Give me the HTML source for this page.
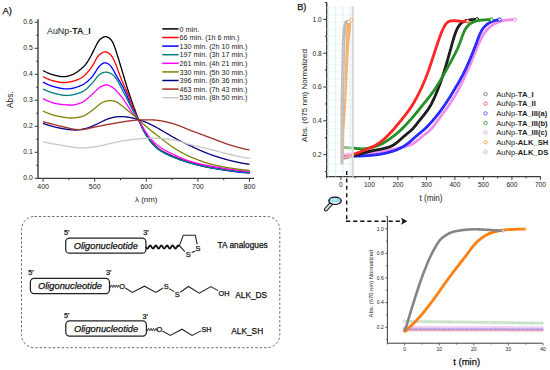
<!DOCTYPE html><html><head><meta charset="utf-8"><style>html,body{margin:0;padding:0;background:#fff;width:550px;height:370px;overflow:hidden;position:relative}svg text{stroke:none} svg text.dk{stroke:#111;stroke-width:0.25px;fill:#111}</style></head><body><svg width="550" height="370" viewBox="0 0 550 370" style="position:absolute;left:0;top:0">
<g font-family='"Liberation Sans", sans-serif'>
<text class="dk" x="2.4" y="13.6" font-size="9.5" fill="#1a1a1a">A)</text>
<path d="M38,19.2 V178.4 H254" fill="none" stroke="#3a3a3a" stroke-width="1.4"/>
<path d="M34.7,178.3 H38" stroke="#3a3a3a" stroke-width="1"/>
<text x="32.8" y="180.2" font-size="6.8" text-anchor="end" fill="#1a1a1a">0.0</text>
<path d="M34.7,152.3 H38" stroke="#3a3a3a" stroke-width="1"/>
<text x="32.8" y="154.2" font-size="6.8" text-anchor="end" fill="#1a1a1a">0.1</text>
<path d="M34.7,126.3 H38" stroke="#3a3a3a" stroke-width="1"/>
<text x="32.8" y="128.2" font-size="6.8" text-anchor="end" fill="#1a1a1a">0.2</text>
<path d="M34.7,100.3 H38" stroke="#3a3a3a" stroke-width="1"/>
<text x="32.8" y="102.2" font-size="6.8" text-anchor="end" fill="#1a1a1a">0.3</text>
<path d="M34.7,74.3 H38" stroke="#3a3a3a" stroke-width="1"/>
<text x="32.8" y="76.2" font-size="6.8" text-anchor="end" fill="#1a1a1a">0.4</text>
<path d="M34.7,48.3 H38" stroke="#3a3a3a" stroke-width="1"/>
<text x="32.8" y="50.2" font-size="6.8" text-anchor="end" fill="#1a1a1a">0.5</text>
<path d="M34.7,22.3 H38" stroke="#3a3a3a" stroke-width="1"/>
<text x="32.8" y="24.2" font-size="6.8" text-anchor="end" fill="#1a1a1a">0.6</text>
<path d="M36.2,165.3 H38" stroke="#3a3a3a" stroke-width="1"/>
<path d="M36.2,139.3 H38" stroke="#3a3a3a" stroke-width="1"/>
<path d="M36.2,113.3 H38" stroke="#3a3a3a" stroke-width="1"/>
<path d="M36.2,87.3 H38" stroke="#3a3a3a" stroke-width="1"/>
<path d="M36.2,61.3 H38" stroke="#3a3a3a" stroke-width="1"/>
<path d="M36.2,35.3 H38" stroke="#3a3a3a" stroke-width="1"/>
<path d="M43.1,178.4 V181.70000000000002" stroke="#3a3a3a" stroke-width="1"/>
<text x="43.1" y="188.9" font-size="7" text-anchor="middle" fill="#1a1a1a">400</text>
<path d="M94.7,178.4 V181.70000000000002" stroke="#3a3a3a" stroke-width="1"/>
<text x="94.7" y="188.9" font-size="7" text-anchor="middle" fill="#1a1a1a">500</text>
<path d="M146.3,178.4 V181.70000000000002" stroke="#3a3a3a" stroke-width="1"/>
<text x="146.3" y="188.9" font-size="7" text-anchor="middle" fill="#1a1a1a">600</text>
<path d="M197.9,178.4 V181.70000000000002" stroke="#3a3a3a" stroke-width="1"/>
<text x="197.9" y="188.9" font-size="7" text-anchor="middle" fill="#1a1a1a">700</text>
<path d="M249.5,178.4 V181.70000000000002" stroke="#3a3a3a" stroke-width="1"/>
<text x="249.5" y="188.9" font-size="7" text-anchor="middle" fill="#1a1a1a">800</text>
<path d="M68.9,178.4 V180.20000000000002" stroke="#3a3a3a" stroke-width="1"/>
<path d="M120.5,178.4 V180.20000000000002" stroke="#3a3a3a" stroke-width="1"/>
<path d="M172.1,178.4 V180.20000000000002" stroke="#3a3a3a" stroke-width="1"/>
<path d="M223.7,178.4 V180.20000000000002" stroke="#3a3a3a" stroke-width="1"/>
<text x="146.2" y="201.7" font-size="7.9" text-anchor="middle" fill="#1a1a1a">λ (nm)</text>
<text transform="translate(12.6,99.7) rotate(-90)" font-size="8.2" text-anchor="middle" fill="#1a1a1a">Abs.</text>
<text x="47" y="34.3" font-size="8.9" fill="#1a1a1a">AuNp-<tspan font-weight="bold">TA_I</tspan></text>
<path d="M43.0,70.5 L43.5,70.8 L44.0,71.0 L44.5,71.3 L45.0,71.5 L45.5,71.8 L46.0,72.0 L46.5,72.3 L47.0,72.5 L47.5,72.8 L48.0,73.0 L48.5,73.2 L49.0,73.4 L49.5,73.6 L50.0,73.8 L50.5,74.0 L51.0,74.2 L51.5,74.3 L52.0,74.5 L52.5,74.6 L53.0,74.8 L53.5,74.9 L54.0,75.1 L54.5,75.2 L55.0,75.3 L55.5,75.4 L56.0,75.6 L56.5,75.7 L57.0,75.8 L57.5,75.9 L58.0,76.0 L58.5,76.1 L59.0,76.2 L59.5,76.3 L60.0,76.4 L60.5,76.5 L61.0,76.5 L61.5,76.6 L62.0,76.7 L62.5,76.7 L63.0,76.7 L63.5,76.7 L64.0,76.7 L64.5,76.7 L65.0,76.7 L65.5,76.6 L66.0,76.5 L66.5,76.5 L67.0,76.4 L67.5,76.2 L68.0,76.1 L68.5,76.0 L69.0,75.8 L69.5,75.7 L70.0,75.5 L70.5,75.3 L71.0,75.1 L71.5,74.9 L72.0,74.8 L72.5,74.5 L73.0,74.3 L73.5,74.1 L74.0,73.8 L74.5,73.6 L75.0,73.3 L75.5,73.0 L76.0,72.7 L76.5,72.4 L77.0,72.0 L77.5,71.7 L78.0,71.3 L78.5,70.9 L79.0,70.6 L79.5,70.2 L80.0,69.8 L80.5,69.4 L81.0,69.0 L81.5,68.5 L82.0,68.1 L82.5,67.6 L83.0,67.2 L83.5,66.7 L84.0,66.2 L84.5,65.6 L85.0,65.1 L85.5,64.5 L86.0,63.9 L86.5,63.2 L87.0,62.5 L87.5,61.8 L88.0,61.0 L88.5,60.2 L89.0,59.4 L89.5,58.5 L90.0,57.6 L90.5,56.7 L91.0,55.8 L91.5,54.8 L92.0,53.9 L92.5,52.9 L93.0,51.9 L93.5,50.9 L94.0,49.9 L94.5,48.8 L95.0,47.8 L95.5,46.7 L96.0,45.7 L96.5,44.7 L97.0,43.8 L97.5,42.9 L98.0,42.0 L98.5,41.3 L99.0,40.6 L99.5,40.0 L100.0,39.5 L100.5,39.0 L101.0,38.6 L101.5,38.3 L102.0,37.9 L102.5,37.6 L103.0,37.4 L103.5,37.1 L104.0,36.9 L104.5,36.8 L105.0,36.7 L105.5,36.7 L106.0,36.7 L106.5,36.8 L107.0,36.9 L107.5,37.1 L108.0,37.3 L108.5,37.6 L109.0,37.9 L109.5,38.3 L110.0,38.7 L110.5,39.2 L111.0,39.7 L111.5,40.4 L112.0,41.1 L112.5,41.9 L113.0,42.9 L113.5,44.0 L114.0,45.3 L114.5,46.6 L115.0,48.0 L115.5,49.5 L116.0,51.0 L116.5,52.5 L117.0,54.1 L117.5,55.7 L118.0,57.2 L118.5,58.8 L119.0,60.5 L119.5,62.1 L120.0,63.8 L120.5,65.5 L121.0,67.1 L121.5,68.8 L122.0,70.5 L122.5,72.2 L123.0,73.9 L123.5,75.5 L124.0,77.2 L124.5,78.9 L125.0,80.5 L125.5,82.2 L126.0,83.8 L126.5,85.4 L127.0,87.0 L127.5,88.6 L128.0,90.2 L128.5,91.7 L129.0,93.3 L129.5,94.8 L130.0,96.2 L130.5,97.7 L131.0,99.1 L131.5,100.5 L132.0,101.9 L132.5,103.3 L133.0,104.7 L133.5,106.0 L134.0,107.4 L134.5,108.7 L135.0,110.1 L135.5,111.4 L136.0,112.8 L136.5,114.1 L137.0,115.5 L137.5,116.8 L138.0,118.0 L138.5,119.3 L139.0,120.5 L139.5,121.7 L140.0,122.8 L140.5,123.9 L141.0,125.0 L141.5,126.0 L142.0,127.1 L142.5,128.1 L143.0,129.0 L143.5,130.0 L144.0,130.9 L144.5,131.8 L145.0,132.7 L145.5,133.5 L146.0,134.4 L146.5,135.2 L147.0,136.0 L147.5,136.7 L148.0,137.5 L148.5,138.2 L149.0,138.9 L149.5,139.6 L150.0,140.2 L150.5,140.8 L151.0,141.4 L151.5,142.0 L152.0,142.6 L152.5,143.2 L153.0,143.7 L153.5,144.2 L154.0,144.8 L154.5,145.3 L155.0,145.7 L155.5,146.2 L156.0,146.7 L156.5,147.1 L157.0,147.5 L157.5,148.0 L158.0,148.4 L158.5,148.7 L159.0,149.1 L159.5,149.4 L160.0,149.8 L160.5,150.1 L161.0,150.4 L161.5,150.7 L162.0,151.0 L162.5,151.3 L163.0,151.6 L163.5,151.9 L164.0,152.1 L164.5,152.4 L165.0,152.7 L165.5,152.9 L166.0,153.2 L166.5,153.4 L167.0,153.6 L167.5,153.9 L168.0,154.1 L168.5,154.3 L169.0,154.5 L169.5,154.8 L170.0,155.0 L170.5,155.2 L171.0,155.4 L171.5,155.6 L172.0,155.8 L172.5,156.1 L173.0,156.3 L173.5,156.5 L174.0,156.7 L174.5,156.9 L175.0,157.1 L175.5,157.3 L176.0,157.5 L176.5,157.7 L177.0,157.9 L177.5,158.1 L178.0,158.3 L178.5,158.5 L179.0,158.7 L179.5,158.9 L180.0,159.1 L180.5,159.2 L181.0,159.4 L181.5,159.6 L182.0,159.8 L182.5,160.0 L183.0,160.1 L183.5,160.3 L184.0,160.5 L184.5,160.7 L185.0,160.8 L185.5,161.0 L186.0,161.1 L186.5,161.3 L187.0,161.5 L187.5,161.6 L188.0,161.8 L188.5,161.9 L189.0,162.1 L189.5,162.2 L190.0,162.4 L190.5,162.5 L191.0,162.7 L191.5,162.8 L192.0,162.9 L192.5,163.1 L193.0,163.2 L193.5,163.3 L194.0,163.5 L194.5,163.6 L195.0,163.8 L195.5,163.9 L196.0,164.0 L196.5,164.2 L197.0,164.3 L197.5,164.4 L198.0,164.5 L198.5,164.7 L199.0,164.8 L199.5,164.9 L200.0,165.0 L200.5,165.1 L201.0,165.3 L201.5,165.4 L202.0,165.5 L202.5,165.6 L203.0,165.7 L203.5,165.8 L204.0,166.0 L204.5,166.1 L205.0,166.2 L205.5,166.3 L206.0,166.4 L206.5,166.5 L207.0,166.6 L207.5,166.7 L208.0,166.8 L208.5,166.9 L209.0,167.0 L209.5,167.1 L210.0,167.2 L210.5,167.3 L211.0,167.4 L211.5,167.5 L212.0,167.6 L212.5,167.7 L213.0,167.7 L213.5,167.8 L214.0,167.9 L214.5,168.0 L215.0,168.1 L215.5,168.2 L216.0,168.3 L216.5,168.3 L217.0,168.4 L217.5,168.5 L218.0,168.6 L218.5,168.7 L219.0,168.7 L219.5,168.8 L220.0,168.9 L220.5,169.0 L221.0,169.0 L221.5,169.1 L222.0,169.2 L222.5,169.3 L223.0,169.3 L223.5,169.4 L224.0,169.5 L224.5,169.5 L225.0,169.6 L225.5,169.7 L226.0,169.8 L226.5,169.8 L227.0,169.9 L227.5,170.0 L228.0,170.0 L228.5,170.1 L229.0,170.2 L229.5,170.2 L230.0,170.3 L230.5,170.4 L231.0,170.4 L231.5,170.5 L232.0,170.6 L232.5,170.6 L233.0,170.7 L233.5,170.8 L234.0,170.8 L234.5,170.9 L235.0,170.9 L235.5,171.0 L236.0,171.1 L236.5,171.1 L237.0,171.2 L237.5,171.3 L238.0,171.3 L238.5,171.4 L239.0,171.4 L239.5,171.5 L240.0,171.6 L240.5,171.6 L241.0,171.7 L241.5,171.7 L242.0,171.8 L242.5,171.8 L243.0,171.9 L243.5,172.0 L244.0,172.0 L244.5,172.1 L245.0,172.1 L245.5,172.2 L246.0,172.2 L246.5,172.3 L247.0,172.3 L247.5,172.4 L248.0,172.4 L248.5,172.5 L249.0,172.5 L249.5,172.5 L249.6,172.6" fill="none" stroke="#000000" stroke-width="1.3" stroke-linejoin="round"/>
<path d="M43.0,76.5 L43.5,76.8 L44.0,77.0 L44.5,77.3 L45.0,77.6 L45.5,77.8 L46.0,78.1 L46.5,78.3 L47.0,78.6 L47.5,78.8 L48.0,79.0 L48.5,79.2 L49.0,79.4 L49.5,79.6 L50.0,79.8 L50.5,80.0 L51.0,80.2 L51.5,80.3 L52.0,80.5 L52.5,80.6 L53.0,80.7 L53.5,80.9 L54.0,81.0 L54.5,81.1 L55.0,81.2 L55.5,81.4 L56.0,81.5 L56.5,81.6 L57.0,81.7 L57.5,81.8 L58.0,81.9 L58.5,82.0 L59.0,82.1 L59.5,82.2 L60.0,82.3 L60.5,82.3 L61.0,82.4 L61.5,82.4 L62.0,82.5 L62.5,82.5 L63.0,82.5 L63.5,82.5 L64.0,82.5 L64.5,82.5 L65.0,82.5 L65.5,82.5 L66.0,82.5 L66.5,82.4 L67.0,82.4 L67.5,82.3 L68.0,82.2 L68.5,82.1 L69.0,82.1 L69.5,82.0 L70.0,81.9 L70.5,81.8 L71.0,81.7 L71.5,81.6 L72.0,81.5 L72.5,81.4 L73.0,81.2 L73.5,81.1 L74.0,81.0 L74.5,80.8 L75.0,80.7 L75.5,80.5 L76.0,80.3 L76.5,80.1 L77.0,79.9 L77.5,79.7 L78.0,79.5 L78.5,79.3 L79.0,79.0 L79.5,78.8 L80.0,78.5 L80.5,78.3 L81.0,78.0 L81.5,77.7 L82.0,77.4 L82.5,77.0 L83.0,76.7 L83.5,76.3 L84.0,75.9 L84.5,75.4 L85.0,75.0 L85.5,74.5 L86.0,74.0 L86.5,73.5 L87.0,72.9 L87.5,72.4 L88.0,71.8 L88.5,71.2 L89.0,70.6 L89.5,70.0 L90.0,69.3 L90.5,68.7 L91.0,68.0 L91.5,67.3 L92.0,66.5 L92.5,65.7 L93.0,64.9 L93.5,64.1 L94.0,63.1 L94.5,62.2 L95.0,61.3 L95.5,60.3 L96.0,59.4 L96.5,58.5 L97.0,57.7 L97.5,57.0 L98.0,56.4 L98.5,55.8 L99.0,55.2 L99.5,54.7 L100.0,54.3 L100.5,53.9 L101.0,53.5 L101.5,53.2 L102.0,52.9 L102.5,52.6 L103.0,52.3 L103.5,52.2 L104.0,52.0 L104.5,51.9 L105.0,51.9 L105.5,51.9 L106.0,52.0 L106.5,52.1 L107.0,52.3 L107.5,52.5 L108.0,52.8 L108.5,53.1 L109.0,53.4 L109.5,53.8 L110.0,54.3 L110.5,54.8 L111.0,55.3 L111.5,55.9 L112.0,56.6 L112.5,57.4 L113.0,58.3 L113.5,59.2 L114.0,60.2 L114.5,61.3 L115.0,62.4 L115.5,63.6 L116.0,64.8 L116.5,66.1 L117.0,67.5 L117.5,68.9 L118.0,70.3 L118.5,71.7 L119.0,73.1 L119.5,74.4 L120.0,75.8 L120.5,77.0 L121.0,78.3 L121.5,79.5 L122.0,80.7 L122.5,81.8 L123.0,83.0 L123.5,84.1 L124.0,85.2 L124.5,86.4 L125.0,87.5 L125.5,88.7 L126.0,89.8 L126.5,91.0 L127.0,92.2 L127.5,93.4 L128.0,94.6 L128.5,95.8 L129.0,97.1 L129.5,98.3 L130.0,99.6 L130.5,100.8 L131.0,102.1 L131.5,103.3 L132.0,104.6 L132.5,105.8 L133.0,107.1 L133.5,108.3 L134.0,109.5 L134.5,110.7 L135.0,111.8 L135.5,113.0 L136.0,114.1 L136.5,115.2 L137.0,116.3 L137.5,117.4 L138.0,118.4 L138.5,119.5 L139.0,120.6 L139.5,121.7 L140.0,122.8 L140.5,123.9 L141.0,125.0 L141.5,126.0 L142.0,127.1 L142.5,128.1 L143.0,129.1 L143.5,130.1 L144.0,131.1 L144.5,132.0 L145.0,132.9 L145.5,133.7 L146.0,134.6 L146.5,135.4 L147.0,136.2 L147.5,136.9 L148.0,137.7 L148.5,138.4 L149.0,139.1 L149.5,139.8 L150.0,140.4 L150.5,141.0 L151.0,141.6 L151.5,142.2 L152.0,142.8 L152.5,143.4 L153.0,143.9 L153.5,144.4 L154.0,145.0 L154.5,145.5 L155.0,145.9 L155.5,146.4 L156.0,146.9 L156.5,147.3 L157.0,147.7 L157.5,148.2 L158.0,148.6 L158.5,148.9 L159.0,149.3 L159.5,149.6 L160.0,150.0 L160.5,150.3 L161.0,150.6 L161.5,150.9 L162.0,151.2 L162.5,151.5 L163.0,151.8 L163.5,152.1 L164.0,152.3 L164.5,152.6 L165.0,152.9 L165.5,153.1 L166.0,153.4 L166.5,153.6 L167.0,153.8 L167.5,154.1 L168.0,154.3 L168.5,154.5 L169.0,154.7 L169.5,155.0 L170.0,155.2 L170.5,155.4 L171.0,155.6 L171.5,155.8 L172.0,156.0 L172.5,156.3 L173.0,156.5 L173.5,156.7 L174.0,156.9 L174.5,157.1 L175.0,157.3 L175.5,157.5 L176.0,157.7 L176.5,157.9 L177.0,158.1 L177.5,158.3 L178.0,158.5 L178.5,158.7 L179.0,158.9 L179.5,159.1 L180.0,159.3 L180.5,159.4 L181.0,159.6 L181.5,159.8 L182.0,160.0 L182.5,160.2 L183.0,160.3 L183.5,160.5 L184.0,160.7 L184.5,160.9 L185.0,161.0 L185.5,161.2 L186.0,161.3 L186.5,161.5 L187.0,161.7 L187.5,161.8 L188.0,162.0 L188.5,162.1 L189.0,162.3 L189.5,162.4 L190.0,162.6 L190.5,162.7 L191.0,162.9 L191.5,163.0 L192.0,163.1 L192.5,163.3 L193.0,163.4 L193.5,163.6 L194.0,163.7 L194.5,163.8 L195.0,164.0 L195.5,164.1 L196.0,164.2 L196.5,164.4 L197.0,164.5 L197.5,164.6 L198.0,164.8 L198.5,164.9 L199.0,165.0 L199.5,165.1 L200.0,165.3 L200.5,165.4 L201.0,165.5 L201.5,165.6 L202.0,165.7 L202.5,165.8 L203.0,166.0 L203.5,166.1 L204.0,166.2 L204.5,166.3 L205.0,166.4 L205.5,166.5 L206.0,166.6 L206.5,166.7 L207.0,166.8 L207.5,166.9 L208.0,167.0 L208.5,167.1 L209.0,167.2 L209.5,167.3 L210.0,167.4 L210.5,167.5 L211.0,167.6 L211.5,167.7 L212.0,167.8 L212.5,167.8 L213.0,167.9 L213.5,168.0 L214.0,168.1 L214.5,168.2 L215.0,168.3 L215.5,168.4 L216.0,168.5 L216.5,168.5 L217.0,168.6 L217.5,168.7 L218.0,168.8 L218.5,168.9 L219.0,169.0 L219.5,169.1 L220.0,169.1 L220.5,169.2 L221.0,169.3 L221.5,169.4 L222.0,169.5 L222.5,169.6 L223.0,169.6 L223.5,169.7 L224.0,169.8 L224.5,169.9 L225.0,169.9 L225.5,170.0 L226.0,170.1 L226.5,170.2 L227.0,170.3 L227.5,170.3 L228.0,170.4 L228.5,170.5 L229.0,170.5 L229.5,170.6 L230.0,170.7 L230.5,170.8 L231.0,170.8 L231.5,170.9 L232.0,171.0 L232.5,171.0 L233.0,171.1 L233.5,171.2 L234.0,171.2 L234.5,171.3 L235.0,171.4 L235.5,171.4 L236.0,171.5 L236.5,171.6 L237.0,171.6 L237.5,171.7 L238.0,171.7 L238.5,171.8 L239.0,171.8 L239.5,171.9 L240.0,172.0 L240.5,172.0 L241.0,172.1 L241.5,172.1 L242.0,172.2 L242.5,172.2 L243.0,172.3 L243.5,172.3 L244.0,172.4 L244.5,172.4 L245.0,172.4 L245.5,172.5 L246.0,172.5 L246.5,172.6 L247.0,172.6 L247.5,172.6 L248.0,172.7 L248.5,172.7 L249.0,172.7 L249.5,172.8 L249.6,172.8" fill="none" stroke="#ff0000" stroke-width="1.3" stroke-linejoin="round"/>
<path d="M43.0,82.2 L43.5,82.4 L44.0,82.7 L44.5,82.9 L45.0,83.2 L45.5,83.4 L46.0,83.7 L46.5,83.9 L47.0,84.1 L47.5,84.4 L48.0,84.6 L48.5,84.8 L49.0,85.0 L49.5,85.2 L50.0,85.4 L50.5,85.6 L51.0,85.8 L51.5,85.9 L52.0,86.1 L52.5,86.3 L53.0,86.4 L53.5,86.6 L54.0,86.7 L54.5,86.9 L55.0,87.0 L55.5,87.1 L56.0,87.2 L56.5,87.4 L57.0,87.5 L57.5,87.6 L58.0,87.7 L58.5,87.8 L59.0,87.9 L59.5,88.0 L60.0,88.1 L60.5,88.2 L61.0,88.3 L61.5,88.4 L62.0,88.5 L62.5,88.6 L63.0,88.7 L63.5,88.7 L64.0,88.8 L64.5,88.8 L65.0,88.9 L65.5,88.9 L66.0,88.9 L66.5,88.9 L67.0,89.0 L67.5,88.9 L68.0,88.9 L68.5,88.9 L69.0,88.9 L69.5,88.8 L70.0,88.7 L70.5,88.7 L71.0,88.6 L71.5,88.5 L72.0,88.4 L72.5,88.3 L73.0,88.2 L73.5,88.1 L74.0,87.9 L74.5,87.8 L75.0,87.6 L75.5,87.5 L76.0,87.3 L76.5,87.2 L77.0,87.0 L77.5,86.8 L78.0,86.7 L78.5,86.5 L79.0,86.3 L79.5,86.1 L80.0,85.9 L80.5,85.7 L81.0,85.5 L81.5,85.3 L82.0,85.1 L82.5,84.8 L83.0,84.6 L83.5,84.3 L84.0,84.0 L84.5,83.7 L85.0,83.3 L85.5,83.0 L86.0,82.6 L86.5,82.2 L87.0,81.8 L87.5,81.4 L88.0,81.0 L88.5,80.5 L89.0,80.0 L89.5,79.6 L90.0,79.1 L90.5,78.6 L91.0,78.0 L91.5,77.5 L92.0,76.9 L92.5,76.3 L93.0,75.6 L93.5,74.9 L94.0,74.2 L94.5,73.4 L95.0,72.6 L95.5,71.8 L96.0,71.0 L96.5,70.2 L97.0,69.4 L97.5,68.7 L98.0,68.0 L98.5,67.3 L99.0,66.7 L99.5,66.2 L100.0,65.6 L100.5,65.2 L101.0,64.7 L101.5,64.3 L102.0,63.9 L102.5,63.6 L103.0,63.3 L103.5,63.1 L104.0,62.9 L104.5,62.8 L105.0,62.8 L105.5,62.8 L106.0,62.9 L106.5,63.1 L107.0,63.3 L107.5,63.5 L108.0,63.8 L108.5,64.1 L109.0,64.4 L109.5,64.9 L110.0,65.3 L110.5,65.8 L111.0,66.4 L111.5,67.1 L112.0,67.9 L112.5,68.7 L113.0,69.5 L113.5,70.4 L114.0,71.3 L114.5,72.2 L115.0,73.1 L115.5,74.0 L116.0,74.9 L116.5,75.8 L117.0,76.6 L117.5,77.5 L118.0,78.3 L118.5,79.2 L119.0,80.1 L119.5,80.9 L120.0,81.8 L120.5,82.7 L121.0,83.6 L121.5,84.5 L122.0,85.4 L122.5,86.3 L123.0,87.3 L123.5,88.3 L124.0,89.2 L124.5,90.2 L125.0,91.3 L125.5,92.3 L126.0,93.4 L126.5,94.6 L127.0,95.7 L127.5,96.9 L128.0,98.2 L128.5,99.4 L129.0,100.7 L129.5,101.9 L130.0,103.2 L130.5,104.4 L131.0,105.5 L131.5,106.7 L132.0,107.7 L132.5,108.8 L133.0,109.8 L133.5,110.7 L134.0,111.6 L134.5,112.5 L135.0,113.4 L135.5,114.3 L136.0,115.1 L136.5,116.0 L137.0,116.9 L137.5,117.8 L138.0,118.7 L138.5,119.7 L139.0,120.7 L139.5,121.7 L140.0,122.8 L140.5,123.9 L141.0,125.0 L141.5,126.1 L142.0,127.1 L142.5,128.2 L143.0,129.2 L143.5,130.3 L144.0,131.2 L144.5,132.2 L145.0,133.1 L145.5,134.0 L146.0,134.8 L146.5,135.6 L147.0,136.4 L147.5,137.2 L148.0,138.0 L148.5,138.7 L149.0,139.4 L149.5,140.1 L150.0,140.7 L150.5,141.3 L151.0,141.9 L151.5,142.5 L152.0,143.1 L152.5,143.7 L153.0,144.2 L153.5,144.7 L154.0,145.3 L154.5,145.8 L155.0,146.2 L155.5,146.7 L156.0,147.2 L156.5,147.6 L157.0,148.0 L157.5,148.5 L158.0,148.9 L158.5,149.2 L159.0,149.6 L159.5,149.9 L160.0,150.3 L160.5,150.6 L161.0,150.9 L161.5,151.2 L162.0,151.5 L162.5,151.8 L163.0,152.1 L163.5,152.4 L164.0,152.7 L164.5,152.9 L165.0,153.2 L165.5,153.5 L166.0,153.7 L166.5,154.0 L167.0,154.2 L167.5,154.4 L168.0,154.7 L168.5,154.9 L169.0,155.1 L169.5,155.4 L170.0,155.6 L170.5,155.8 L171.0,156.0 L171.5,156.2 L172.0,156.4 L172.5,156.7 L173.0,156.9 L173.5,157.1 L174.0,157.3 L174.5,157.5 L175.0,157.7 L175.5,157.9 L176.0,158.1 L176.5,158.3 L177.0,158.5 L177.5,158.7 L178.0,158.9 L178.5,159.1 L179.0,159.3 L179.5,159.4 L180.0,159.6 L180.5,159.8 L181.0,160.0 L181.5,160.2 L182.0,160.3 L182.5,160.5 L183.0,160.7 L183.5,160.8 L184.0,161.0 L184.5,161.2 L185.0,161.3 L185.5,161.5 L186.0,161.7 L186.5,161.8 L187.0,162.0 L187.5,162.1 L188.0,162.3 L188.5,162.4 L189.0,162.6 L189.5,162.7 L190.0,162.9 L190.5,163.0 L191.0,163.2 L191.5,163.3 L192.0,163.4 L192.5,163.6 L193.0,163.7 L193.5,163.9 L194.0,164.0 L194.5,164.1 L195.0,164.3 L195.5,164.4 L196.0,164.5 L196.5,164.7 L197.0,164.8 L197.5,164.9 L198.0,165.1 L198.5,165.2 L199.0,165.3 L199.5,165.4 L200.0,165.6 L200.5,165.7 L201.0,165.8 L201.5,165.9 L202.0,166.0 L202.5,166.1 L203.0,166.3 L203.5,166.4 L204.0,166.5 L204.5,166.6 L205.0,166.7 L205.5,166.8 L206.0,166.9 L206.5,167.0 L207.0,167.1 L207.5,167.2 L208.0,167.3 L208.5,167.4 L209.0,167.5 L209.5,167.6 L210.0,167.7 L210.5,167.8 L211.0,167.9 L211.5,168.0 L212.0,168.1 L212.5,168.1 L213.0,168.2 L213.5,168.3 L214.0,168.4 L214.5,168.5 L215.0,168.6 L215.5,168.7 L216.0,168.7 L216.5,168.8 L217.0,168.9 L217.5,169.0 L218.0,169.1 L218.5,169.2 L219.0,169.3 L219.5,169.3 L220.0,169.4 L220.5,169.5 L221.0,169.6 L221.5,169.7 L222.0,169.7 L222.5,169.8 L223.0,169.9 L223.5,170.0 L224.0,170.1 L224.5,170.1 L225.0,170.2 L225.5,170.3 L226.0,170.4 L226.5,170.4 L227.0,170.5 L227.5,170.6 L228.0,170.7 L228.5,170.7 L229.0,170.8 L229.5,170.9 L230.0,171.0 L230.5,171.0 L231.0,171.1 L231.5,171.2 L232.0,171.2 L232.5,171.3 L233.0,171.4 L233.5,171.4 L234.0,171.5 L234.5,171.6 L235.0,171.6 L235.5,171.7 L236.0,171.7 L236.5,171.8 L237.0,171.9 L237.5,171.9 L238.0,172.0 L238.5,172.0 L239.0,172.1 L239.5,172.1 L240.0,172.2 L240.5,172.2 L241.0,172.3 L241.5,172.3 L242.0,172.4 L242.5,172.4 L243.0,172.5 L243.5,172.5 L244.0,172.6 L244.5,172.6 L245.0,172.7 L245.5,172.7 L246.0,172.7 L246.5,172.8 L247.0,172.8 L247.5,172.9 L248.0,172.9 L248.5,172.9 L249.0,172.9 L249.5,173.0 L249.6,173.0" fill="none" stroke="#0000ff" stroke-width="1.3" stroke-linejoin="round"/>
<path d="M43.0,89.0 L43.5,89.2 L44.0,89.5 L44.5,89.7 L45.0,89.9 L45.5,90.1 L46.0,90.4 L46.5,90.6 L47.0,90.8 L47.5,91.0 L48.0,91.2 L48.5,91.4 L49.0,91.6 L49.5,91.8 L50.0,92.0 L50.5,92.1 L51.0,92.3 L51.5,92.5 L52.0,92.6 L52.5,92.8 L53.0,92.9 L53.5,93.1 L54.0,93.2 L54.5,93.4 L55.0,93.5 L55.5,93.6 L56.0,93.7 L56.5,93.9 L57.0,94.0 L57.5,94.1 L58.0,94.2 L58.5,94.3 L59.0,94.4 L59.5,94.6 L60.0,94.7 L60.5,94.8 L61.0,94.9 L61.5,95.0 L62.0,95.0 L62.5,95.1 L63.0,95.2 L63.5,95.3 L64.0,95.3 L64.5,95.4 L65.0,95.4 L65.5,95.4 L66.0,95.4 L66.5,95.5 L67.0,95.5 L67.5,95.4 L68.0,95.4 L68.5,95.4 L69.0,95.3 L69.5,95.3 L70.0,95.2 L70.5,95.2 L71.0,95.1 L71.5,95.0 L72.0,94.9 L72.5,94.8 L73.0,94.7 L73.5,94.6 L74.0,94.5 L74.5,94.4 L75.0,94.3 L75.5,94.1 L76.0,94.0 L76.5,93.9 L77.0,93.7 L77.5,93.6 L78.0,93.4 L78.5,93.2 L79.0,93.1 L79.5,92.9 L80.0,92.7 L80.5,92.6 L81.0,92.4 L81.5,92.2 L82.0,91.9 L82.5,91.7 L83.0,91.4 L83.5,91.1 L84.0,90.8 L84.5,90.5 L85.0,90.1 L85.5,89.7 L86.0,89.3 L86.5,88.9 L87.0,88.5 L87.5,88.0 L88.0,87.5 L88.5,87.0 L89.0,86.5 L89.5,86.0 L90.0,85.5 L90.5,85.0 L91.0,84.5 L91.5,84.0 L92.0,83.4 L92.5,82.9 L93.0,82.3 L93.5,81.7 L94.0,81.1 L94.5,80.4 L95.0,79.8 L95.5,79.1 L96.0,78.4 L96.5,77.8 L97.0,77.1 L97.5,76.5 L98.0,76.0 L98.5,75.5 L99.0,75.0 L99.5,74.6 L100.0,74.2 L100.5,73.9 L101.0,73.6 L101.5,73.3 L102.0,73.1 L102.5,72.9 L103.0,72.7 L103.5,72.6 L104.0,72.4 L104.5,72.3 L105.0,72.2 L105.5,72.2 L106.0,72.2 L106.5,72.2 L107.0,72.2 L107.5,72.3 L108.0,72.4 L108.5,72.6 L109.0,72.8 L109.5,73.0 L110.0,73.2 L110.5,73.4 L111.0,73.7 L111.5,74.0 L112.0,74.3 L112.5,74.6 L113.0,75.0 L113.5,75.4 L114.0,75.9 L114.5,76.4 L115.0,77.0 L115.5,77.7 L116.0,78.4 L116.5,79.1 L117.0,79.9 L117.5,80.7 L118.0,81.6 L118.5,82.5 L119.0,83.4 L119.5,84.4 L120.0,85.3 L120.5,86.3 L121.0,87.2 L121.5,88.2 L122.0,89.2 L122.5,90.1 L123.0,91.1 L123.5,92.1 L124.0,93.0 L124.5,94.0 L125.0,95.0 L125.5,95.9 L126.0,96.9 L126.5,97.9 L127.0,99.0 L127.5,100.0 L128.0,101.0 L128.5,102.0 L129.0,103.0 L129.5,104.0 L130.0,105.0 L130.5,105.9 L131.0,106.9 L131.5,107.8 L132.0,108.7 L132.5,109.5 L133.0,110.3 L133.5,111.2 L134.0,112.0 L134.5,112.8 L135.0,113.6 L135.5,114.4 L136.0,115.2 L136.5,116.1 L137.0,116.9 L137.5,117.8 L138.0,118.8 L138.5,119.7 L139.0,120.7 L139.5,121.7 L140.0,122.8 L140.5,123.9 L141.0,125.0 L141.5,126.1 L142.0,127.2 L142.5,128.3 L143.0,129.3 L143.5,130.3 L144.0,131.3 L144.5,132.3 L145.0,133.2 L145.5,134.1 L146.0,134.9 L146.5,135.8 L147.0,136.6 L147.5,137.4 L148.0,138.1 L148.5,138.9 L149.0,139.6 L149.5,140.2 L150.0,140.9 L150.5,141.5 L151.0,142.1 L151.5,142.7 L152.0,143.3 L152.5,143.9 L153.0,144.4 L153.5,144.9 L154.0,145.5 L154.5,146.0 L155.0,146.5 L155.5,146.9 L156.0,147.4 L156.5,147.8 L157.0,148.2 L157.5,148.7 L158.0,149.1 L158.5,149.4 L159.0,149.8 L159.5,150.2 L160.0,150.5 L160.5,150.8 L161.0,151.1 L161.5,151.4 L162.0,151.8 L162.5,152.0 L163.0,152.3 L163.5,152.6 L164.0,152.9 L164.5,153.2 L165.0,153.4 L165.5,153.7 L166.0,153.9 L166.5,154.2 L167.0,154.4 L167.5,154.7 L168.0,154.9 L168.5,155.1 L169.0,155.3 L169.5,155.6 L170.0,155.8 L170.5,156.0 L171.0,156.2 L171.5,156.4 L172.0,156.6 L172.5,156.9 L173.0,157.1 L173.5,157.3 L174.0,157.5 L174.5,157.7 L175.0,157.9 L175.5,158.1 L176.0,158.3 L176.5,158.5 L177.0,158.7 L177.5,158.9 L178.0,159.0 L178.5,159.2 L179.0,159.4 L179.5,159.6 L180.0,159.8 L180.5,160.0 L181.0,160.1 L181.5,160.3 L182.0,160.5 L182.5,160.7 L183.0,160.8 L183.5,161.0 L184.0,161.2 L184.5,161.3 L185.0,161.5 L185.5,161.6 L186.0,161.8 L186.5,161.9 L187.0,162.1 L187.5,162.2 L188.0,162.4 L188.5,162.5 L189.0,162.7 L189.5,162.8 L190.0,162.9 L190.5,163.1 L191.0,163.2 L191.5,163.4 L192.0,163.5 L192.5,163.6 L193.0,163.8 L193.5,163.9 L194.0,164.0 L194.5,164.2 L195.0,164.3 L195.5,164.4 L196.0,164.6 L196.5,164.7 L197.0,164.8 L197.5,164.9 L198.0,165.1 L198.5,165.2 L199.0,165.3 L199.5,165.4 L200.0,165.6 L200.5,165.7 L201.0,165.8 L201.5,165.9 L202.0,166.0 L202.5,166.1 L203.0,166.2 L203.5,166.3 L204.0,166.5 L204.5,166.6 L205.0,166.7 L205.5,166.8 L206.0,166.9 L206.5,167.0 L207.0,167.1 L207.5,167.2 L208.0,167.2 L208.5,167.3 L209.0,167.4 L209.5,167.5 L210.0,167.6 L210.5,167.7 L211.0,167.8 L211.5,167.8 L212.0,167.9 L212.5,168.0 L213.0,168.1 L213.5,168.2 L214.0,168.3 L214.5,168.3 L215.0,168.4 L215.5,168.5 L216.0,168.6 L216.5,168.7 L217.0,168.7 L217.5,168.8 L218.0,168.9 L218.5,169.0 L219.0,169.0 L219.5,169.1 L220.0,169.2 L220.5,169.3 L221.0,169.3 L221.5,169.4 L222.0,169.5 L222.5,169.6 L223.0,169.6 L223.5,169.7 L224.0,169.8 L224.5,169.9 L225.0,169.9 L225.5,170.0 L226.0,170.1 L226.5,170.1 L227.0,170.2 L227.5,170.3 L228.0,170.3 L228.5,170.4 L229.0,170.5 L229.5,170.5 L230.0,170.6 L230.5,170.7 L231.0,170.7 L231.5,170.8 L232.0,170.9 L232.5,170.9 L233.0,171.0 L233.5,171.0 L234.0,171.1 L234.5,171.2 L235.0,171.2 L235.5,171.3 L236.0,171.3 L236.5,171.4 L237.0,171.4 L237.5,171.5 L238.0,171.5 L238.5,171.6 L239.0,171.6 L239.5,171.7 L240.0,171.7 L240.5,171.8 L241.0,171.8 L241.5,171.9 L242.0,171.9 L242.5,171.9 L243.0,172.0 L243.5,172.0 L244.0,172.1 L244.5,172.1 L245.0,172.1 L245.5,172.2 L246.0,172.2 L246.5,172.2 L247.0,172.3 L247.5,172.3 L248.0,172.3 L248.5,172.3 L249.0,172.4 L249.5,172.4 L249.6,172.4" fill="none" stroke="#008080" stroke-width="1.3" stroke-linejoin="round"/>
<path d="M43.0,98.7 L43.5,98.9 L44.0,99.2 L44.5,99.4 L45.0,99.7 L45.5,99.9 L46.0,100.1 L46.5,100.4 L47.0,100.6 L47.5,100.8 L48.0,101.0 L48.5,101.2 L49.0,101.4 L49.5,101.6 L50.0,101.8 L50.5,102.0 L51.0,102.2 L51.5,102.4 L52.0,102.6 L52.5,102.7 L53.0,102.9 L53.5,103.0 L54.0,103.1 L54.5,103.3 L55.0,103.4 L55.5,103.5 L56.0,103.6 L56.5,103.7 L57.0,103.8 L57.5,103.9 L58.0,103.9 L58.5,104.0 L59.0,104.1 L59.5,104.1 L60.0,104.2 L60.5,104.3 L61.0,104.3 L61.5,104.4 L62.0,104.5 L62.5,104.5 L63.0,104.6 L63.5,104.6 L64.0,104.7 L64.5,104.7 L65.0,104.8 L65.5,104.8 L66.0,104.9 L66.5,104.9 L67.0,104.9 L67.5,105.0 L68.0,105.0 L68.5,105.0 L69.0,105.0 L69.5,105.0 L70.0,105.1 L70.5,105.1 L71.0,105.1 L71.5,105.1 L72.0,105.0 L72.5,105.0 L73.0,105.0 L73.5,104.9 L74.0,104.8 L74.5,104.8 L75.0,104.7 L75.5,104.6 L76.0,104.4 L76.5,104.3 L77.0,104.2 L77.5,104.0 L78.0,103.9 L78.5,103.7 L79.0,103.5 L79.5,103.4 L80.0,103.2 L80.5,103.0 L81.0,102.8 L81.5,102.6 L82.0,102.3 L82.5,102.1 L83.0,101.8 L83.5,101.5 L84.0,101.2 L84.5,100.9 L85.0,100.5 L85.5,100.1 L86.0,99.8 L86.5,99.3 L87.0,98.9 L87.5,98.5 L88.0,98.0 L88.5,97.6 L89.0,97.1 L89.5,96.7 L90.0,96.2 L90.5,95.8 L91.0,95.3 L91.5,94.9 L92.0,94.4 L92.5,94.0 L93.0,93.5 L93.5,93.0 L94.0,92.6 L94.5,92.1 L95.0,91.6 L95.5,91.1 L96.0,90.6 L96.5,90.1 L97.0,89.6 L97.5,89.2 L98.0,88.7 L98.5,88.3 L99.0,87.9 L99.5,87.5 L100.0,87.2 L100.5,86.9 L101.0,86.6 L101.5,86.4 L102.0,86.1 L102.5,85.9 L103.0,85.7 L103.5,85.5 L104.0,85.4 L104.5,85.2 L105.0,85.1 L105.5,85.0 L106.0,85.0 L106.5,85.0 L107.0,85.0 L107.5,85.1 L108.0,85.2 L108.5,85.3 L109.0,85.5 L109.5,85.7 L110.0,86.0 L110.5,86.2 L111.0,86.5 L111.5,86.8 L112.0,87.1 L112.5,87.4 L113.0,87.8 L113.5,88.2 L114.0,88.6 L114.5,89.0 L115.0,89.5 L115.5,90.0 L116.0,90.5 L116.5,91.0 L117.0,91.5 L117.5,92.1 L118.0,92.6 L118.5,93.2 L119.0,93.7 L119.5,94.3 L120.0,94.9 L120.5,95.5 L121.0,96.1 L121.5,96.7 L122.0,97.4 L122.5,98.0 L123.0,98.7 L123.5,99.4 L124.0,100.1 L124.5,100.8 L125.0,101.6 L125.5,102.3 L126.0,103.1 L126.5,103.9 L127.0,104.7 L127.5,105.5 L128.0,106.3 L128.5,107.1 L129.0,107.9 L129.5,108.7 L130.0,109.4 L130.5,110.2 L131.0,110.9 L131.5,111.5 L132.0,112.2 L132.5,112.8 L133.0,113.4 L133.5,114.0 L134.0,114.5 L134.5,115.1 L135.0,115.6 L135.5,116.1 L136.0,116.7 L136.5,117.2 L137.0,117.8 L137.5,118.4 L138.0,119.1 L138.5,119.8 L139.0,120.5 L139.5,121.3 L140.0,122.1 L140.5,122.9 L141.0,123.8 L141.5,124.7 L142.0,125.6 L142.5,126.5 L143.0,127.4 L143.5,128.3 L144.0,129.2 L144.5,130.1 L145.0,130.9 L145.5,131.7 L146.0,132.5 L146.5,133.2 L147.0,133.9 L147.5,134.7 L148.0,135.4 L148.5,136.1 L149.0,136.7 L149.5,137.4 L150.0,138.0 L150.5,138.6 L151.0,139.2 L151.5,139.8 L152.0,140.3 L152.5,140.8 L153.0,141.3 L153.5,141.8 L154.0,142.3 L154.5,142.8 L155.0,143.2 L155.5,143.6 L156.0,144.1 L156.5,144.5 L157.0,144.9 L157.5,145.3 L158.0,145.7 L158.5,146.1 L159.0,146.4 L159.5,146.8 L160.0,147.1 L160.5,147.5 L161.0,147.8 L161.5,148.1 L162.0,148.5 L162.5,148.8 L163.0,149.1 L163.5,149.4 L164.0,149.7 L164.5,150.0 L165.0,150.3 L165.5,150.5 L166.0,150.8 L166.5,151.1 L167.0,151.3 L167.5,151.6 L168.0,151.8 L168.5,152.1 L169.0,152.3 L169.5,152.6 L170.0,152.8 L170.5,153.0 L171.0,153.3 L171.5,153.5 L172.0,153.8 L172.5,154.0 L173.0,154.2 L173.5,154.5 L174.0,154.7 L174.5,154.9 L175.0,155.2 L175.5,155.4 L176.0,155.6 L176.5,155.9 L177.0,156.1 L177.5,156.3 L178.0,156.6 L178.5,156.8 L179.0,157.0 L179.5,157.3 L180.0,157.5 L180.5,157.7 L181.0,157.9 L181.5,158.1 L182.0,158.4 L182.5,158.6 L183.0,158.8 L183.5,159.0 L184.0,159.2 L184.5,159.4 L185.0,159.6 L185.5,159.8 L186.0,160.0 L186.5,160.1 L187.0,160.3 L187.5,160.5 L188.0,160.7 L188.5,160.8 L189.0,161.0 L189.5,161.1 L190.0,161.3 L190.5,161.4 L191.0,161.6 L191.5,161.7 L192.0,161.9 L192.5,162.0 L193.0,162.2 L193.5,162.3 L194.0,162.4 L194.5,162.6 L195.0,162.7 L195.5,162.8 L196.0,163.0 L196.5,163.1 L197.0,163.2 L197.5,163.3 L198.0,163.5 L198.5,163.6 L199.0,163.7 L199.5,163.8 L200.0,163.9 L200.5,164.1 L201.0,164.2 L201.5,164.3 L202.0,164.4 L202.5,164.5 L203.0,164.6 L203.5,164.7 L204.0,164.8 L204.5,164.9 L205.0,165.0 L205.5,165.1 L206.0,165.2 L206.5,165.3 L207.0,165.4 L207.5,165.5 L208.0,165.6 L208.5,165.7 L209.0,165.8 L209.5,165.9 L210.0,166.0 L210.5,166.1 L211.0,166.2 L211.5,166.3 L212.0,166.4 L212.5,166.4 L213.0,166.5 L213.5,166.6 L214.0,166.7 L214.5,166.8 L215.0,166.9 L215.5,167.0 L216.0,167.1 L216.5,167.1 L217.0,167.2 L217.5,167.3 L218.0,167.4 L218.5,167.5 L219.0,167.6 L219.5,167.6 L220.0,167.7 L220.5,167.8 L221.0,167.9 L221.5,168.0 L222.0,168.1 L222.5,168.1 L223.0,168.2 L223.5,168.3 L224.0,168.4 L224.5,168.5 L225.0,168.5 L225.5,168.6 L226.0,168.7 L226.5,168.8 L227.0,168.8 L227.5,168.9 L228.0,169.0 L228.5,169.1 L229.0,169.1 L229.5,169.2 L230.0,169.3 L230.5,169.3 L231.0,169.4 L231.5,169.5 L232.0,169.5 L232.5,169.6 L233.0,169.7 L233.5,169.7 L234.0,169.8 L234.5,169.9 L235.0,169.9 L235.5,170.0 L236.0,170.1 L236.5,170.1 L237.0,170.2 L237.5,170.2 L238.0,170.3 L238.5,170.4 L239.0,170.4 L239.5,170.5 L240.0,170.5 L240.5,170.6 L241.0,170.6 L241.5,170.7 L242.0,170.7 L242.5,170.8 L243.0,170.8 L243.5,170.9 L244.0,170.9 L244.5,171.0 L245.0,171.0 L245.5,171.1 L246.0,171.1 L246.5,171.2 L247.0,171.2 L247.5,171.2 L248.0,171.3 L248.5,171.3 L249.0,171.3 L249.5,171.4 L249.6,171.4" fill="none" stroke="#ff00ff" stroke-width="1.3" stroke-linejoin="round"/>
<path d="M43.0,111.1 L43.5,111.3 L44.0,111.5 L44.5,111.8 L45.0,112.0 L45.5,112.2 L46.0,112.4 L46.5,112.6 L47.0,112.8 L47.5,113.0 L48.0,113.2 L48.5,113.4 L49.0,113.6 L49.5,113.8 L50.0,114.0 L50.5,114.2 L51.0,114.3 L51.5,114.5 L52.0,114.7 L52.5,114.8 L53.0,115.0 L53.5,115.1 L54.0,115.3 L54.5,115.4 L55.0,115.5 L55.5,115.6 L56.0,115.8 L56.5,115.9 L57.0,116.0 L57.5,116.1 L58.0,116.2 L58.5,116.3 L59.0,116.4 L59.5,116.5 L60.0,116.6 L60.5,116.7 L61.0,116.8 L61.5,116.9 L62.0,117.0 L62.5,117.0 L63.0,117.1 L63.5,117.2 L64.0,117.3 L64.5,117.4 L65.0,117.4 L65.5,117.5 L66.0,117.6 L66.5,117.6 L67.0,117.7 L67.5,117.8 L68.0,117.8 L68.5,117.8 L69.0,117.9 L69.5,117.9 L70.0,117.9 L70.5,118.0 L71.0,118.0 L71.5,118.0 L72.0,118.0 L72.5,118.0 L73.0,117.9 L73.5,117.9 L74.0,117.9 L74.5,117.8 L75.0,117.8 L75.5,117.7 L76.0,117.7 L76.5,117.6 L77.0,117.5 L77.5,117.5 L78.0,117.4 L78.5,117.3 L79.0,117.2 L79.5,117.1 L80.0,117.0 L80.5,116.9 L81.0,116.8 L81.5,116.7 L82.0,116.5 L82.5,116.4 L83.0,116.2 L83.5,116.0 L84.0,115.8 L84.5,115.5 L85.0,115.3 L85.5,115.0 L86.0,114.7 L86.5,114.4 L87.0,114.1 L87.5,113.7 L88.0,113.4 L88.5,113.0 L89.0,112.7 L89.5,112.3 L90.0,112.0 L90.5,111.6 L91.0,111.3 L91.5,110.9 L92.0,110.5 L92.5,110.2 L93.0,109.8 L93.5,109.4 L94.0,109.0 L94.5,108.6 L95.0,108.2 L95.5,107.8 L96.0,107.3 L96.5,106.9 L97.0,106.4 L97.5,106.0 L98.0,105.6 L98.5,105.1 L99.0,104.7 L99.5,104.3 L100.0,104.0 L100.5,103.6 L101.0,103.3 L101.5,103.0 L102.0,102.7 L102.5,102.4 L103.0,102.2 L103.5,102.0 L104.0,101.8 L104.5,101.7 L105.0,101.5 L105.5,101.4 L106.0,101.2 L106.5,101.1 L107.0,101.0 L107.5,100.9 L108.0,100.8 L108.5,100.8 L109.0,100.7 L109.5,100.7 L110.0,100.7 L110.5,100.7 L111.0,100.7 L111.5,100.7 L112.0,100.8 L112.5,100.8 L113.0,100.9 L113.5,101.0 L114.0,101.1 L114.5,101.2 L115.0,101.3 L115.5,101.5 L116.0,101.7 L116.5,101.9 L117.0,102.2 L117.5,102.5 L118.0,102.8 L118.5,103.1 L119.0,103.5 L119.5,103.9 L120.0,104.2 L120.5,104.6 L121.0,105.0 L121.5,105.4 L122.0,105.8 L122.5,106.2 L123.0,106.6 L123.5,107.0 L124.0,107.4 L124.5,107.8 L125.0,108.2 L125.5,108.6 L126.0,109.1 L126.5,109.5 L127.0,109.9 L127.5,110.3 L128.0,110.8 L128.5,111.2 L129.0,111.6 L129.5,112.0 L130.0,112.4 L130.5,112.9 L131.0,113.3 L131.5,113.7 L132.0,114.1 L132.5,114.5 L133.0,114.9 L133.5,115.4 L134.0,115.8 L134.5,116.2 L135.0,116.6 L135.5,117.0 L136.0,117.5 L136.5,117.9 L137.0,118.3 L137.5,118.8 L138.0,119.2 L138.5,119.6 L139.0,120.1 L139.5,120.5 L140.0,121.0 L140.5,121.4 L141.0,121.9 L141.5,122.4 L142.0,122.8 L142.5,123.3 L143.0,123.7 L143.5,124.2 L144.0,124.6 L144.5,125.1 L145.0,125.5 L145.5,126.0 L146.0,126.4 L146.5,126.8 L147.0,127.2 L147.5,127.6 L148.0,128.1 L148.5,128.5 L149.0,128.9 L149.5,129.3 L150.0,129.7 L150.5,130.1 L151.0,130.5 L151.5,130.9 L152.0,131.3 L152.5,131.7 L153.0,132.1 L153.5,132.5 L154.0,132.9 L154.5,133.3 L155.0,133.6 L155.5,134.0 L156.0,134.4 L156.5,134.8 L157.0,135.2 L157.5,135.6 L158.0,136.0 L158.5,136.4 L159.0,136.7 L159.5,137.1 L160.0,137.5 L160.5,137.9 L161.0,138.3 L161.5,138.7 L162.0,139.1 L162.5,139.5 L163.0,139.9 L163.5,140.3 L164.0,140.7 L164.5,141.0 L165.0,141.4 L165.5,141.8 L166.0,142.2 L166.5,142.6 L167.0,143.0 L167.5,143.3 L168.0,143.7 L168.5,144.1 L169.0,144.5 L169.5,144.8 L170.0,145.2 L170.5,145.5 L171.0,145.9 L171.5,146.2 L172.0,146.6 L172.5,146.9 L173.0,147.3 L173.5,147.6 L174.0,147.9 L174.5,148.2 L175.0,148.5 L175.5,148.9 L176.0,149.2 L176.5,149.5 L177.0,149.8 L177.5,150.1 L178.0,150.4 L178.5,150.7 L179.0,151.0 L179.5,151.3 L180.0,151.6 L180.5,151.8 L181.0,152.1 L181.5,152.4 L182.0,152.7 L182.5,152.9 L183.0,153.2 L183.5,153.5 L184.0,153.7 L184.5,154.0 L185.0,154.3 L185.5,154.5 L186.0,154.8 L186.5,155.0 L187.0,155.2 L187.5,155.5 L188.0,155.7 L188.5,155.9 L189.0,156.2 L189.5,156.4 L190.0,156.6 L190.5,156.8 L191.0,157.0 L191.5,157.3 L192.0,157.5 L192.5,157.7 L193.0,157.9 L193.5,158.1 L194.0,158.3 L194.5,158.5 L195.0,158.7 L195.5,158.9 L196.0,159.1 L196.5,159.3 L197.0,159.5 L197.5,159.7 L198.0,159.9 L198.5,160.1 L199.0,160.3 L199.5,160.5 L200.0,160.7 L200.5,160.9 L201.0,161.1 L201.5,161.2 L202.0,161.4 L202.5,161.6 L203.0,161.8 L203.5,161.9 L204.0,162.1 L204.5,162.3 L205.0,162.4 L205.5,162.6 L206.0,162.7 L206.5,162.9 L207.0,163.0 L207.5,163.2 L208.0,163.3 L208.5,163.5 L209.0,163.6 L209.5,163.8 L210.0,163.9 L210.5,164.0 L211.0,164.2 L211.5,164.3 L212.0,164.4 L212.5,164.5 L213.0,164.7 L213.5,164.8 L214.0,164.9 L214.5,165.0 L215.0,165.1 L215.5,165.2 L216.0,165.4 L216.5,165.5 L217.0,165.6 L217.5,165.7 L218.0,165.8 L218.5,165.9 L219.0,166.0 L219.5,166.1 L220.0,166.2 L220.5,166.3 L221.0,166.4 L221.5,166.5 L222.0,166.6 L222.5,166.7 L223.0,166.8 L223.5,166.9 L224.0,167.0 L224.5,167.1 L225.0,167.2 L225.5,167.3 L226.0,167.3 L226.5,167.4 L227.0,167.5 L227.5,167.6 L228.0,167.7 L228.5,167.8 L229.0,167.8 L229.5,167.9 L230.0,168.0 L230.5,168.1 L231.0,168.1 L231.5,168.2 L232.0,168.3 L232.5,168.4 L233.0,168.4 L233.5,168.5 L234.0,168.6 L234.5,168.7 L235.0,168.7 L235.5,168.8 L236.0,168.9 L236.5,168.9 L237.0,169.0 L237.5,169.1 L238.0,169.1 L238.5,169.2 L239.0,169.3 L239.5,169.3 L240.0,169.4 L240.5,169.5 L241.0,169.5 L241.5,169.6 L242.0,169.6 L242.5,169.7 L243.0,169.8 L243.5,169.8 L244.0,169.9 L244.5,169.9 L245.0,170.0 L245.5,170.0 L246.0,170.1 L246.5,170.1 L247.0,170.2 L247.5,170.2 L248.0,170.2 L248.5,170.3 L249.0,170.3 L249.5,170.4 L249.6,170.4" fill="none" stroke="#808000" stroke-width="1.3" stroke-linejoin="round"/>
<path d="M43.0,123.4 L43.5,123.6 L44.0,123.7 L44.5,123.9 L45.0,124.1 L45.5,124.2 L46.0,124.4 L46.5,124.6 L47.0,124.7 L47.5,124.9 L48.0,125.1 L48.5,125.2 L49.0,125.4 L49.5,125.5 L50.0,125.7 L50.5,125.8 L51.0,126.0 L51.5,126.1 L52.0,126.3 L52.5,126.4 L53.0,126.5 L53.5,126.7 L54.0,126.8 L54.5,126.9 L55.0,127.0 L55.5,127.2 L56.0,127.3 L56.5,127.4 L57.0,127.5 L57.5,127.6 L58.0,127.7 L58.5,127.8 L59.0,127.9 L59.5,128.0 L60.0,128.1 L60.5,128.2 L61.0,128.3 L61.5,128.4 L62.0,128.5 L62.5,128.6 L63.0,128.7 L63.5,128.8 L64.0,128.9 L64.5,128.9 L65.0,129.0 L65.5,129.1 L66.0,129.2 L66.5,129.3 L67.0,129.3 L67.5,129.4 L68.0,129.5 L68.5,129.5 L69.0,129.6 L69.5,129.6 L70.0,129.7 L70.5,129.7 L71.0,129.8 L71.5,129.8 L72.0,129.9 L72.5,129.9 L73.0,129.9 L73.5,129.9 L74.0,130.0 L74.5,130.0 L75.0,130.0 L75.5,130.0 L76.0,130.0 L76.5,129.9 L77.0,129.9 L77.5,129.9 L78.0,129.9 L78.5,129.8 L79.0,129.8 L79.5,129.7 L80.0,129.6 L80.5,129.6 L81.0,129.5 L81.5,129.4 L82.0,129.3 L82.5,129.2 L83.0,129.1 L83.5,129.0 L84.0,128.9 L84.5,128.8 L85.0,128.7 L85.5,128.5 L86.0,128.4 L86.5,128.3 L87.0,128.1 L87.5,128.0 L88.0,127.8 L88.5,127.6 L89.0,127.5 L89.5,127.3 L90.0,127.1 L90.5,126.9 L91.0,126.7 L91.5,126.5 L92.0,126.3 L92.5,126.1 L93.0,125.9 L93.5,125.6 L94.0,125.4 L94.5,125.2 L95.0,125.0 L95.5,124.7 L96.0,124.5 L96.5,124.3 L97.0,124.0 L97.5,123.8 L98.0,123.5 L98.5,123.3 L99.0,123.0 L99.5,122.8 L100.0,122.5 L100.5,122.3 L101.0,122.0 L101.5,121.8 L102.0,121.5 L102.5,121.3 L103.0,121.0 L103.5,120.8 L104.0,120.6 L104.5,120.4 L105.0,120.1 L105.5,119.9 L106.0,119.7 L106.5,119.5 L107.0,119.3 L107.5,119.1 L108.0,118.9 L108.5,118.7 L109.0,118.6 L109.5,118.4 L110.0,118.2 L110.5,118.1 L111.0,118.0 L111.5,117.8 L112.0,117.7 L112.5,117.6 L113.0,117.5 L113.5,117.3 L114.0,117.2 L114.5,117.2 L115.0,117.1 L115.5,117.0 L116.0,116.9 L116.5,116.9 L117.0,116.8 L117.5,116.8 L118.0,116.7 L118.5,116.7 L119.0,116.7 L119.5,116.6 L120.0,116.6 L120.5,116.6 L121.0,116.6 L121.5,116.6 L122.0,116.6 L122.5,116.6 L123.0,116.7 L123.5,116.7 L124.0,116.7 L124.5,116.8 L125.0,116.8 L125.5,116.8 L126.0,116.9 L126.5,117.0 L127.0,117.0 L127.5,117.1 L128.0,117.2 L128.5,117.2 L129.0,117.3 L129.5,117.4 L130.0,117.5 L130.5,117.6 L131.0,117.7 L131.5,117.8 L132.0,117.9 L132.5,118.0 L133.0,118.1 L133.5,118.3 L134.0,118.4 L134.5,118.5 L135.0,118.7 L135.5,118.8 L136.0,118.9 L136.5,119.1 L137.0,119.2 L137.5,119.4 L138.0,119.5 L138.5,119.7 L139.0,119.8 L139.5,120.0 L140.0,120.2 L140.5,120.3 L141.0,120.5 L141.5,120.7 L142.0,120.8 L142.5,121.0 L143.0,121.2 L143.5,121.4 L144.0,121.5 L144.5,121.7 L145.0,121.9 L145.5,122.1 L146.0,122.3 L146.5,122.5 L147.0,122.7 L147.5,123.0 L148.0,123.2 L148.5,123.4 L149.0,123.6 L149.5,123.9 L150.0,124.1 L150.5,124.3 L151.0,124.6 L151.5,124.8 L152.0,125.1 L152.5,125.3 L153.0,125.6 L153.5,125.9 L154.0,126.1 L154.5,126.4 L155.0,126.6 L155.5,126.9 L156.0,127.2 L156.5,127.5 L157.0,127.7 L157.5,128.0 L158.0,128.3 L158.5,128.6 L159.0,128.8 L159.5,129.1 L160.0,129.4 L160.5,129.7 L161.0,130.0 L161.5,130.3 L162.0,130.6 L162.5,130.9 L163.0,131.2 L163.5,131.5 L164.0,131.8 L164.5,132.0 L165.0,132.3 L165.5,132.6 L166.0,132.9 L166.5,133.2 L167.0,133.5 L167.5,133.8 L168.0,134.1 L168.5,134.4 L169.0,134.7 L169.5,135.0 L170.0,135.3 L170.5,135.6 L171.0,135.9 L171.5,136.2 L172.0,136.5 L172.5,136.8 L173.0,137.1 L173.5,137.3 L174.0,137.6 L174.5,137.9 L175.0,138.2 L175.5,138.4 L176.0,138.7 L176.5,139.0 L177.0,139.2 L177.5,139.5 L178.0,139.8 L178.5,140.0 L179.0,140.3 L179.5,140.5 L180.0,140.8 L180.5,141.0 L181.0,141.3 L181.5,141.5 L182.0,141.8 L182.5,142.0 L183.0,142.3 L183.5,142.5 L184.0,142.8 L184.5,143.0 L185.0,143.3 L185.5,143.5 L186.0,143.7 L186.5,144.0 L187.0,144.2 L187.5,144.5 L188.0,144.7 L188.5,144.9 L189.0,145.2 L189.5,145.4 L190.0,145.6 L190.5,145.9 L191.0,146.1 L191.5,146.4 L192.0,146.6 L192.5,146.8 L193.0,147.1 L193.5,147.3 L194.0,147.5 L194.5,147.8 L195.0,148.0 L195.5,148.2 L196.0,148.5 L196.5,148.7 L197.0,148.9 L197.5,149.1 L198.0,149.4 L198.5,149.6 L199.0,149.8 L199.5,150.0 L200.0,150.3 L200.5,150.5 L201.0,150.7 L201.5,150.9 L202.0,151.1 L202.5,151.4 L203.0,151.6 L203.5,151.8 L204.0,152.0 L204.5,152.2 L205.0,152.4 L205.5,152.6 L206.0,152.8 L206.5,153.0 L207.0,153.2 L207.5,153.4 L208.0,153.6 L208.5,153.8 L209.0,154.0 L209.5,154.2 L210.0,154.3 L210.5,154.5 L211.0,154.7 L211.5,154.9 L212.0,155.1 L212.5,155.2 L213.0,155.4 L213.5,155.6 L214.0,155.8 L214.5,155.9 L215.0,156.1 L215.5,156.3 L216.0,156.4 L216.5,156.6 L217.0,156.7 L217.5,156.9 L218.0,157.1 L218.5,157.2 L219.0,157.4 L219.5,157.5 L220.0,157.7 L220.5,157.8 L221.0,158.0 L221.5,158.1 L222.0,158.3 L222.5,158.4 L223.0,158.6 L223.5,158.7 L224.0,158.9 L224.5,159.0 L225.0,159.1 L225.5,159.3 L226.0,159.4 L226.5,159.6 L227.0,159.7 L227.5,159.8 L228.0,160.0 L228.5,160.1 L229.0,160.2 L229.5,160.3 L230.0,160.5 L230.5,160.6 L231.0,160.7 L231.5,160.8 L232.0,160.9 L232.5,161.1 L233.0,161.2 L233.5,161.3 L234.0,161.4 L234.5,161.5 L235.0,161.6 L235.5,161.8 L236.0,161.9 L236.5,162.0 L237.0,162.1 L237.5,162.2 L238.0,162.3 L238.5,162.4 L239.0,162.5 L239.5,162.6 L240.0,162.7 L240.5,162.8 L241.0,162.9 L241.5,163.0 L242.0,163.1 L242.5,163.2 L243.0,163.3 L243.5,163.4 L244.0,163.5 L244.5,163.6 L245.0,163.7 L245.5,163.7 L246.0,163.8 L246.5,163.9 L247.0,164.0 L247.5,164.0 L248.0,164.1 L248.5,164.2 L249.0,164.2 L249.5,164.3 L249.6,164.3" fill="none" stroke="#000080" stroke-width="1.3" stroke-linejoin="round"/>
<path d="M43.0,121.6 L43.5,121.7 L44.0,121.9 L44.5,122.0 L45.0,122.2 L45.5,122.3 L46.0,122.4 L46.5,122.6 L47.0,122.7 L47.5,122.8 L48.0,123.0 L48.5,123.1 L49.0,123.2 L49.5,123.4 L50.0,123.5 L50.5,123.6 L51.0,123.8 L51.5,123.9 L52.0,124.0 L52.5,124.2 L53.0,124.3 L53.5,124.4 L54.0,124.5 L54.5,124.7 L55.0,124.8 L55.5,124.9 L56.0,125.0 L56.5,125.2 L57.0,125.3 L57.5,125.4 L58.0,125.5 L58.5,125.7 L59.0,125.8 L59.5,125.9 L60.0,126.0 L60.5,126.1 L61.0,126.3 L61.5,126.4 L62.0,126.5 L62.5,126.6 L63.0,126.8 L63.5,126.9 L64.0,127.0 L64.5,127.1 L65.0,127.3 L65.5,127.4 L66.0,127.5 L66.5,127.6 L67.0,127.7 L67.5,127.9 L68.0,128.0 L68.5,128.1 L69.0,128.2 L69.5,128.3 L70.0,128.4 L70.5,128.6 L71.0,128.7 L71.5,128.8 L72.0,128.9 L72.5,129.0 L73.0,129.1 L73.5,129.1 L74.0,129.2 L74.5,129.3 L75.0,129.4 L75.5,129.4 L76.0,129.5 L76.5,129.5 L77.0,129.6 L77.5,129.6 L78.0,129.6 L78.5,129.7 L79.0,129.7 L79.5,129.7 L80.0,129.7 L80.5,129.7 L81.0,129.7 L81.5,129.6 L82.0,129.6 L82.5,129.5 L83.0,129.5 L83.5,129.4 L84.0,129.3 L84.5,129.3 L85.0,129.2 L85.5,129.1 L86.0,129.0 L86.5,128.9 L87.0,128.8 L87.5,128.7 L88.0,128.6 L88.5,128.5 L89.0,128.4 L89.5,128.2 L90.0,128.1 L90.5,128.0 L91.0,127.9 L91.5,127.8 L92.0,127.7 L92.5,127.6 L93.0,127.4 L93.5,127.3 L94.0,127.2 L94.5,127.1 L95.0,127.0 L95.5,126.9 L96.0,126.8 L96.5,126.7 L97.0,126.6 L97.5,126.5 L98.0,126.4 L98.5,126.3 L99.0,126.2 L99.5,126.1 L100.0,126.0 L100.5,125.9 L101.0,125.8 L101.5,125.7 L102.0,125.6 L102.5,125.5 L103.0,125.4 L103.5,125.3 L104.0,125.2 L104.5,125.1 L105.0,125.0 L105.5,124.9 L106.0,124.8 L106.5,124.7 L107.0,124.6 L107.5,124.5 L108.0,124.4 L108.5,124.4 L109.0,124.3 L109.5,124.2 L110.0,124.1 L110.5,124.0 L111.0,123.9 L111.5,123.8 L112.0,123.7 L112.5,123.6 L113.0,123.6 L113.5,123.5 L114.0,123.4 L114.5,123.3 L115.0,123.2 L115.5,123.1 L116.0,123.0 L116.5,122.9 L117.0,122.9 L117.5,122.8 L118.0,122.7 L118.5,122.6 L119.0,122.5 L119.5,122.4 L120.0,122.4 L120.5,122.3 L121.0,122.2 L121.5,122.1 L122.0,122.0 L122.5,121.9 L123.0,121.9 L123.5,121.8 L124.0,121.7 L124.5,121.6 L125.0,121.5 L125.5,121.5 L126.0,121.4 L126.5,121.3 L127.0,121.2 L127.5,121.2 L128.0,121.1 L128.5,121.0 L129.0,121.0 L129.5,120.9 L130.0,120.8 L130.5,120.8 L131.0,120.7 L131.5,120.6 L132.0,120.6 L132.5,120.5 L133.0,120.5 L133.5,120.4 L134.0,120.4 L134.5,120.3 L135.0,120.3 L135.5,120.2 L136.0,120.2 L136.5,120.1 L137.0,120.1 L137.5,120.1 L138.0,120.0 L138.5,120.0 L139.0,120.0 L139.5,120.0 L140.0,119.9 L140.5,119.9 L141.0,119.9 L141.5,119.9 L142.0,119.9 L142.5,119.9 L143.0,119.9 L143.5,119.9 L144.0,119.9 L144.5,119.8 L145.0,119.8 L145.5,119.8 L146.0,119.8 L146.5,119.8 L147.0,119.8 L147.5,119.8 L148.0,119.8 L148.5,119.8 L149.0,119.8 L149.5,119.8 L150.0,119.9 L150.5,119.9 L151.0,119.9 L151.5,119.9 L152.0,119.9 L152.5,119.9 L153.0,119.9 L153.5,120.0 L154.0,120.0 L154.5,120.0 L155.0,120.1 L155.5,120.1 L156.0,120.2 L156.5,120.2 L157.0,120.3 L157.5,120.3 L158.0,120.4 L158.5,120.5 L159.0,120.5 L159.5,120.6 L160.0,120.7 L160.5,120.8 L161.0,120.8 L161.5,120.9 L162.0,121.0 L162.5,121.1 L163.0,121.2 L163.5,121.3 L164.0,121.4 L164.5,121.5 L165.0,121.6 L165.5,121.8 L166.0,121.9 L166.5,122.0 L167.0,122.1 L167.5,122.2 L168.0,122.3 L168.5,122.5 L169.0,122.6 L169.5,122.7 L170.0,122.9 L170.5,123.0 L171.0,123.1 L171.5,123.3 L172.0,123.4 L172.5,123.5 L173.0,123.7 L173.5,123.8 L174.0,124.0 L174.5,124.1 L175.0,124.3 L175.5,124.5 L176.0,124.6 L176.5,124.8 L177.0,125.0 L177.5,125.1 L178.0,125.3 L178.5,125.5 L179.0,125.7 L179.5,125.9 L180.0,126.1 L180.5,126.3 L181.0,126.5 L181.5,126.7 L182.0,126.9 L182.5,127.1 L183.0,127.3 L183.5,127.5 L184.0,127.7 L184.5,127.9 L185.0,128.1 L185.5,128.4 L186.0,128.6 L186.5,128.8 L187.0,129.0 L187.5,129.2 L188.0,129.4 L188.5,129.6 L189.0,129.8 L189.5,130.0 L190.0,130.2 L190.5,130.4 L191.0,130.6 L191.5,130.8 L192.0,130.9 L192.5,131.1 L193.0,131.3 L193.5,131.5 L194.0,131.7 L194.5,131.9 L195.0,132.1 L195.5,132.3 L196.0,132.4 L196.5,132.6 L197.0,132.8 L197.5,133.0 L198.0,133.2 L198.5,133.4 L199.0,133.6 L199.5,133.7 L200.0,133.9 L200.5,134.1 L201.0,134.3 L201.5,134.5 L202.0,134.7 L202.5,134.8 L203.0,135.0 L203.5,135.2 L204.0,135.4 L204.5,135.6 L205.0,135.8 L205.5,135.9 L206.0,136.1 L206.5,136.3 L207.0,136.5 L207.5,136.7 L208.0,136.9 L208.5,137.1 L209.0,137.2 L209.5,137.4 L210.0,137.6 L210.5,137.8 L211.0,138.0 L211.5,138.2 L212.0,138.4 L212.5,138.6 L213.0,138.8 L213.5,138.9 L214.0,139.1 L214.5,139.3 L215.0,139.5 L215.5,139.7 L216.0,139.9 L216.5,140.1 L217.0,140.3 L217.5,140.5 L218.0,140.7 L218.5,140.9 L219.0,141.0 L219.5,141.2 L220.0,141.4 L220.5,141.6 L221.0,141.8 L221.5,142.0 L222.0,142.2 L222.5,142.4 L223.0,142.5 L223.5,142.7 L224.0,142.9 L224.5,143.1 L225.0,143.3 L225.5,143.4 L226.0,143.6 L226.5,143.8 L227.0,144.0 L227.5,144.1 L228.0,144.3 L228.5,144.5 L229.0,144.6 L229.5,144.8 L230.0,144.9 L230.5,145.1 L231.0,145.3 L231.5,145.4 L232.0,145.6 L232.5,145.7 L233.0,145.9 L233.5,146.0 L234.0,146.2 L234.5,146.3 L235.0,146.5 L235.5,146.6 L236.0,146.7 L236.5,146.9 L237.0,147.0 L237.5,147.2 L238.0,147.3 L238.5,147.4 L239.0,147.6 L239.5,147.7 L240.0,147.8 L240.5,148.0 L241.0,148.1 L241.5,148.2 L242.0,148.4 L242.5,148.5 L243.0,148.6 L243.5,148.7 L244.0,148.8 L244.5,149.0 L245.0,149.1 L245.5,149.2 L246.0,149.3 L246.5,149.4 L247.0,149.5 L247.5,149.6 L248.0,149.7 L248.5,149.7 L249.0,149.8 L249.5,149.9 L249.6,149.9" fill="none" stroke="#a03028" stroke-width="1.3" stroke-linejoin="round"/>
<path d="M43.0,141.9 L43.5,142.0 L44.0,142.1 L44.5,142.2 L45.0,142.3 L45.5,142.4 L46.0,142.5 L46.5,142.6 L47.0,142.7 L47.5,142.8 L48.0,142.9 L48.5,143.0 L49.0,143.0 L49.5,143.1 L50.0,143.2 L50.5,143.3 L51.0,143.4 L51.5,143.5 L52.0,143.6 L52.5,143.7 L53.0,143.8 L53.5,143.9 L54.0,144.0 L54.5,144.0 L55.0,144.1 L55.5,144.2 L56.0,144.3 L56.5,144.4 L57.0,144.5 L57.5,144.6 L58.0,144.7 L58.5,144.8 L59.0,144.8 L59.5,144.9 L60.0,145.0 L60.5,145.1 L61.0,145.2 L61.5,145.3 L62.0,145.4 L62.5,145.5 L63.0,145.6 L63.5,145.7 L64.0,145.7 L64.5,145.8 L65.0,145.9 L65.5,146.0 L66.0,146.1 L66.5,146.2 L67.0,146.3 L67.5,146.4 L68.0,146.5 L68.5,146.6 L69.0,146.7 L69.5,146.7 L70.0,146.8 L70.5,146.9 L71.0,147.0 L71.5,147.1 L72.0,147.2 L72.5,147.2 L73.0,147.3 L73.5,147.4 L74.0,147.4 L74.5,147.5 L75.0,147.6 L75.5,147.6 L76.0,147.7 L76.5,147.7 L77.0,147.8 L77.5,147.8 L78.0,147.8 L78.5,147.9 L79.0,147.9 L79.5,147.9 L80.0,147.9 L80.5,147.9 L81.0,147.9 L81.5,147.9 L82.0,147.9 L82.5,147.9 L83.0,147.9 L83.5,147.9 L84.0,147.9 L84.5,147.9 L85.0,147.8 L85.5,147.8 L86.0,147.8 L86.5,147.7 L87.0,147.7 L87.5,147.7 L88.0,147.6 L88.5,147.6 L89.0,147.5 L89.5,147.5 L90.0,147.4 L90.5,147.4 L91.0,147.3 L91.5,147.2 L92.0,147.2 L92.5,147.1 L93.0,147.0 L93.5,147.0 L94.0,146.9 L94.5,146.8 L95.0,146.7 L95.5,146.7 L96.0,146.6 L96.5,146.5 L97.0,146.4 L97.5,146.4 L98.0,146.3 L98.5,146.2 L99.0,146.1 L99.5,146.0 L100.0,145.9 L100.5,145.8 L101.0,145.7 L101.5,145.6 L102.0,145.5 L102.5,145.4 L103.0,145.3 L103.5,145.2 L104.0,145.1 L104.5,145.0 L105.0,144.8 L105.5,144.7 L106.0,144.6 L106.5,144.5 L107.0,144.3 L107.5,144.2 L108.0,144.1 L108.5,144.0 L109.0,143.8 L109.5,143.7 L110.0,143.6 L110.5,143.4 L111.0,143.3 L111.5,143.2 L112.0,143.1 L112.5,143.0 L113.0,142.8 L113.5,142.7 L114.0,142.6 L114.5,142.5 L115.0,142.4 L115.5,142.3 L116.0,142.2 L116.5,142.1 L117.0,142.0 L117.5,141.9 L118.0,141.8 L118.5,141.7 L119.0,141.6 L119.5,141.5 L120.0,141.4 L120.5,141.3 L121.0,141.2 L121.5,141.1 L122.0,141.0 L122.5,140.9 L123.0,140.8 L123.5,140.8 L124.0,140.7 L124.5,140.6 L125.0,140.5 L125.5,140.5 L126.0,140.4 L126.5,140.3 L127.0,140.2 L127.5,140.2 L128.0,140.1 L128.5,140.0 L129.0,140.0 L129.5,139.9 L130.0,139.8 L130.5,139.8 L131.0,139.7 L131.5,139.7 L132.0,139.6 L132.5,139.5 L133.0,139.5 L133.5,139.4 L134.0,139.4 L134.5,139.3 L135.0,139.3 L135.5,139.2 L136.0,139.2 L136.5,139.1 L137.0,139.1 L137.5,139.0 L138.0,139.0 L138.5,138.9 L139.0,138.9 L139.5,138.8 L140.0,138.8 L140.5,138.7 L141.0,138.7 L141.5,138.6 L142.0,138.6 L142.5,138.6 L143.0,138.5 L143.5,138.5 L144.0,138.5 L144.5,138.4 L145.0,138.4 L145.5,138.4 L146.0,138.3 L146.5,138.3 L147.0,138.3 L147.5,138.3 L148.0,138.3 L148.5,138.2 L149.0,138.2 L149.5,138.2 L150.0,138.2 L150.5,138.2 L151.0,138.2 L151.5,138.2 L152.0,138.2 L152.5,138.2 L153.0,138.2 L153.5,138.2 L154.0,138.2 L154.5,138.2 L155.0,138.2 L155.5,138.2 L156.0,138.2 L156.5,138.3 L157.0,138.3 L157.5,138.3 L158.0,138.3 L158.5,138.4 L159.0,138.4 L159.5,138.4 L160.0,138.4 L160.5,138.5 L161.0,138.5 L161.5,138.5 L162.0,138.6 L162.5,138.6 L163.0,138.7 L163.5,138.7 L164.0,138.7 L164.5,138.8 L165.0,138.8 L165.5,138.9 L166.0,138.9 L166.5,139.0 L167.0,139.0 L167.5,139.1 L168.0,139.1 L168.5,139.2 L169.0,139.3 L169.5,139.3 L170.0,139.4 L170.5,139.5 L171.0,139.5 L171.5,139.6 L172.0,139.7 L172.5,139.7 L173.0,139.8 L173.5,139.9 L174.0,140.0 L174.5,140.1 L175.0,140.2 L175.5,140.3 L176.0,140.4 L176.5,140.5 L177.0,140.7 L177.5,140.8 L178.0,140.9 L178.5,141.1 L179.0,141.2 L179.5,141.3 L180.0,141.5 L180.5,141.6 L181.0,141.8 L181.5,141.9 L182.0,142.1 L182.5,142.3 L183.0,142.4 L183.5,142.6 L184.0,142.7 L184.5,142.9 L185.0,143.1 L185.5,143.2 L186.0,143.4 L186.5,143.5 L187.0,143.7 L187.5,143.8 L188.0,144.0 L188.5,144.1 L189.0,144.3 L189.5,144.4 L190.0,144.5 L190.5,144.7 L191.0,144.8 L191.5,144.9 L192.0,145.1 L192.5,145.2 L193.0,145.3 L193.5,145.4 L194.0,145.6 L194.5,145.7 L195.0,145.8 L195.5,145.9 L196.0,146.1 L196.5,146.2 L197.0,146.3 L197.5,146.4 L198.0,146.5 L198.5,146.6 L199.0,146.7 L199.5,146.9 L200.0,147.0 L200.5,147.1 L201.0,147.2 L201.5,147.3 L202.0,147.4 L202.5,147.6 L203.0,147.7 L203.5,147.8 L204.0,147.9 L204.5,148.0 L205.0,148.1 L205.5,148.2 L206.0,148.4 L206.5,148.5 L207.0,148.6 L207.5,148.7 L208.0,148.8 L208.5,149.0 L209.0,149.1 L209.5,149.2 L210.0,149.3 L210.5,149.5 L211.0,149.6 L211.5,149.7 L212.0,149.8 L212.5,150.0 L213.0,150.1 L213.5,150.2 L214.0,150.3 L214.5,150.5 L215.0,150.6 L215.5,150.7 L216.0,150.9 L216.5,151.0 L217.0,151.1 L217.5,151.3 L218.0,151.4 L218.5,151.5 L219.0,151.7 L219.5,151.8 L220.0,151.9 L220.5,152.1 L221.0,152.2 L221.5,152.3 L222.0,152.5 L222.5,152.6 L223.0,152.7 L223.5,152.8 L224.0,153.0 L224.5,153.1 L225.0,153.2 L225.5,153.4 L226.0,153.5 L226.5,153.6 L227.0,153.7 L227.5,153.9 L228.0,154.0 L228.5,154.1 L229.0,154.2 L229.5,154.4 L230.0,154.5 L230.5,154.6 L231.0,154.7 L231.5,154.8 L232.0,154.9 L232.5,155.1 L233.0,155.2 L233.5,155.3 L234.0,155.4 L234.5,155.5 L235.0,155.6 L235.5,155.7 L236.0,155.9 L236.5,156.0 L237.0,156.1 L237.5,156.2 L238.0,156.3 L238.5,156.4 L239.0,156.5 L239.5,156.6 L240.0,156.7 L240.5,156.8 L241.0,156.9 L241.5,157.0 L242.0,157.1 L242.5,157.2 L243.0,157.4 L243.5,157.4 L244.0,157.5 L244.5,157.6 L245.0,157.7 L245.5,157.8 L246.0,157.9 L246.5,158.0 L247.0,158.1 L247.5,158.2 L248.0,158.2 L248.5,158.3 L249.0,158.4 L249.5,158.4 L249.6,158.5" fill="none" stroke="#c8c8c8" stroke-width="1.3" stroke-linejoin="round"/>
<path d="M162.3,28.9 H178.6" stroke="#000000" stroke-width="1.5"/>
<text x="179.6" y="31.5" font-size="7.2" fill="#1a1a1a">0 min.</text>
<path d="M162.3,37.5 H178.6" stroke="#ff0000" stroke-width="1.5"/>
<text x="179.6" y="40.1" font-size="7.2" fill="#1a1a1a">66 min. (1h 6 min.)</text>
<path d="M162.3,46.1 H178.6" stroke="#0000ff" stroke-width="1.5"/>
<text x="179.6" y="48.7" font-size="7.2" fill="#1a1a1a">130 min. (2h 10 min.)</text>
<path d="M162.3,54.7 H178.6" stroke="#008080" stroke-width="1.5"/>
<text x="179.6" y="57.3" font-size="7.2" fill="#1a1a1a">197 min. (3h 17 min.)</text>
<path d="M162.3,63.3 H178.6" stroke="#ff00ff" stroke-width="1.5"/>
<text x="179.6" y="65.9" font-size="7.2" fill="#1a1a1a">261 min. (4h 21 min.)</text>
<path d="M162.3,71.9 H178.6" stroke="#808000" stroke-width="1.5"/>
<text x="179.6" y="74.5" font-size="7.2" fill="#1a1a1a">330 min. (5h 30 min.)</text>
<path d="M162.3,80.5 H178.6" stroke="#000080" stroke-width="1.5"/>
<text x="179.6" y="83.1" font-size="7.2" fill="#1a1a1a">396 min. (6h 36 min.)</text>
<path d="M162.3,89.1 H178.6" stroke="#a03028" stroke-width="1.5"/>
<text x="179.6" y="91.7" font-size="7.2" fill="#1a1a1a">463 min. (7h 43 min.)</text>
<path d="M162.3,97.7 H178.6" stroke="#c8c8c8" stroke-width="1.5"/>
<text x="179.6" y="100.3" font-size="7.2" fill="#1a1a1a">530 min. (8h 50 min.)</text>
<text class="dk" x="297.2" y="10.2" font-size="9.2" fill="#1a1a1a">B)</text>
<path d="M326.7,2.6 V176.6 H540.6" fill="none" stroke="#3a3a3a" stroke-width="1.4"/>
<path d="M323.2,154.6 H326.7" stroke="#3a3a3a" stroke-width="1"/>
<text x="321.7" y="156.9" font-size="6.6" text-anchor="end" fill="#1a1a1a">0.2</text>
<path d="M323.2,120.8 H326.7" stroke="#3a3a3a" stroke-width="1"/>
<text x="321.7" y="123.1" font-size="6.6" text-anchor="end" fill="#1a1a1a">0.4</text>
<path d="M323.2,87.0 H326.7" stroke="#3a3a3a" stroke-width="1"/>
<text x="321.7" y="89.3" font-size="6.6" text-anchor="end" fill="#1a1a1a">0.6</text>
<path d="M323.2,53.2 H326.7" stroke="#3a3a3a" stroke-width="1"/>
<text x="321.7" y="55.5" font-size="6.6" text-anchor="end" fill="#1a1a1a">0.8</text>
<path d="M323.2,19.4 H326.7" stroke="#3a3a3a" stroke-width="1"/>
<text x="321.7" y="21.7" font-size="6.6" text-anchor="end" fill="#1a1a1a">1.0</text>
<path d="M324.9,171.5 H326.7" stroke="#3a3a3a" stroke-width="1"/>
<path d="M324.9,137.7 H326.7" stroke="#3a3a3a" stroke-width="1"/>
<path d="M324.9,103.9 H326.7" stroke="#3a3a3a" stroke-width="1"/>
<path d="M324.9,70.1 H326.7" stroke="#3a3a3a" stroke-width="1"/>
<path d="M324.9,36.3 H326.7" stroke="#3a3a3a" stroke-width="1"/>
<path d="M324.9,2.5 H326.7" stroke="#3a3a3a" stroke-width="1"/>
<path d="M340.9,176.6 V179.9" stroke="#3a3a3a" stroke-width="1"/>
<text x="340.9" y="187.3" font-size="6.6" text-anchor="middle" fill="#1a1a1a">0</text>
<path d="M369.4,176.6 V179.9" stroke="#3a3a3a" stroke-width="1"/>
<text x="369.4" y="187.3" font-size="6.6" text-anchor="middle" fill="#1a1a1a">100</text>
<path d="M397.9,176.6 V179.9" stroke="#3a3a3a" stroke-width="1"/>
<text x="397.9" y="187.3" font-size="6.6" text-anchor="middle" fill="#1a1a1a">200</text>
<path d="M426.4,176.6 V179.9" stroke="#3a3a3a" stroke-width="1"/>
<text x="426.4" y="187.3" font-size="6.6" text-anchor="middle" fill="#1a1a1a">300</text>
<path d="M454.9,176.6 V179.9" stroke="#3a3a3a" stroke-width="1"/>
<text x="454.9" y="187.3" font-size="6.6" text-anchor="middle" fill="#1a1a1a">400</text>
<path d="M483.4,176.6 V179.9" stroke="#3a3a3a" stroke-width="1"/>
<text x="483.4" y="187.3" font-size="6.6" text-anchor="middle" fill="#1a1a1a">500</text>
<path d="M511.9,176.6 V179.9" stroke="#3a3a3a" stroke-width="1"/>
<text x="511.9" y="187.3" font-size="6.6" text-anchor="middle" fill="#1a1a1a">600</text>
<path d="M540.4,176.6 V179.9" stroke="#3a3a3a" stroke-width="1"/>
<text x="540.4" y="187.3" font-size="6.6" text-anchor="middle" fill="#1a1a1a">700</text>
<path d="M326.6,176.6 V178.4" stroke="#3a3a3a" stroke-width="1"/>
<path d="M355.1,176.6 V178.4" stroke="#3a3a3a" stroke-width="1"/>
<path d="M383.6,176.6 V178.4" stroke="#3a3a3a" stroke-width="1"/>
<path d="M412.1,176.6 V178.4" stroke="#3a3a3a" stroke-width="1"/>
<path d="M440.6,176.6 V178.4" stroke="#3a3a3a" stroke-width="1"/>
<path d="M469.1,176.6 V178.4" stroke="#3a3a3a" stroke-width="1"/>
<path d="M497.6,176.6 V178.4" stroke="#3a3a3a" stroke-width="1"/>
<path d="M526.1,176.6 V178.4" stroke="#3a3a3a" stroke-width="1"/>
<text x="431" y="201.2" font-size="8.2" text-anchor="middle" fill="#1a1a1a">t (min)</text>
<text transform="translate(307.2,95.5) rotate(-90)" font-size="8" text-anchor="middle" fill="#1a1a1a">Abs. (675 nm) Normalized</text>
<path d="M342.5,154.3 L343.0,154.3 L343.5,154.3 L344.0,154.3 L344.5,154.3 L345.0,154.3 L345.5,154.3 L346.0,154.3 L346.5,154.3 L347.0,154.2 L347.5,154.2 L348.0,154.2 L348.5,154.2 L349.0,154.2 L349.5,154.2 L350.0,154.2 L350.5,154.2 L351.0,154.1 L351.5,154.1 L352.0,154.1 L352.5,154.1 L353.0,154.1 L353.5,154.1 L354.0,154.0 L354.5,154.0 L355.0,154.0 L355.5,154.0 L356.0,154.0 L356.5,153.9 L357.0,153.9 L357.5,153.9 L358.0,153.9 L358.5,153.9 L359.0,153.8 L359.5,153.8 L360.0,153.8 L360.5,153.8 L361.0,153.7 L361.5,153.7 L362.0,153.7 L362.5,153.7 L363.0,153.6 L363.5,153.6 L364.0,153.6 L364.5,153.5 L365.0,153.5 L365.5,153.5 L366.0,153.4 L366.5,153.4 L367.0,153.3 L367.5,153.3 L368.0,153.2 L368.5,153.2 L369.0,153.2 L369.5,153.1 L370.0,153.1 L370.5,153.0 L371.0,153.0 L371.5,152.9 L372.0,152.8 L372.5,152.8 L373.0,152.7 L373.5,152.7 L374.0,152.6 L374.5,152.6 L375.0,152.5 L375.5,152.5 L376.0,152.4 L376.5,152.3 L377.0,152.3 L377.5,152.2 L378.0,152.2 L378.5,152.1 L379.0,152.0 L379.5,152.0 L380.0,151.9 L380.5,151.8 L381.0,151.7 L381.5,151.7 L382.0,151.6 L382.5,151.5 L383.0,151.4 L383.5,151.3 L384.0,151.3 L384.5,151.2 L385.0,151.1 L385.5,151.0 L386.0,150.9 L386.5,150.8 L387.0,150.7 L387.5,150.6 L388.0,150.5 L388.5,150.4 L389.0,150.3 L389.5,150.2 L390.0,150.1 L390.5,150.0 L391.0,149.9 L391.5,149.8 L392.0,149.7 L392.5,149.6 L393.0,149.5 L393.5,149.4 L394.0,149.3 L394.5,149.2 L395.0,149.0 L395.5,148.9 L396.0,148.8 L396.5,148.7 L397.0,148.6 L397.5,148.5 L398.0,148.3 L398.5,148.2 L399.0,148.1 L399.5,148.0 L400.0,147.9 L400.5,147.7 L401.0,147.6 L401.5,147.5 L402.0,147.4 L402.5,147.2 L403.0,147.1 L403.5,147.0 L404.0,146.9 L404.5,146.7 L405.0,146.6 L405.5,146.5 L406.0,146.3 L406.5,146.2 L407.0,146.0 L407.5,145.9 L408.0,145.7 L408.5,145.6 L409.0,145.4 L409.5,145.2 L410.0,145.0 L410.5,144.8 L411.0,144.6 L411.5,144.4 L412.0,144.1 L412.5,143.9 L413.0,143.6 L413.5,143.3 L414.0,143.0 L414.5,142.7 L415.0,142.3 L415.5,142.0 L416.0,141.6 L416.5,141.2 L417.0,140.8 L417.5,140.4 L418.0,140.0 L418.5,139.6 L419.0,139.2 L419.5,138.8 L420.0,138.4 L420.5,137.9 L421.0,137.5 L421.5,137.1 L422.0,136.7 L422.5,136.3 L423.0,135.9 L423.5,135.4 L424.0,135.0 L424.5,134.6 L425.0,134.3 L425.5,133.9 L426.0,133.5 L426.5,133.1 L427.0,132.7 L427.5,132.3 L428.0,131.8 L428.5,131.4 L429.0,131.0 L429.5,130.5 L430.0,130.0 L430.5,129.5 L431.0,129.0 L431.5,128.5 L432.0,127.9 L432.5,127.3 L433.0,126.7 L433.5,126.1 L434.0,125.5 L434.5,124.9 L435.0,124.2 L435.5,123.5 L436.0,122.9 L436.5,122.2 L437.0,121.5 L437.5,120.8 L438.0,120.1 L438.5,119.4 L439.0,118.7 L439.5,118.0 L440.0,117.3 L440.5,116.6 L441.0,116.0 L441.5,115.3 L442.0,114.6 L442.5,113.9 L443.0,113.3 L443.5,112.6 L444.0,111.9 L444.5,111.2 L445.0,110.6 L445.5,109.9 L446.0,109.2 L446.5,108.5 L447.0,107.9 L447.5,107.2 L448.0,106.5 L448.5,105.8 L449.0,105.0 L449.5,104.3 L450.0,103.6 L450.5,102.8 L451.0,102.1 L451.5,101.3 L452.0,100.5 L452.5,99.8 L453.0,99.0 L453.5,98.2 L454.0,97.4 L454.5,96.5 L455.0,95.7 L455.5,94.8 L456.0,94.0 L456.5,93.1 L457.0,92.2 L457.5,91.3 L458.0,90.4 L458.5,89.5 L459.0,88.5 L459.5,87.6 L460.0,86.6 L460.5,85.6 L461.0,84.6 L461.5,83.5 L462.0,82.5 L462.5,81.4 L463.0,80.4 L463.5,79.3 L464.0,78.2 L464.5,77.2 L465.0,76.1 L465.5,75.0 L466.0,73.9 L466.5,72.8 L467.0,71.7 L467.5,70.6 L468.0,69.5 L468.5,68.4 L469.0,67.3 L469.5,66.2 L470.0,65.0 L470.5,63.9 L471.0,62.7 L471.5,61.5 L472.0,60.3 L472.5,59.0 L473.0,57.8 L473.5,56.5 L474.0,55.2 L474.5,53.9 L475.0,52.6 L475.5,51.4 L476.0,50.1 L476.5,48.9 L477.0,47.6 L477.5,46.5 L478.0,45.3 L478.5,44.2 L479.0,43.1 L479.5,42.0 L480.0,41.0 L480.5,40.0 L481.0,39.0 L481.5,38.0 L482.0,37.1 L482.5,36.2 L483.0,35.3 L483.5,34.5 L484.0,33.7 L484.5,32.9 L485.0,32.2 L485.5,31.5 L486.0,30.9 L486.5,30.3 L487.0,29.7 L487.5,29.2 L488.0,28.7 L488.5,28.2 L489.0,27.7 L489.5,27.3 L490.0,26.9 L490.5,26.5 L491.0,26.1 L491.5,25.7 L492.0,25.4 L492.5,25.0 L493.0,24.7 L493.5,24.4 L494.0,24.1 L494.5,23.8 L495.0,23.6 L495.5,23.3 L496.0,23.1 L496.5,22.9 L497.0,22.6 L497.5,22.4 L498.0,22.2 L498.5,22.0 L499.0,21.8 L499.5,21.6 L500.0,21.5 L500.5,21.3 L501.0,21.2 L501.5,21.0 L502.0,20.9 L502.5,20.8 L503.0,20.7 L503.5,20.6 L504.0,20.5 L504.5,20.4 L505.0,20.3 L505.5,20.3 L506.0,20.2 L506.5,20.2 L507.0,20.1 L507.5,20.0 L508.0,20.0 L508.5,19.9 L509.0,19.9 L509.5,19.9 L510.0,19.8 L510.5,19.8 L511.0,19.8 L511.5,19.7 L512.0,19.7 L512.5,19.7 L513.0,19.7 L513.5,19.6 L514.0,19.6 L514.5,19.6 L514.8,19.6" fill="none" stroke="#ee88ee" stroke-width="2.75" stroke-linecap="round" stroke-linejoin="round"/>
<path d="M342.5,154.3 L343.0,154.3 L343.5,154.3 L344.0,154.3 L344.5,154.3 L345.0,154.3 L345.5,154.3 L346.0,154.3 L346.5,154.3 L347.0,154.2 L347.5,154.2 L348.0,154.2 L348.5,154.2 L349.0,154.2 L349.5,154.2 L350.0,154.2 L350.5,154.2 L351.0,154.1 L351.5,154.1 L352.0,154.1 L352.5,154.1 L353.0,154.1 L353.5,154.1 L354.0,154.0 L354.5,154.0 L355.0,154.0 L355.5,154.0 L356.0,154.0 L356.5,153.9 L357.0,153.9 L357.5,153.9 L358.0,153.9 L358.5,153.9 L359.0,153.8 L359.5,153.8 L360.0,153.8 L360.5,153.8 L361.0,153.7 L361.5,153.7 L362.0,153.7 L362.5,153.7 L363.0,153.6 L363.5,153.6 L364.0,153.6 L364.5,153.5 L365.0,153.5 L365.5,153.5 L366.0,153.4 L366.5,153.4 L367.0,153.3 L367.5,153.3 L368.0,153.2 L368.5,153.2 L369.0,153.2 L369.5,153.1 L370.0,153.1 L370.5,153.0 L371.0,153.0 L371.5,152.9 L372.0,152.8 L372.5,152.8 L373.0,152.7 L373.5,152.7 L374.0,152.6 L374.5,152.6 L375.0,152.5 L375.5,152.5 L376.0,152.4 L376.5,152.3 L377.0,152.3 L377.5,152.2 L378.0,152.2 L378.5,152.1 L379.0,152.0 L379.5,152.0 L380.0,151.9 L380.5,151.8 L381.0,151.7 L381.5,151.7 L382.0,151.6 L382.5,151.5 L383.0,151.4 L383.5,151.3 L384.0,151.3 L384.5,151.2 L385.0,151.1 L385.5,151.0 L386.0,150.9 L386.5,150.8 L387.0,150.7 L387.5,150.6 L388.0,150.5 L388.5,150.4 L389.0,150.3 L389.5,150.2 L390.0,150.1 L390.5,150.0 L391.0,149.9 L391.5,149.8 L392.0,149.7 L392.5,149.6 L393.0,149.5 L393.5,149.4 L394.0,149.3 L394.5,149.2 L395.0,149.0 L395.5,148.9 L396.0,148.8 L396.5,148.7 L397.0,148.6 L397.5,148.5 L398.0,148.3 L398.5,148.2 L399.0,148.1 L399.5,148.0 L400.0,147.9 L400.5,147.7 L401.0,147.6 L401.5,147.5 L402.0,147.4 L402.5,147.2 L403.0,147.1 L403.5,147.0 L404.0,146.9 L404.5,146.7 L405.0,146.6 L405.5,146.5 L406.0,146.3 L406.5,146.2 L407.0,146.0 L407.5,145.9 L408.0,145.7 L408.5,145.6 L409.0,145.4 L409.5,145.2 L410.0,145.0 L410.5,144.8 L411.0,144.6 L411.5,144.4 L412.0,144.1 L412.5,143.9 L413.0,143.6 L413.5,143.3 L414.0,143.0 L414.5,142.7 L415.0,142.3 L415.5,142.0 L416.0,141.6 L416.5,141.2 L417.0,140.8 L417.5,140.4 L418.0,140.0 L418.5,139.6 L419.0,139.2 L419.5,138.8 L420.0,138.4 L420.5,137.9 L421.0,137.5 L421.5,137.1 L422.0,136.7 L422.5,136.3 L423.0,135.9 L423.5,135.4 L424.0,135.0 L424.5,134.6 L425.0,134.3 L425.5,133.9 L426.0,133.5 L426.5,133.1 L427.0,132.7 L427.5,132.3 L428.0,131.8 L428.5,131.4 L429.0,131.0 L429.5,130.5 L430.0,130.0 L430.5,129.5 L431.0,129.0 L431.5,128.5 L432.0,127.9 L432.5,127.3 L433.0,126.7 L433.5,126.1 L434.0,125.5 L434.5,124.9 L435.0,124.2 L435.5,123.5 L436.0,122.9 L436.5,122.2 L437.0,121.5 L437.5,120.8 L438.0,120.1 L438.5,119.4 L439.0,118.7 L439.5,118.0 L440.0,117.3 L440.5,116.6 L441.0,116.0 L441.5,115.3 L442.0,114.6 L442.5,113.9 L443.0,113.3 L443.5,112.6 L444.0,111.9 L444.5,111.2 L445.0,110.6 L445.5,109.9 L446.0,109.2 L446.5,108.5 L447.0,107.9 L447.5,107.2 L448.0,106.5 L448.5,105.8 L449.0,105.0 L449.5,104.3 L450.0,103.6 L450.5,102.8 L451.0,102.1 L451.5,101.3 L452.0,100.5 L452.5,99.8 L453.0,99.0 L453.5,98.2 L454.0,97.4 L454.5,96.5 L455.0,95.7 L455.5,94.8 L456.0,94.0 L456.5,93.1 L457.0,92.2 L457.5,91.3 L458.0,90.4 L458.5,89.5 L459.0,88.5 L459.5,87.6 L460.0,86.6 L460.5,85.6 L461.0,84.6 L461.5,83.5 L462.0,82.5 L462.5,81.4 L463.0,80.4 L463.5,79.3 L464.0,78.2 L464.5,77.2 L465.0,76.1 L465.5,75.0 L466.0,73.9 L466.5,72.8 L467.0,71.7 L467.5,70.6 L468.0,69.5 L468.5,68.4 L469.0,67.3 L469.5,66.2 L470.0,65.0 L470.5,63.9 L471.0,62.7 L471.5,61.5 L472.0,60.3 L472.5,59.0 L473.0,57.8 L473.5,56.5 L474.0,55.2 L474.5,53.9 L475.0,52.6 L475.5,51.4 L476.0,50.1 L476.5,48.9 L477.0,47.6 L477.5,46.5 L478.0,45.3 L478.5,44.2 L479.0,43.1 L479.5,42.0 L480.0,41.0 L480.5,40.0 L481.0,39.0 L481.5,38.0 L482.0,37.1 L482.5,36.2 L483.0,35.3 L483.5,34.5 L484.0,33.7 L484.5,32.9 L485.0,32.2 L485.5,31.5 L486.0,30.9 L486.5,30.3 L487.0,29.7 L487.5,29.2 L488.0,28.7 L488.5,28.2 L489.0,27.7 L489.5,27.3 L490.0,26.9 L490.5,26.5 L491.0,26.1 L491.5,25.7 L492.0,25.4 L492.5,25.0 L493.0,24.7 L493.5,24.4 L494.0,24.1 L494.5,23.8 L495.0,23.6 L495.5,23.3 L496.0,23.1 L496.5,22.9 L497.0,22.6 L497.5,22.4 L498.0,22.2 L498.5,22.0 L499.0,21.8 L499.5,21.6 L500.0,21.5 L500.5,21.3 L501.0,21.2 L501.5,21.0 L502.0,20.9 L502.5,20.8 L503.0,20.7 L503.5,20.6 L504.0,20.5 L504.5,20.4 L505.0,20.3 L505.5,20.3 L506.0,20.2 L506.5,20.2 L507.0,20.1 L507.5,20.0 L508.0,20.0 L508.5,19.9 L509.0,19.9 L509.5,19.9 L510.0,19.8 L510.5,19.8 L511.0,19.8 L511.5,19.7 L512.0,19.7 L512.5,19.7 L513.0,19.7 L513.5,19.6 L514.0,19.6 L514.5,19.6 L514.8,19.6" fill="none" stroke="#fff" stroke-width="0.6" opacity="0.35" stroke-dasharray="1.2,1.3"/>
<circle cx="514.8" cy="19.6" r="1.7" fill="#fff" stroke="#ee88ee" stroke-width="1"/>
<path d="M342.5,156.3 L343.0,156.3 L343.5,156.3 L344.0,156.3 L344.5,156.3 L345.0,156.3 L345.5,156.3 L346.0,156.3 L346.5,156.3 L347.0,156.3 L347.5,156.3 L348.0,156.3 L348.5,156.3 L349.0,156.2 L349.5,156.2 L350.0,156.2 L350.5,156.2 L351.0,156.2 L351.5,156.2 L352.0,156.2 L352.5,156.2 L353.0,156.2 L353.5,156.2 L354.0,156.2 L354.5,156.1 L355.0,156.1 L355.5,156.1 L356.0,156.1 L356.5,156.1 L357.0,156.1 L357.5,156.1 L358.0,156.1 L358.5,156.0 L359.0,156.0 L359.5,156.0 L360.0,156.0 L360.5,156.0 L361.0,156.0 L361.5,155.9 L362.0,155.9 L362.5,155.9 L363.0,155.9 L363.5,155.8 L364.0,155.8 L364.5,155.8 L365.0,155.8 L365.5,155.7 L366.0,155.7 L366.5,155.7 L367.0,155.6 L367.5,155.6 L368.0,155.6 L368.5,155.5 L369.0,155.5 L369.5,155.4 L370.0,155.4 L370.5,155.3 L371.0,155.3 L371.5,155.3 L372.0,155.2 L372.5,155.2 L373.0,155.1 L373.5,155.1 L374.0,155.0 L374.5,155.0 L375.0,154.9 L375.5,154.8 L376.0,154.8 L376.5,154.7 L377.0,154.7 L377.5,154.6 L378.0,154.5 L378.5,154.5 L379.0,154.4 L379.5,154.3 L380.0,154.3 L380.5,154.2 L381.0,154.1 L381.5,154.0 L382.0,153.9 L382.5,153.8 L383.0,153.7 L383.5,153.6 L384.0,153.5 L384.5,153.4 L385.0,153.3 L385.5,153.2 L386.0,153.1 L386.5,153.0 L387.0,152.8 L387.5,152.7 L388.0,152.6 L388.5,152.4 L389.0,152.3 L389.5,152.2 L390.0,152.0 L390.5,151.9 L391.0,151.7 L391.5,151.6 L392.0,151.4 L392.5,151.3 L393.0,151.1 L393.5,151.0 L394.0,150.8 L394.5,150.6 L395.0,150.5 L395.5,150.3 L396.0,150.1 L396.5,149.9 L397.0,149.7 L397.5,149.5 L398.0,149.3 L398.5,149.0 L399.0,148.8 L399.5,148.6 L400.0,148.3 L400.5,148.0 L401.0,147.8 L401.5,147.5 L402.0,147.2 L402.5,147.0 L403.0,146.7 L403.5,146.4 L404.0,146.1 L404.5,145.7 L405.0,145.4 L405.5,145.1 L406.0,144.7 L406.5,144.4 L407.0,144.0 L407.5,143.7 L408.0,143.3 L408.5,142.9 L409.0,142.5 L409.5,142.0 L410.0,141.6 L410.5,141.2 L411.0,140.8 L411.5,140.3 L412.0,139.9 L412.5,139.4 L413.0,139.0 L413.5,138.5 L414.0,138.1 L414.5,137.6 L415.0,137.2 L415.5,136.8 L416.0,136.3 L416.5,135.9 L417.0,135.5 L417.5,135.0 L418.0,134.6 L418.5,134.2 L419.0,133.8 L419.5,133.4 L420.0,133.0 L420.5,132.6 L421.0,132.2 L421.5,131.8 L422.0,131.3 L422.5,130.9 L423.0,130.5 L423.5,130.1 L424.0,129.6 L424.5,129.1 L425.0,128.7 L425.5,128.2 L426.0,127.7 L426.5,127.2 L427.0,126.7 L427.5,126.2 L428.0,125.7 L428.5,125.2 L429.0,124.7 L429.5,124.1 L430.0,123.6 L430.5,123.0 L431.0,122.5 L431.5,121.9 L432.0,121.4 L432.5,120.8 L433.0,120.2 L433.5,119.6 L434.0,119.0 L434.5,118.5 L435.0,117.9 L435.5,117.3 L436.0,116.6 L436.5,116.0 L437.0,115.4 L437.5,114.8 L438.0,114.2 L438.5,113.5 L439.0,112.9 L439.5,112.2 L440.0,111.6 L440.5,110.9 L441.0,110.2 L441.5,109.5 L442.0,108.8 L442.5,108.1 L443.0,107.4 L443.5,106.7 L444.0,106.0 L444.5,105.3 L445.0,104.5 L445.5,103.8 L446.0,103.0 L446.5,102.3 L447.0,101.5 L447.5,100.8 L448.0,100.0 L448.5,99.2 L449.0,98.4 L449.5,97.7 L450.0,96.9 L450.5,96.1 L451.0,95.3 L451.5,94.4 L452.0,93.6 L452.5,92.8 L453.0,92.0 L453.5,91.1 L454.0,90.3 L454.5,89.5 L455.0,88.6 L455.5,87.8 L456.0,86.9 L456.5,86.1 L457.0,85.2 L457.5,84.4 L458.0,83.5 L458.5,82.6 L459.0,81.7 L459.5,80.9 L460.0,80.0 L460.5,79.0 L461.0,78.1 L461.5,77.2 L462.0,76.2 L462.5,75.3 L463.0,74.3 L463.5,73.3 L464.0,72.3 L464.5,71.3 L465.0,70.3 L465.5,69.2 L466.0,68.1 L466.5,67.1 L467.0,66.0 L467.5,64.9 L468.0,63.8 L468.5,62.6 L469.0,61.5 L469.5,60.3 L470.0,59.2 L470.5,58.0 L471.0,56.8 L471.5,55.6 L472.0,54.3 L472.5,53.1 L473.0,51.8 L473.5,50.6 L474.0,49.3 L474.5,48.0 L475.0,46.7 L475.5,45.4 L476.0,44.0 L476.5,42.7 L477.0,41.4 L477.5,40.0 L478.0,38.7 L478.5,37.4 L479.0,36.2 L479.5,35.0 L480.0,33.9 L480.5,32.8 L481.0,31.8 L481.5,30.9 L482.0,30.0 L482.5,29.2 L483.0,28.5 L483.5,27.8 L484.0,27.2 L484.5,26.7 L485.0,26.1 L485.5,25.7 L486.0,25.2 L486.5,24.8 L487.0,24.4 L487.5,24.0 L488.0,23.7 L488.5,23.3 L489.0,23.0 L489.5,22.8 L490.0,22.5 L490.5,22.2 L491.0,22.0 L491.5,21.8 L492.0,21.5 L492.5,21.3 L493.0,21.2 L493.5,21.0 L494.0,20.8 L494.5,20.7 L495.0,20.5 L495.5,20.4 L496.0,20.3 L496.5,20.2 L497.0,20.1 L497.5,20.0 L498.0,19.9 L498.5,19.8 L499.0,19.8 L499.5,19.7 L499.6,19.7" fill="none" stroke="#2020ff" stroke-width="2.75" stroke-linecap="round" stroke-linejoin="round"/>
<path d="M342.5,156.3 L343.0,156.3 L343.5,156.3 L344.0,156.3 L344.5,156.3 L345.0,156.3 L345.5,156.3 L346.0,156.3 L346.5,156.3 L347.0,156.3 L347.5,156.3 L348.0,156.3 L348.5,156.3 L349.0,156.2 L349.5,156.2 L350.0,156.2 L350.5,156.2 L351.0,156.2 L351.5,156.2 L352.0,156.2 L352.5,156.2 L353.0,156.2 L353.5,156.2 L354.0,156.2 L354.5,156.1 L355.0,156.1 L355.5,156.1 L356.0,156.1 L356.5,156.1 L357.0,156.1 L357.5,156.1 L358.0,156.1 L358.5,156.0 L359.0,156.0 L359.5,156.0 L360.0,156.0 L360.5,156.0 L361.0,156.0 L361.5,155.9 L362.0,155.9 L362.5,155.9 L363.0,155.9 L363.5,155.8 L364.0,155.8 L364.5,155.8 L365.0,155.8 L365.5,155.7 L366.0,155.7 L366.5,155.7 L367.0,155.6 L367.5,155.6 L368.0,155.6 L368.5,155.5 L369.0,155.5 L369.5,155.4 L370.0,155.4 L370.5,155.3 L371.0,155.3 L371.5,155.3 L372.0,155.2 L372.5,155.2 L373.0,155.1 L373.5,155.1 L374.0,155.0 L374.5,155.0 L375.0,154.9 L375.5,154.8 L376.0,154.8 L376.5,154.7 L377.0,154.7 L377.5,154.6 L378.0,154.5 L378.5,154.5 L379.0,154.4 L379.5,154.3 L380.0,154.3 L380.5,154.2 L381.0,154.1 L381.5,154.0 L382.0,153.9 L382.5,153.8 L383.0,153.7 L383.5,153.6 L384.0,153.5 L384.5,153.4 L385.0,153.3 L385.5,153.2 L386.0,153.1 L386.5,153.0 L387.0,152.8 L387.5,152.7 L388.0,152.6 L388.5,152.4 L389.0,152.3 L389.5,152.2 L390.0,152.0 L390.5,151.9 L391.0,151.7 L391.5,151.6 L392.0,151.4 L392.5,151.3 L393.0,151.1 L393.5,151.0 L394.0,150.8 L394.5,150.6 L395.0,150.5 L395.5,150.3 L396.0,150.1 L396.5,149.9 L397.0,149.7 L397.5,149.5 L398.0,149.3 L398.5,149.0 L399.0,148.8 L399.5,148.6 L400.0,148.3 L400.5,148.0 L401.0,147.8 L401.5,147.5 L402.0,147.2 L402.5,147.0 L403.0,146.7 L403.5,146.4 L404.0,146.1 L404.5,145.7 L405.0,145.4 L405.5,145.1 L406.0,144.7 L406.5,144.4 L407.0,144.0 L407.5,143.7 L408.0,143.3 L408.5,142.9 L409.0,142.5 L409.5,142.0 L410.0,141.6 L410.5,141.2 L411.0,140.8 L411.5,140.3 L412.0,139.9 L412.5,139.4 L413.0,139.0 L413.5,138.5 L414.0,138.1 L414.5,137.6 L415.0,137.2 L415.5,136.8 L416.0,136.3 L416.5,135.9 L417.0,135.5 L417.5,135.0 L418.0,134.6 L418.5,134.2 L419.0,133.8 L419.5,133.4 L420.0,133.0 L420.5,132.6 L421.0,132.2 L421.5,131.8 L422.0,131.3 L422.5,130.9 L423.0,130.5 L423.5,130.1 L424.0,129.6 L424.5,129.1 L425.0,128.7 L425.5,128.2 L426.0,127.7 L426.5,127.2 L427.0,126.7 L427.5,126.2 L428.0,125.7 L428.5,125.2 L429.0,124.7 L429.5,124.1 L430.0,123.6 L430.5,123.0 L431.0,122.5 L431.5,121.9 L432.0,121.4 L432.5,120.8 L433.0,120.2 L433.5,119.6 L434.0,119.0 L434.5,118.5 L435.0,117.9 L435.5,117.3 L436.0,116.6 L436.5,116.0 L437.0,115.4 L437.5,114.8 L438.0,114.2 L438.5,113.5 L439.0,112.9 L439.5,112.2 L440.0,111.6 L440.5,110.9 L441.0,110.2 L441.5,109.5 L442.0,108.8 L442.5,108.1 L443.0,107.4 L443.5,106.7 L444.0,106.0 L444.5,105.3 L445.0,104.5 L445.5,103.8 L446.0,103.0 L446.5,102.3 L447.0,101.5 L447.5,100.8 L448.0,100.0 L448.5,99.2 L449.0,98.4 L449.5,97.7 L450.0,96.9 L450.5,96.1 L451.0,95.3 L451.5,94.4 L452.0,93.6 L452.5,92.8 L453.0,92.0 L453.5,91.1 L454.0,90.3 L454.5,89.5 L455.0,88.6 L455.5,87.8 L456.0,86.9 L456.5,86.1 L457.0,85.2 L457.5,84.4 L458.0,83.5 L458.5,82.6 L459.0,81.7 L459.5,80.9 L460.0,80.0 L460.5,79.0 L461.0,78.1 L461.5,77.2 L462.0,76.2 L462.5,75.3 L463.0,74.3 L463.5,73.3 L464.0,72.3 L464.5,71.3 L465.0,70.3 L465.5,69.2 L466.0,68.1 L466.5,67.1 L467.0,66.0 L467.5,64.9 L468.0,63.8 L468.5,62.6 L469.0,61.5 L469.5,60.3 L470.0,59.2 L470.5,58.0 L471.0,56.8 L471.5,55.6 L472.0,54.3 L472.5,53.1 L473.0,51.8 L473.5,50.6 L474.0,49.3 L474.5,48.0 L475.0,46.7 L475.5,45.4 L476.0,44.0 L476.5,42.7 L477.0,41.4 L477.5,40.0 L478.0,38.7 L478.5,37.4 L479.0,36.2 L479.5,35.0 L480.0,33.9 L480.5,32.8 L481.0,31.8 L481.5,30.9 L482.0,30.0 L482.5,29.2 L483.0,28.5 L483.5,27.8 L484.0,27.2 L484.5,26.7 L485.0,26.1 L485.5,25.7 L486.0,25.2 L486.5,24.8 L487.0,24.4 L487.5,24.0 L488.0,23.7 L488.5,23.3 L489.0,23.0 L489.5,22.8 L490.0,22.5 L490.5,22.2 L491.0,22.0 L491.5,21.8 L492.0,21.5 L492.5,21.3 L493.0,21.2 L493.5,21.0 L494.0,20.8 L494.5,20.7 L495.0,20.5 L495.5,20.4 L496.0,20.3 L496.5,20.2 L497.0,20.1 L497.5,20.0 L498.0,19.9 L498.5,19.8 L499.0,19.8 L499.5,19.7 L499.6,19.7" fill="none" stroke="#fff" stroke-width="0.6" opacity="0.35" stroke-dasharray="1.2,1.3"/>
<circle cx="499.6" cy="19.6" r="1.7" fill="#fff" stroke="#2020ff" stroke-width="1"/>
<path d="M342.5,158.3 L343.0,158.3 L343.5,158.2 L344.0,158.1 L344.5,158.0 L345.0,157.9 L345.5,157.8 L346.0,157.7 L346.5,157.6 L347.0,157.5 L347.5,157.4 L348.0,157.2 L348.5,157.1 L349.0,157.0 L349.5,156.9 L350.0,156.8 L350.5,156.6 L351.0,156.5 L351.5,156.4 L352.0,156.3 L352.5,156.1 L353.0,156.0 L353.5,155.9 L354.0,155.7 L354.5,155.6 L355.0,155.5 L355.5,155.4 L356.0,155.2 L356.5,155.1 L357.0,154.9 L357.5,154.8 L358.0,154.7 L358.5,154.5 L359.0,154.4 L359.5,154.2 L360.0,154.1 L360.5,154.0 L361.0,153.8 L361.5,153.7 L362.0,153.5 L362.5,153.4 L363.0,153.2 L363.5,153.1 L364.0,152.9 L364.5,152.8 L365.0,152.6 L365.5,152.5 L366.0,152.4 L366.5,152.2 L367.0,152.1 L367.5,151.9 L368.0,151.8 L368.5,151.7 L369.0,151.6 L369.5,151.4 L370.0,151.3 L370.5,151.2 L371.0,151.1 L371.5,150.9 L372.0,150.8 L372.5,150.7 L373.0,150.6 L373.5,150.5 L374.0,150.4 L374.5,150.3 L375.0,150.2 L375.5,150.1 L376.0,150.0 L376.5,149.9 L377.0,149.8 L377.5,149.7 L378.0,149.6 L378.5,149.6 L379.0,149.5 L379.5,149.4 L380.0,149.3 L380.5,149.2 L381.0,149.1 L381.5,149.0 L382.0,148.9 L382.5,148.8 L383.0,148.7 L383.5,148.5 L384.0,148.4 L384.5,148.3 L385.0,148.2 L385.5,148.1 L386.0,147.9 L386.5,147.8 L387.0,147.7 L387.5,147.5 L388.0,147.4 L388.5,147.2 L389.0,147.1 L389.5,146.9 L390.0,146.7 L390.5,146.5 L391.0,146.3 L391.5,146.1 L392.0,145.8 L392.5,145.6 L393.0,145.3 L393.5,145.0 L394.0,144.7 L394.5,144.3 L395.0,144.0 L395.5,143.6 L396.0,143.3 L396.5,142.9 L397.0,142.5 L397.5,142.0 L398.0,141.6 L398.5,141.2 L399.0,140.8 L399.5,140.3 L400.0,139.9 L400.5,139.4 L401.0,139.0 L401.5,138.5 L402.0,138.1 L402.5,137.6 L403.0,137.2 L403.5,136.7 L404.0,136.3 L404.5,135.9 L405.0,135.5 L405.5,135.1 L406.0,134.6 L406.5,134.2 L407.0,133.8 L407.5,133.4 L408.0,133.0 L408.5,132.6 L409.0,132.2 L409.5,131.8 L410.0,131.4 L410.5,130.9 L411.0,130.5 L411.5,130.0 L412.0,129.5 L412.5,129.0 L413.0,128.5 L413.5,127.9 L414.0,127.3 L414.5,126.7 L415.0,126.1 L415.5,125.5 L416.0,124.9 L416.5,124.3 L417.0,123.6 L417.5,123.0 L418.0,122.3 L418.5,121.7 L419.0,121.1 L419.5,120.4 L420.0,119.8 L420.5,119.2 L421.0,118.6 L421.5,118.0 L422.0,117.4 L422.5,116.7 L423.0,116.1 L423.5,115.5 L424.0,114.9 L424.5,114.2 L425.0,113.6 L425.5,112.9 L426.0,112.2 L426.5,111.6 L427.0,110.9 L427.5,110.2 L428.0,109.4 L428.5,108.7 L429.0,107.9 L429.5,107.1 L430.0,106.3 L430.5,105.5 L431.0,104.6 L431.5,103.7 L432.0,102.7 L432.5,101.7 L433.0,100.7 L433.5,99.6 L434.0,98.5 L434.5,97.4 L435.0,96.2 L435.5,95.1 L436.0,93.9 L436.5,92.7 L437.0,91.4 L437.5,90.2 L438.0,88.9 L438.5,87.7 L439.0,86.4 L439.5,85.1 L440.0,83.7 L440.5,82.4 L441.0,81.0 L441.5,79.6 L442.0,78.1 L442.5,76.7 L443.0,75.2 L443.5,73.6 L444.0,72.0 L444.5,70.4 L445.0,68.8 L445.5,67.1 L446.0,65.4 L446.5,63.7 L447.0,62.0 L447.5,60.3 L448.0,58.5 L448.5,56.7 L449.0,55.0 L449.5,53.2 L450.0,51.4 L450.5,49.6 L451.0,47.8 L451.5,46.0 L452.0,44.2 L452.5,42.4 L453.0,40.7 L453.5,39.0 L454.0,37.3 L454.5,35.7 L455.0,34.2 L455.5,32.8 L456.0,31.5 L456.5,30.3 L457.0,29.2 L457.5,28.2 L458.0,27.3 L458.5,26.5 L459.0,25.7 L459.5,25.0 L460.0,24.4 L460.5,23.9 L461.0,23.4 L461.5,23.0 L462.0,22.6 L462.5,22.2 L463.0,21.9 L463.5,21.6 L464.0,21.4 L464.5,21.2 L465.0,21.0 L465.5,20.8 L466.0,20.6 L466.5,20.5 L467.0,20.4 L467.5,20.3 L468.0,20.2 L468.5,20.1 L469.0,20.0 L469.5,19.9 L470.0,19.9 L470.5,19.8 L471.0,19.7 L471.5,19.7 L472.0,19.6 L472.5,19.6 L473.0,19.5 L473.5,19.5 L474.0,19.4 L474.5,19.4 L475.0,19.4 L475.5,19.4 L476.0,19.3 L476.5,19.3 L477.0,19.3" fill="none" stroke="#111111" stroke-width="2.75" stroke-linecap="round" stroke-linejoin="round"/>
<path d="M342.5,158.3 L343.0,158.3 L343.5,158.2 L344.0,158.1 L344.5,158.0 L345.0,157.9 L345.5,157.8 L346.0,157.7 L346.5,157.6 L347.0,157.5 L347.5,157.4 L348.0,157.2 L348.5,157.1 L349.0,157.0 L349.5,156.9 L350.0,156.8 L350.5,156.6 L351.0,156.5 L351.5,156.4 L352.0,156.3 L352.5,156.1 L353.0,156.0 L353.5,155.9 L354.0,155.7 L354.5,155.6 L355.0,155.5 L355.5,155.4 L356.0,155.2 L356.5,155.1 L357.0,154.9 L357.5,154.8 L358.0,154.7 L358.5,154.5 L359.0,154.4 L359.5,154.2 L360.0,154.1 L360.5,154.0 L361.0,153.8 L361.5,153.7 L362.0,153.5 L362.5,153.4 L363.0,153.2 L363.5,153.1 L364.0,152.9 L364.5,152.8 L365.0,152.6 L365.5,152.5 L366.0,152.4 L366.5,152.2 L367.0,152.1 L367.5,151.9 L368.0,151.8 L368.5,151.7 L369.0,151.6 L369.5,151.4 L370.0,151.3 L370.5,151.2 L371.0,151.1 L371.5,150.9 L372.0,150.8 L372.5,150.7 L373.0,150.6 L373.5,150.5 L374.0,150.4 L374.5,150.3 L375.0,150.2 L375.5,150.1 L376.0,150.0 L376.5,149.9 L377.0,149.8 L377.5,149.7 L378.0,149.6 L378.5,149.6 L379.0,149.5 L379.5,149.4 L380.0,149.3 L380.5,149.2 L381.0,149.1 L381.5,149.0 L382.0,148.9 L382.5,148.8 L383.0,148.7 L383.5,148.5 L384.0,148.4 L384.5,148.3 L385.0,148.2 L385.5,148.1 L386.0,147.9 L386.5,147.8 L387.0,147.7 L387.5,147.5 L388.0,147.4 L388.5,147.2 L389.0,147.1 L389.5,146.9 L390.0,146.7 L390.5,146.5 L391.0,146.3 L391.5,146.1 L392.0,145.8 L392.5,145.6 L393.0,145.3 L393.5,145.0 L394.0,144.7 L394.5,144.3 L395.0,144.0 L395.5,143.6 L396.0,143.3 L396.5,142.9 L397.0,142.5 L397.5,142.0 L398.0,141.6 L398.5,141.2 L399.0,140.8 L399.5,140.3 L400.0,139.9 L400.5,139.4 L401.0,139.0 L401.5,138.5 L402.0,138.1 L402.5,137.6 L403.0,137.2 L403.5,136.7 L404.0,136.3 L404.5,135.9 L405.0,135.5 L405.5,135.1 L406.0,134.6 L406.5,134.2 L407.0,133.8 L407.5,133.4 L408.0,133.0 L408.5,132.6 L409.0,132.2 L409.5,131.8 L410.0,131.4 L410.5,130.9 L411.0,130.5 L411.5,130.0 L412.0,129.5 L412.5,129.0 L413.0,128.5 L413.5,127.9 L414.0,127.3 L414.5,126.7 L415.0,126.1 L415.5,125.5 L416.0,124.9 L416.5,124.3 L417.0,123.6 L417.5,123.0 L418.0,122.3 L418.5,121.7 L419.0,121.1 L419.5,120.4 L420.0,119.8 L420.5,119.2 L421.0,118.6 L421.5,118.0 L422.0,117.4 L422.5,116.7 L423.0,116.1 L423.5,115.5 L424.0,114.9 L424.5,114.2 L425.0,113.6 L425.5,112.9 L426.0,112.2 L426.5,111.6 L427.0,110.9 L427.5,110.2 L428.0,109.4 L428.5,108.7 L429.0,107.9 L429.5,107.1 L430.0,106.3 L430.5,105.5 L431.0,104.6 L431.5,103.7 L432.0,102.7 L432.5,101.7 L433.0,100.7 L433.5,99.6 L434.0,98.5 L434.5,97.4 L435.0,96.2 L435.5,95.1 L436.0,93.9 L436.5,92.7 L437.0,91.4 L437.5,90.2 L438.0,88.9 L438.5,87.7 L439.0,86.4 L439.5,85.1 L440.0,83.7 L440.5,82.4 L441.0,81.0 L441.5,79.6 L442.0,78.1 L442.5,76.7 L443.0,75.2 L443.5,73.6 L444.0,72.0 L444.5,70.4 L445.0,68.8 L445.5,67.1 L446.0,65.4 L446.5,63.7 L447.0,62.0 L447.5,60.3 L448.0,58.5 L448.5,56.7 L449.0,55.0 L449.5,53.2 L450.0,51.4 L450.5,49.6 L451.0,47.8 L451.5,46.0 L452.0,44.2 L452.5,42.4 L453.0,40.7 L453.5,39.0 L454.0,37.3 L454.5,35.7 L455.0,34.2 L455.5,32.8 L456.0,31.5 L456.5,30.3 L457.0,29.2 L457.5,28.2 L458.0,27.3 L458.5,26.5 L459.0,25.7 L459.5,25.0 L460.0,24.4 L460.5,23.9 L461.0,23.4 L461.5,23.0 L462.0,22.6 L462.5,22.2 L463.0,21.9 L463.5,21.6 L464.0,21.4 L464.5,21.2 L465.0,21.0 L465.5,20.8 L466.0,20.6 L466.5,20.5 L467.0,20.4 L467.5,20.3 L468.0,20.2 L468.5,20.1 L469.0,20.0 L469.5,19.9 L470.0,19.9 L470.5,19.8 L471.0,19.7 L471.5,19.7 L472.0,19.6 L472.5,19.6 L473.0,19.5 L473.5,19.5 L474.0,19.4 L474.5,19.4 L475.0,19.4 L475.5,19.4 L476.0,19.3 L476.5,19.3 L477.0,19.3" fill="none" stroke="#fff" stroke-width="0.6" opacity="0.35" stroke-dasharray="1.2,1.3"/>
<circle cx="477" cy="19.3" r="1.7" fill="#fff" stroke="#111111" stroke-width="1"/>
<path d="M342.5,147.4 L343.0,147.4 L343.5,147.4 L344.0,147.4 L344.5,147.5 L345.0,147.5 L345.5,147.5 L346.0,147.6 L346.5,147.6 L347.0,147.6 L347.5,147.7 L348.0,147.7 L348.5,147.7 L349.0,147.8 L349.5,147.8 L350.0,147.9 L350.5,147.9 L351.0,147.9 L351.5,148.0 L352.0,148.0 L352.5,148.1 L353.0,148.1 L353.5,148.1 L354.0,148.2 L354.5,148.2 L355.0,148.3 L355.5,148.3 L356.0,148.4 L356.5,148.4 L357.0,148.5 L357.5,148.5 L358.0,148.6 L358.5,148.6 L359.0,148.7 L359.5,148.7 L360.0,148.7 L360.5,148.8 L361.0,148.8 L361.5,148.8 L362.0,148.8 L362.5,148.8 L363.0,148.8 L363.5,148.8 L364.0,148.8 L364.5,148.8 L365.0,148.7 L365.5,148.7 L366.0,148.6 L366.5,148.6 L367.0,148.5 L367.5,148.4 L368.0,148.3 L368.5,148.2 L369.0,148.1 L369.5,148.0 L370.0,147.9 L370.5,147.8 L371.0,147.6 L371.5,147.5 L372.0,147.4 L372.5,147.2 L373.0,147.1 L373.5,146.9 L374.0,146.8 L374.5,146.6 L375.0,146.5 L375.5,146.3 L376.0,146.1 L376.5,146.0 L377.0,145.8 L377.5,145.6 L378.0,145.4 L378.5,145.3 L379.0,145.1 L379.5,144.9 L380.0,144.6 L380.5,144.4 L381.0,144.2 L381.5,144.0 L382.0,143.7 L382.5,143.4 L383.0,143.2 L383.5,142.9 L384.0,142.6 L384.5,142.3 L385.0,142.0 L385.5,141.7 L386.0,141.4 L386.5,141.1 L387.0,140.8 L387.5,140.4 L388.0,140.1 L388.5,139.8 L389.0,139.4 L389.5,139.1 L390.0,138.7 L390.5,138.4 L391.0,138.0 L391.5,137.6 L392.0,137.3 L392.5,136.9 L393.0,136.5 L393.5,136.1 L394.0,135.8 L394.5,135.4 L395.0,135.0 L395.5,134.6 L396.0,134.2 L396.5,133.8 L397.0,133.3 L397.5,132.9 L398.0,132.5 L398.5,132.0 L399.0,131.6 L399.5,131.1 L400.0,130.7 L400.5,130.2 L401.0,129.7 L401.5,129.2 L402.0,128.7 L402.5,128.2 L403.0,127.7 L403.5,127.2 L404.0,126.7 L404.5,126.2 L405.0,125.7 L405.5,125.1 L406.0,124.6 L406.5,124.1 L407.0,123.5 L407.5,123.0 L408.0,122.5 L408.5,121.9 L409.0,121.4 L409.5,120.8 L410.0,120.3 L410.5,119.7 L411.0,119.2 L411.5,118.6 L412.0,118.1 L412.5,117.5 L413.0,116.9 L413.5,116.3 L414.0,115.7 L414.5,115.1 L415.0,114.5 L415.5,113.9 L416.0,113.3 L416.5,112.7 L417.0,112.1 L417.5,111.5 L418.0,110.9 L418.5,110.3 L419.0,109.6 L419.5,109.0 L420.0,108.4 L420.5,107.8 L421.0,107.1 L421.5,106.5 L422.0,105.9 L422.5,105.3 L423.0,104.6 L423.5,104.0 L424.0,103.4 L424.5,102.8 L425.0,102.2 L425.5,101.6 L426.0,100.9 L426.5,100.3 L427.0,99.7 L427.5,99.1 L428.0,98.5 L428.5,97.8 L429.0,97.2 L429.5,96.6 L430.0,95.9 L430.5,95.3 L431.0,94.6 L431.5,93.9 L432.0,93.3 L432.5,92.6 L433.0,91.9 L433.5,91.2 L434.0,90.5 L434.5,89.7 L435.0,89.0 L435.5,88.3 L436.0,87.5 L436.5,86.7 L437.0,85.9 L437.5,85.1 L438.0,84.3 L438.5,83.5 L439.0,82.7 L439.5,81.8 L440.0,81.0 L440.5,80.2 L441.0,79.3 L441.5,78.4 L442.0,77.6 L442.5,76.7 L443.0,75.8 L443.5,75.0 L444.0,74.1 L444.5,73.2 L445.0,72.3 L445.5,71.4 L446.0,70.5 L446.5,69.6 L447.0,68.7 L447.5,67.8 L448.0,66.9 L448.5,66.0 L449.0,65.0 L449.5,64.1 L450.0,63.2 L450.5,62.3 L451.0,61.3 L451.5,60.4 L452.0,59.5 L452.5,58.5 L453.0,57.6 L453.5,56.7 L454.0,55.7 L454.5,54.8 L455.0,53.8 L455.5,52.8 L456.0,51.8 L456.5,50.8 L457.0,49.8 L457.5,48.7 L458.0,47.5 L458.5,46.4 L459.0,45.1 L459.5,43.8 L460.0,42.5 L460.5,41.1 L461.0,39.7 L461.5,38.3 L462.0,36.9 L462.5,35.5 L463.0,34.2 L463.5,33.0 L464.0,31.8 L464.5,30.8 L465.0,29.8 L465.5,28.9 L466.0,28.2 L466.5,27.4 L467.0,26.8 L467.5,26.2 L468.0,25.7 L468.5,25.2 L469.0,24.7 L469.5,24.3 L470.0,23.9 L470.5,23.6 L471.0,23.2 L471.5,22.9 L472.0,22.6 L472.5,22.4 L473.0,22.1 L473.5,21.9 L474.0,21.7 L474.5,21.5 L475.0,21.4 L475.5,21.2 L476.0,21.1 L476.5,20.9 L477.0,20.8 L477.5,20.7 L478.0,20.6 L478.5,20.5 L479.0,20.4 L479.5,20.3 L480.0,20.3 L480.5,20.2 L481.0,20.1 L481.5,20.1 L482.0,20.0 L482.5,20.0 L483.0,20.0 L483.5,19.9 L484.0,19.9 L484.5,19.8 L485.0,19.8 L485.5,19.8 L486.0,19.8 L486.5,19.7 L487.0,19.7 L487.5,19.7 L488.0,19.7 L488.5,19.7 L489.0,19.7 L489.5,19.6 L490.0,19.6 L490.5,19.6 L491.0,19.6 L491.4,19.6" fill="none" stroke="#1a8a1a" stroke-width="2.75" stroke-linecap="round" stroke-linejoin="round"/>
<path d="M342.5,147.4 L343.0,147.4 L343.5,147.4 L344.0,147.4 L344.5,147.5 L345.0,147.5 L345.5,147.5 L346.0,147.6 L346.5,147.6 L347.0,147.6 L347.5,147.7 L348.0,147.7 L348.5,147.7 L349.0,147.8 L349.5,147.8 L350.0,147.9 L350.5,147.9 L351.0,147.9 L351.5,148.0 L352.0,148.0 L352.5,148.1 L353.0,148.1 L353.5,148.1 L354.0,148.2 L354.5,148.2 L355.0,148.3 L355.5,148.3 L356.0,148.4 L356.5,148.4 L357.0,148.5 L357.5,148.5 L358.0,148.6 L358.5,148.6 L359.0,148.7 L359.5,148.7 L360.0,148.7 L360.5,148.8 L361.0,148.8 L361.5,148.8 L362.0,148.8 L362.5,148.8 L363.0,148.8 L363.5,148.8 L364.0,148.8 L364.5,148.8 L365.0,148.7 L365.5,148.7 L366.0,148.6 L366.5,148.6 L367.0,148.5 L367.5,148.4 L368.0,148.3 L368.5,148.2 L369.0,148.1 L369.5,148.0 L370.0,147.9 L370.5,147.8 L371.0,147.6 L371.5,147.5 L372.0,147.4 L372.5,147.2 L373.0,147.1 L373.5,146.9 L374.0,146.8 L374.5,146.6 L375.0,146.5 L375.5,146.3 L376.0,146.1 L376.5,146.0 L377.0,145.8 L377.5,145.6 L378.0,145.4 L378.5,145.3 L379.0,145.1 L379.5,144.9 L380.0,144.6 L380.5,144.4 L381.0,144.2 L381.5,144.0 L382.0,143.7 L382.5,143.4 L383.0,143.2 L383.5,142.9 L384.0,142.6 L384.5,142.3 L385.0,142.0 L385.5,141.7 L386.0,141.4 L386.5,141.1 L387.0,140.8 L387.5,140.4 L388.0,140.1 L388.5,139.8 L389.0,139.4 L389.5,139.1 L390.0,138.7 L390.5,138.4 L391.0,138.0 L391.5,137.6 L392.0,137.3 L392.5,136.9 L393.0,136.5 L393.5,136.1 L394.0,135.8 L394.5,135.4 L395.0,135.0 L395.5,134.6 L396.0,134.2 L396.5,133.8 L397.0,133.3 L397.5,132.9 L398.0,132.5 L398.5,132.0 L399.0,131.6 L399.5,131.1 L400.0,130.7 L400.5,130.2 L401.0,129.7 L401.5,129.2 L402.0,128.7 L402.5,128.2 L403.0,127.7 L403.5,127.2 L404.0,126.7 L404.5,126.2 L405.0,125.7 L405.5,125.1 L406.0,124.6 L406.5,124.1 L407.0,123.5 L407.5,123.0 L408.0,122.5 L408.5,121.9 L409.0,121.4 L409.5,120.8 L410.0,120.3 L410.5,119.7 L411.0,119.2 L411.5,118.6 L412.0,118.1 L412.5,117.5 L413.0,116.9 L413.5,116.3 L414.0,115.7 L414.5,115.1 L415.0,114.5 L415.5,113.9 L416.0,113.3 L416.5,112.7 L417.0,112.1 L417.5,111.5 L418.0,110.9 L418.5,110.3 L419.0,109.6 L419.5,109.0 L420.0,108.4 L420.5,107.8 L421.0,107.1 L421.5,106.5 L422.0,105.9 L422.5,105.3 L423.0,104.6 L423.5,104.0 L424.0,103.4 L424.5,102.8 L425.0,102.2 L425.5,101.6 L426.0,100.9 L426.5,100.3 L427.0,99.7 L427.5,99.1 L428.0,98.5 L428.5,97.8 L429.0,97.2 L429.5,96.6 L430.0,95.9 L430.5,95.3 L431.0,94.6 L431.5,93.9 L432.0,93.3 L432.5,92.6 L433.0,91.9 L433.5,91.2 L434.0,90.5 L434.5,89.7 L435.0,89.0 L435.5,88.3 L436.0,87.5 L436.5,86.7 L437.0,85.9 L437.5,85.1 L438.0,84.3 L438.5,83.5 L439.0,82.7 L439.5,81.8 L440.0,81.0 L440.5,80.2 L441.0,79.3 L441.5,78.4 L442.0,77.6 L442.5,76.7 L443.0,75.8 L443.5,75.0 L444.0,74.1 L444.5,73.2 L445.0,72.3 L445.5,71.4 L446.0,70.5 L446.5,69.6 L447.0,68.7 L447.5,67.8 L448.0,66.9 L448.5,66.0 L449.0,65.0 L449.5,64.1 L450.0,63.2 L450.5,62.3 L451.0,61.3 L451.5,60.4 L452.0,59.5 L452.5,58.5 L453.0,57.6 L453.5,56.7 L454.0,55.7 L454.5,54.8 L455.0,53.8 L455.5,52.8 L456.0,51.8 L456.5,50.8 L457.0,49.8 L457.5,48.7 L458.0,47.5 L458.5,46.4 L459.0,45.1 L459.5,43.8 L460.0,42.5 L460.5,41.1 L461.0,39.7 L461.5,38.3 L462.0,36.9 L462.5,35.5 L463.0,34.2 L463.5,33.0 L464.0,31.8 L464.5,30.8 L465.0,29.8 L465.5,28.9 L466.0,28.2 L466.5,27.4 L467.0,26.8 L467.5,26.2 L468.0,25.7 L468.5,25.2 L469.0,24.7 L469.5,24.3 L470.0,23.9 L470.5,23.6 L471.0,23.2 L471.5,22.9 L472.0,22.6 L472.5,22.4 L473.0,22.1 L473.5,21.9 L474.0,21.7 L474.5,21.5 L475.0,21.4 L475.5,21.2 L476.0,21.1 L476.5,20.9 L477.0,20.8 L477.5,20.7 L478.0,20.6 L478.5,20.5 L479.0,20.4 L479.5,20.3 L480.0,20.3 L480.5,20.2 L481.0,20.1 L481.5,20.1 L482.0,20.0 L482.5,20.0 L483.0,20.0 L483.5,19.9 L484.0,19.9 L484.5,19.8 L485.0,19.8 L485.5,19.8 L486.0,19.8 L486.5,19.7 L487.0,19.7 L487.5,19.7 L488.0,19.7 L488.5,19.7 L489.0,19.7 L489.5,19.6 L490.0,19.6 L490.5,19.6 L491.0,19.6 L491.4,19.6" fill="none" stroke="#fff" stroke-width="0.6" opacity="0.35" stroke-dasharray="1.2,1.3"/>
<circle cx="491.4" cy="19.6" r="1.7" fill="#fff" stroke="#1a8a1a" stroke-width="1"/>
<path d="M342.5,157.9 L343.0,157.9 L343.5,157.8 L344.0,157.6 L344.5,157.5 L345.0,157.4 L345.5,157.2 L346.0,157.1 L346.5,156.9 L347.0,156.7 L347.5,156.6 L348.0,156.4 L348.5,156.2 L349.0,156.1 L349.5,155.9 L350.0,155.7 L350.5,155.5 L351.0,155.4 L351.5,155.2 L352.0,155.0 L352.5,154.8 L353.0,154.6 L353.5,154.4 L354.0,154.3 L354.5,154.1 L355.0,153.9 L355.5,153.7 L356.0,153.5 L356.5,153.3 L357.0,153.1 L357.5,152.9 L358.0,152.7 L358.5,152.5 L359.0,152.3 L359.5,152.2 L360.0,152.0 L360.5,151.8 L361.0,151.6 L361.5,151.4 L362.0,151.2 L362.5,151.0 L363.0,150.8 L363.5,150.6 L364.0,150.4 L364.5,150.2 L365.0,150.0 L365.5,149.8 L366.0,149.6 L366.5,149.4 L367.0,149.2 L367.5,148.9 L368.0,148.7 L368.5,148.5 L369.0,148.3 L369.5,148.1 L370.0,147.9 L370.5,147.7 L371.0,147.4 L371.5,147.2 L372.0,147.0 L372.5,146.7 L373.0,146.5 L373.5,146.2 L374.0,146.0 L374.5,145.7 L375.0,145.5 L375.5,145.2 L376.0,144.9 L376.5,144.6 L377.0,144.3 L377.5,144.0 L378.0,143.7 L378.5,143.4 L379.0,143.1 L379.5,142.7 L380.0,142.4 L380.5,142.0 L381.0,141.6 L381.5,141.2 L382.0,140.8 L382.5,140.4 L383.0,140.0 L383.5,139.5 L384.0,139.1 L384.5,138.7 L385.0,138.2 L385.5,137.7 L386.0,137.3 L386.5,136.8 L387.0,136.3 L387.5,135.8 L388.0,135.3 L388.5,134.9 L389.0,134.3 L389.5,133.8 L390.0,133.3 L390.5,132.8 L391.0,132.3 L391.5,131.7 L392.0,131.2 L392.5,130.6 L393.0,130.0 L393.5,129.5 L394.0,128.9 L394.5,128.3 L395.0,127.7 L395.5,127.1 L396.0,126.5 L396.5,125.9 L397.0,125.3 L397.5,124.7 L398.0,124.1 L398.5,123.5 L399.0,122.9 L399.5,122.2 L400.0,121.6 L400.5,121.0 L401.0,120.4 L401.5,119.8 L402.0,119.1 L402.5,118.5 L403.0,117.9 L403.5,117.3 L404.0,116.6 L404.5,116.0 L405.0,115.4 L405.5,114.7 L406.0,114.1 L406.5,113.4 L407.0,112.8 L407.5,112.1 L408.0,111.4 L408.5,110.8 L409.0,110.1 L409.5,109.4 L410.0,108.6 L410.5,107.9 L411.0,107.2 L411.5,106.4 L412.0,105.6 L412.5,104.9 L413.0,104.0 L413.5,103.2 L414.0,102.4 L414.5,101.5 L415.0,100.6 L415.5,99.7 L416.0,98.8 L416.5,97.9 L417.0,96.9 L417.5,96.0 L418.0,95.0 L418.5,94.0 L419.0,93.0 L419.5,92.0 L420.0,90.9 L420.5,89.9 L421.0,88.8 L421.5,87.8 L422.0,86.7 L422.5,85.6 L423.0,84.5 L423.5,83.3 L424.0,82.2 L424.5,81.0 L425.0,79.8 L425.5,78.6 L426.0,77.3 L426.5,76.0 L427.0,74.7 L427.5,73.4 L428.0,72.0 L428.5,70.6 L429.0,69.2 L429.5,67.7 L430.0,66.3 L430.5,64.8 L431.0,63.3 L431.5,61.8 L432.0,60.3 L432.5,58.7 L433.0,57.2 L433.5,55.7 L434.0,54.2 L434.5,52.6 L435.0,51.1 L435.5,49.6 L436.0,48.1 L436.5,46.5 L437.0,45.0 L437.5,43.5 L438.0,42.1 L438.5,40.6 L439.0,39.1 L439.5,37.7 L440.0,36.3 L440.5,35.0 L441.0,33.7 L441.5,32.4 L442.0,31.2 L442.5,30.0 L443.0,29.0 L443.5,28.0 L444.0,27.0 L444.5,26.1 L445.0,25.3 L445.5,24.6 L446.0,23.9 L446.5,23.4 L447.0,22.8 L447.5,22.4 L448.0,22.0 L448.5,21.7 L449.0,21.5 L449.5,21.3 L450.0,21.1 L450.5,21.0 L451.0,20.9 L451.5,20.9 L452.0,20.8 L452.5,20.8 L453.0,20.7 L453.5,20.7 L454.0,20.7 L454.5,20.7 L455.0,20.7 L455.5,20.8 L456.0,20.8 L456.5,20.8 L457.0,20.9 L457.5,21.0 L458.0,21.0 L458.5,21.1 L459.0,21.1 L459.5,21.2 L460.0,21.2 L460.5,21.2 L461.0,21.3 L461.5,21.3 L462.0,21.3 L462.5,21.3 L463.0,21.3 L463.5,21.3 L464.0,21.3 L464.5,21.3 L465.0,21.3 L465.5,21.3 L466.0,21.2 L466.5,21.2 L467.0,21.2 L467.5,21.2 L467.6,21.2" fill="none" stroke="#ff1a1a" stroke-width="2.75" stroke-linecap="round" stroke-linejoin="round"/>
<path d="M342.5,157.9 L343.0,157.9 L343.5,157.8 L344.0,157.6 L344.5,157.5 L345.0,157.4 L345.5,157.2 L346.0,157.1 L346.5,156.9 L347.0,156.7 L347.5,156.6 L348.0,156.4 L348.5,156.2 L349.0,156.1 L349.5,155.9 L350.0,155.7 L350.5,155.5 L351.0,155.4 L351.5,155.2 L352.0,155.0 L352.5,154.8 L353.0,154.6 L353.5,154.4 L354.0,154.3 L354.5,154.1 L355.0,153.9 L355.5,153.7 L356.0,153.5 L356.5,153.3 L357.0,153.1 L357.5,152.9 L358.0,152.7 L358.5,152.5 L359.0,152.3 L359.5,152.2 L360.0,152.0 L360.5,151.8 L361.0,151.6 L361.5,151.4 L362.0,151.2 L362.5,151.0 L363.0,150.8 L363.5,150.6 L364.0,150.4 L364.5,150.2 L365.0,150.0 L365.5,149.8 L366.0,149.6 L366.5,149.4 L367.0,149.2 L367.5,148.9 L368.0,148.7 L368.5,148.5 L369.0,148.3 L369.5,148.1 L370.0,147.9 L370.5,147.7 L371.0,147.4 L371.5,147.2 L372.0,147.0 L372.5,146.7 L373.0,146.5 L373.5,146.2 L374.0,146.0 L374.5,145.7 L375.0,145.5 L375.5,145.2 L376.0,144.9 L376.5,144.6 L377.0,144.3 L377.5,144.0 L378.0,143.7 L378.5,143.4 L379.0,143.1 L379.5,142.7 L380.0,142.4 L380.5,142.0 L381.0,141.6 L381.5,141.2 L382.0,140.8 L382.5,140.4 L383.0,140.0 L383.5,139.5 L384.0,139.1 L384.5,138.7 L385.0,138.2 L385.5,137.7 L386.0,137.3 L386.5,136.8 L387.0,136.3 L387.5,135.8 L388.0,135.3 L388.5,134.9 L389.0,134.3 L389.5,133.8 L390.0,133.3 L390.5,132.8 L391.0,132.3 L391.5,131.7 L392.0,131.2 L392.5,130.6 L393.0,130.0 L393.5,129.5 L394.0,128.9 L394.5,128.3 L395.0,127.7 L395.5,127.1 L396.0,126.5 L396.5,125.9 L397.0,125.3 L397.5,124.7 L398.0,124.1 L398.5,123.5 L399.0,122.9 L399.5,122.2 L400.0,121.6 L400.5,121.0 L401.0,120.4 L401.5,119.8 L402.0,119.1 L402.5,118.5 L403.0,117.9 L403.5,117.3 L404.0,116.6 L404.5,116.0 L405.0,115.4 L405.5,114.7 L406.0,114.1 L406.5,113.4 L407.0,112.8 L407.5,112.1 L408.0,111.4 L408.5,110.8 L409.0,110.1 L409.5,109.4 L410.0,108.6 L410.5,107.9 L411.0,107.2 L411.5,106.4 L412.0,105.6 L412.5,104.9 L413.0,104.0 L413.5,103.2 L414.0,102.4 L414.5,101.5 L415.0,100.6 L415.5,99.7 L416.0,98.8 L416.5,97.9 L417.0,96.9 L417.5,96.0 L418.0,95.0 L418.5,94.0 L419.0,93.0 L419.5,92.0 L420.0,90.9 L420.5,89.9 L421.0,88.8 L421.5,87.8 L422.0,86.7 L422.5,85.6 L423.0,84.5 L423.5,83.3 L424.0,82.2 L424.5,81.0 L425.0,79.8 L425.5,78.6 L426.0,77.3 L426.5,76.0 L427.0,74.7 L427.5,73.4 L428.0,72.0 L428.5,70.6 L429.0,69.2 L429.5,67.7 L430.0,66.3 L430.5,64.8 L431.0,63.3 L431.5,61.8 L432.0,60.3 L432.5,58.7 L433.0,57.2 L433.5,55.7 L434.0,54.2 L434.5,52.6 L435.0,51.1 L435.5,49.6 L436.0,48.1 L436.5,46.5 L437.0,45.0 L437.5,43.5 L438.0,42.1 L438.5,40.6 L439.0,39.1 L439.5,37.7 L440.0,36.3 L440.5,35.0 L441.0,33.7 L441.5,32.4 L442.0,31.2 L442.5,30.0 L443.0,29.0 L443.5,28.0 L444.0,27.0 L444.5,26.1 L445.0,25.3 L445.5,24.6 L446.0,23.9 L446.5,23.4 L447.0,22.8 L447.5,22.4 L448.0,22.0 L448.5,21.7 L449.0,21.5 L449.5,21.3 L450.0,21.1 L450.5,21.0 L451.0,20.9 L451.5,20.9 L452.0,20.8 L452.5,20.8 L453.0,20.7 L453.5,20.7 L454.0,20.7 L454.5,20.7 L455.0,20.7 L455.5,20.8 L456.0,20.8 L456.5,20.8 L457.0,20.9 L457.5,21.0 L458.0,21.0 L458.5,21.1 L459.0,21.1 L459.5,21.2 L460.0,21.2 L460.5,21.2 L461.0,21.3 L461.5,21.3 L462.0,21.3 L462.5,21.3 L463.0,21.3 L463.5,21.3 L464.0,21.3 L464.5,21.3 L465.0,21.3 L465.5,21.3 L466.0,21.2 L466.5,21.2 L467.0,21.2 L467.5,21.2 L467.6,21.2" fill="none" stroke="#fff" stroke-width="0.6" opacity="0.35" stroke-dasharray="1.2,1.3"/>
<circle cx="467.6" cy="21.2" r="1.7" fill="#fff" stroke="#ff1a1a" stroke-width="1"/>
<rect x="327.4" y="5.8" width="24.600000000000012" height="170.1" fill="#ffffff" opacity="0.45"/>
<path d="M328.6,5.8 V176.6" stroke="#d2eef3" stroke-width="0.8"/>
<path d="M335.6,5.8 V176.6" stroke="#d2eef3" stroke-width="0.8"/>
<path d="M343.0,5.8 V176.6" stroke="#d2eef3" stroke-width="0.8"/>
<path d="M350.1,5.8 V176.6" stroke="#d2eef3" stroke-width="0.8"/>
<path d="M326.7,8.0 H352" stroke="#dcf0f4" stroke-width="0.8" stroke-dasharray="1.6,0.6"/>
<path d="M326.7,15.1 H352" stroke="#dcf0f4" stroke-width="0.8" stroke-dasharray="1.6,0.6"/>
<path d="M326.7,22.2 H352" stroke="#dcf0f4" stroke-width="0.8" stroke-dasharray="1.6,0.6"/>
<path d="M326.7,29.3 H352" stroke="#dcf0f4" stroke-width="0.8" stroke-dasharray="1.6,0.6"/>
<path d="M326.7,36.4 H352" stroke="#dcf0f4" stroke-width="0.8" stroke-dasharray="1.6,0.6"/>
<path d="M326.7,43.5 H352" stroke="#dcf0f4" stroke-width="0.8" stroke-dasharray="1.6,0.6"/>
<path d="M326.7,50.6 H352" stroke="#dcf0f4" stroke-width="0.8" stroke-dasharray="1.6,0.6"/>
<path d="M326.7,57.7 H352" stroke="#dcf0f4" stroke-width="0.8" stroke-dasharray="1.6,0.6"/>
<path d="M326.7,64.8 H352" stroke="#dcf0f4" stroke-width="0.8" stroke-dasharray="1.6,0.6"/>
<path d="M326.7,71.9 H352" stroke="#dcf0f4" stroke-width="0.8" stroke-dasharray="1.6,0.6"/>
<path d="M326.7,79.0 H352" stroke="#dcf0f4" stroke-width="0.8" stroke-dasharray="1.6,0.6"/>
<path d="M326.7,86.1 H352" stroke="#dcf0f4" stroke-width="0.8" stroke-dasharray="1.6,0.6"/>
<path d="M326.7,93.2 H352" stroke="#dcf0f4" stroke-width="0.8" stroke-dasharray="1.6,0.6"/>
<path d="M326.7,100.3 H352" stroke="#dcf0f4" stroke-width="0.8" stroke-dasharray="1.6,0.6"/>
<path d="M326.7,107.4 H352" stroke="#dcf0f4" stroke-width="0.8" stroke-dasharray="1.6,0.6"/>
<path d="M326.7,114.5 H352" stroke="#dcf0f4" stroke-width="0.8" stroke-dasharray="1.6,0.6"/>
<path d="M326.7,121.6 H352" stroke="#dcf0f4" stroke-width="0.8" stroke-dasharray="1.6,0.6"/>
<path d="M326.7,128.7 H352" stroke="#dcf0f4" stroke-width="0.8" stroke-dasharray="1.6,0.6"/>
<path d="M326.7,135.8 H352" stroke="#dcf0f4" stroke-width="0.8" stroke-dasharray="1.6,0.6"/>
<path d="M326.7,142.9 H352" stroke="#dcf0f4" stroke-width="0.8" stroke-dasharray="1.6,0.6"/>
<path d="M326.7,150.0 H352" stroke="#dcf0f4" stroke-width="0.8" stroke-dasharray="1.6,0.6"/>
<path d="M326.7,157.1 H352" stroke="#dcf0f4" stroke-width="0.8" stroke-dasharray="1.6,0.6"/>
<path d="M326.7,164.2 H352" stroke="#dcf0f4" stroke-width="0.8" stroke-dasharray="1.6,0.6"/>
<path d="M326.7,171.3 H352" stroke="#dcf0f4" stroke-width="0.8" stroke-dasharray="1.6,0.6"/>
<rect x="351.8" y="6.2" width="2" height="170.4" fill="#d8d8d8"/>
<path d="M340.4,164.3 L340.5,105 L341.9,40 L343.0,27 L344.5,21 L347,19.5 L349.6,20.6 L349,23.2 L346.6,24.5 L345.4,40 L344,105 L343.4,164.3 Z" fill="#bdbdbd"/>
<path d="M341.9,162 L342.2,105 L343.6,40" fill="none" stroke="#e4e4e4" stroke-width="0.7" stroke-dasharray="1,1.5"/>
<path d="M343.0,158.6 L343.6,120 L344,105 L345.8,44 L346.6,24.5 L348,21.5 L350.5,21.5 L351.3,24 L350.4,32 L349.1,44 L346.1,105 L344.4,130 L343.7,158.6 Z" fill="#f6ad68"/>
<path d="M344.9,105 L346.6,60 L347.5,44 L348.4,30" fill="none" stroke="#fde0c0" stroke-width="0.6" stroke-dasharray="1,1.4"/>
<circle cx="349" cy="21.7" r="1.3" fill="#fff"/>
<circle cx="351.2" cy="20.1" r="1.7" fill="#fff" stroke="#f6ad68" stroke-width="1"/>
<circle cx="485.5" cy="94.1" r="1.7" fill="none" stroke="#777777" stroke-width="0.9"/>
<text x="496.3" y="96.8" font-size="7.6" fill="#1a1a1a">AuNp-<tspan font-weight="bold">TA_I</tspan></text>
<circle cx="485.5" cy="103.7" r="1.7" fill="none" stroke="#ff5555" stroke-width="0.9"/>
<text x="496.3" y="106.4" font-size="7.6" fill="#1a1a1a">AuNp-<tspan font-weight="bold">TA_II</tspan></text>
<circle cx="485.5" cy="113.4" r="1.7" fill="none" stroke="#5555ff" stroke-width="0.9"/>
<text x="496.3" y="116.1" font-size="7.6" fill="#1a1a1a">AuNp-<tspan font-weight="bold">TA_III(a)</tspan></text>
<circle cx="485.5" cy="123.0" r="1.7" fill="none" stroke="#3a9a3a" stroke-width="0.9"/>
<text x="496.3" y="125.7" font-size="7.6" fill="#1a1a1a">AuNp-<tspan font-weight="bold">TA_III(b)</tspan></text>
<circle cx="485.5" cy="132.6" r="1.7" fill="none" stroke="#f6a0f6" stroke-width="0.9"/>
<text x="496.3" y="135.3" font-size="7.6" fill="#1a1a1a">AuNp-<tspan font-weight="bold">TA_III(c)</tspan></text>
<circle cx="485.5" cy="142.2" r="1.7" fill="none" stroke="#f5a050" stroke-width="0.9"/>
<text x="496.3" y="144.9" font-size="7.6" fill="#1a1a1a">AuNp-<tspan font-weight="bold">ALK_SH</tspan></text>
<circle cx="485.5" cy="151.9" r="1.7" fill="none" stroke="#b8b8b8" stroke-width="0.9"/>
<text x="496.3" y="154.6" font-size="7.6" fill="#1a1a1a">AuNp-<tspan font-weight="bold">ALK_DS</tspan></text>
<path d="M346.7,171.1 V219.5" fill="none" stroke="#111" stroke-width="1.4" stroke-dasharray="4.0,3.35"/>
<path d="M346.0,221.3 H401.5" fill="none" stroke="#111" stroke-width="1.4" stroke-dasharray="4.2,2.9"/>
<path d="M407.4,221.3 L401,217.8 L402.5,221.3 L401,224.8 Z" fill="#111"/>
<g><path d="M331.4,203.4 L325.9,209.5" stroke="#111" stroke-width="4.0" stroke-linecap="round"/><path d="M331.4,203.4 L325.9,209.5" stroke="#dcdce6" stroke-width="2.0" stroke-linecap="round"/><ellipse cx="335.0" cy="200.7" rx="6.9" ry="4.3" fill="#111"/><ellipse cx="335.0" cy="201.0" rx="5.5" ry="2.9" fill="#e4e6f0"/><ellipse cx="335.0" cy="199.9" rx="5.3" ry="2.1" fill="#8fdde8"/><ellipse cx="334.4" cy="199.5" rx="3.0" ry="1.0" fill="#c8f2f8" opacity="0.8"/></g>
<path d="M387.4,216.3 V343.2 H542.6" fill="none" stroke="#3a3a3a" stroke-width="1"/>
<path d="M385.79999999999995,216.3 H387.4" stroke="#3a3a3a" stroke-width="0.8"/>
<path d="M385.2,327.2 H387.4" stroke="#3a3a3a" stroke-width="0.8"/>
<text x="383.79999999999995" y="328.9" font-size="5" text-anchor="end" fill="#1a1a1a">0.2</text>
<path d="M385.2,302.6 H387.4" stroke="#3a3a3a" stroke-width="0.8"/>
<text x="383.79999999999995" y="304.3" font-size="5" text-anchor="end" fill="#1a1a1a">0.4</text>
<path d="M385.2,278.0 H387.4" stroke="#3a3a3a" stroke-width="0.8"/>
<text x="383.79999999999995" y="279.7" font-size="5" text-anchor="end" fill="#1a1a1a">0.6</text>
<path d="M385.2,253.4 H387.4" stroke="#3a3a3a" stroke-width="0.8"/>
<text x="383.79999999999995" y="255.1" font-size="5" text-anchor="end" fill="#1a1a1a">0.8</text>
<path d="M385.2,228.8 H387.4" stroke="#3a3a3a" stroke-width="0.8"/>
<text x="383.79999999999995" y="230.5" font-size="5" text-anchor="end" fill="#1a1a1a">1.0</text>
<path d="M386.09999999999997,339.5 H387.4" stroke="#3a3a3a" stroke-width="0.8"/>
<path d="M386.09999999999997,314.9 H387.4" stroke="#3a3a3a" stroke-width="0.8"/>
<path d="M386.09999999999997,290.3 H387.4" stroke="#3a3a3a" stroke-width="0.8"/>
<path d="M386.09999999999997,265.7 H387.4" stroke="#3a3a3a" stroke-width="0.8"/>
<path d="M386.09999999999997,241.1 H387.4" stroke="#3a3a3a" stroke-width="0.8"/>
<path d="M404.6,343.2 V345.4" stroke="#3a3a3a" stroke-width="0.8"/>
<text x="404.6" y="350.9" font-size="5" text-anchor="middle" fill="#1a1a1a">0</text>
<path d="M439.2,343.2 V345.4" stroke="#3a3a3a" stroke-width="0.8"/>
<text x="439.2" y="350.9" font-size="5" text-anchor="middle" fill="#1a1a1a">10</text>
<path d="M473.8,343.2 V345.4" stroke="#3a3a3a" stroke-width="0.8"/>
<text x="473.8" y="350.9" font-size="5" text-anchor="middle" fill="#1a1a1a">20</text>
<path d="M508.4,343.2 V345.4" stroke="#3a3a3a" stroke-width="0.8"/>
<text x="508.4" y="350.9" font-size="5" text-anchor="middle" fill="#1a1a1a">30</text>
<path d="M543.0,343.2 V345.4" stroke="#3a3a3a" stroke-width="0.8"/>
<text x="543.0" y="350.9" font-size="5" text-anchor="middle" fill="#1a1a1a">40</text>
<path d="M387.3,343.2 V344.5" stroke="#3a3a3a" stroke-width="0.8"/>
<path d="M421.9,343.2 V344.5" stroke="#3a3a3a" stroke-width="0.8"/>
<path d="M456.5,343.2 V344.5" stroke="#3a3a3a" stroke-width="0.8"/>
<path d="M491.1,343.2 V344.5" stroke="#3a3a3a" stroke-width="0.8"/>
<path d="M525.7,343.2 V344.5" stroke="#3a3a3a" stroke-width="0.8"/>
<text class="dk" x="466.7" y="365.3" font-size="9.5" text-anchor="middle" fill="#1a1a1a">t (min)</text>
<text transform="translate(373.0,283.6) rotate(-90)" font-size="5.83" text-anchor="middle" fill="#1a1a1a">Abs. (670 nm) Normalized</text>
<circle cx="404.5" cy="330.2" r="1.05" fill="none" stroke="#f07878" stroke-width="0.6" opacity="1.0"/><circle cx="407.1" cy="330.2" r="1.05" fill="none" stroke="#f07878" stroke-width="0.6" opacity="1.0"/><circle cx="409.6" cy="330.2" r="1.05" fill="none" stroke="#f07878" stroke-width="0.6" opacity="1.0"/><circle cx="412.1" cy="330.2" r="1.05" fill="none" stroke="#f07878" stroke-width="0.6" opacity="1.0"/><circle cx="414.7" cy="330.2" r="1.05" fill="none" stroke="#f07878" stroke-width="0.6" opacity="1.0"/><circle cx="417.2" cy="330.2" r="1.05" fill="none" stroke="#f07878" stroke-width="0.6" opacity="1.0"/><circle cx="419.8" cy="330.2" r="1.05" fill="none" stroke="#f07878" stroke-width="0.6" opacity="1.0"/><circle cx="422.4" cy="330.2" r="1.05" fill="none" stroke="#f07878" stroke-width="0.6" opacity="1.0"/><circle cx="424.9" cy="330.2" r="1.05" fill="none" stroke="#f07878" stroke-width="0.6" opacity="1.0"/><circle cx="427.4" cy="330.2" r="1.05" fill="none" stroke="#f07878" stroke-width="0.6" opacity="1.0"/><circle cx="430.0" cy="330.2" r="1.05" fill="none" stroke="#f07878" stroke-width="0.6" opacity="1.0"/><circle cx="432.6" cy="330.2" r="1.05" fill="none" stroke="#f07878" stroke-width="0.6" opacity="1.0"/><circle cx="435.1" cy="330.2" r="1.05" fill="none" stroke="#f07878" stroke-width="0.6" opacity="1.0"/><circle cx="437.6" cy="330.2" r="1.05" fill="none" stroke="#f07878" stroke-width="0.6" opacity="1.0"/><circle cx="440.2" cy="330.3" r="1.05" fill="none" stroke="#f07878" stroke-width="0.6" opacity="1.0"/><circle cx="442.8" cy="330.3" r="1.05" fill="none" stroke="#f07878" stroke-width="0.6" opacity="1.0"/><circle cx="445.3" cy="330.3" r="1.05" fill="none" stroke="#f07878" stroke-width="0.6" opacity="1.0"/><circle cx="447.9" cy="330.3" r="1.05" fill="none" stroke="#f07878" stroke-width="0.6" opacity="1.0"/><circle cx="450.4" cy="330.3" r="1.05" fill="none" stroke="#f07878" stroke-width="0.6" opacity="1.0"/><circle cx="452.9" cy="330.3" r="1.05" fill="none" stroke="#f07878" stroke-width="0.6" opacity="1.0"/><circle cx="455.5" cy="330.3" r="1.05" fill="none" stroke="#f07878" stroke-width="0.6" opacity="1.0"/><circle cx="458.1" cy="330.3" r="1.05" fill="none" stroke="#f07878" stroke-width="0.6" opacity="1.0"/><circle cx="460.6" cy="330.3" r="1.05" fill="none" stroke="#f07878" stroke-width="0.6" opacity="1.0"/><circle cx="463.1" cy="330.3" r="1.05" fill="none" stroke="#f07878" stroke-width="0.6" opacity="1.0"/><circle cx="465.7" cy="330.3" r="1.05" fill="none" stroke="#f07878" stroke-width="0.6" opacity="1.0"/><circle cx="468.2" cy="330.3" r="1.05" fill="none" stroke="#f07878" stroke-width="0.6" opacity="1.0"/><circle cx="470.8" cy="330.3" r="1.05" fill="none" stroke="#f07878" stroke-width="0.6" opacity="1.0"/><circle cx="473.4" cy="330.3" r="1.05" fill="none" stroke="#f07878" stroke-width="0.6" opacity="1.0"/><circle cx="475.9" cy="330.3" r="1.05" fill="none" stroke="#f07878" stroke-width="0.6" opacity="1.0"/><circle cx="478.4" cy="330.3" r="1.05" fill="none" stroke="#f07878" stroke-width="0.6" opacity="1.0"/><circle cx="481.0" cy="330.3" r="1.05" fill="none" stroke="#f07878" stroke-width="0.6" opacity="1.0"/><circle cx="483.6" cy="330.3" r="1.05" fill="none" stroke="#f07878" stroke-width="0.6" opacity="1.0"/><circle cx="486.1" cy="330.3" r="1.05" fill="none" stroke="#f07878" stroke-width="0.6" opacity="1.0"/><circle cx="488.6" cy="330.3" r="1.05" fill="none" stroke="#f07878" stroke-width="0.6" opacity="1.0"/><circle cx="491.2" cy="330.3" r="1.05" fill="none" stroke="#f07878" stroke-width="0.6" opacity="1.0"/><circle cx="493.8" cy="330.3" r="1.05" fill="none" stroke="#f07878" stroke-width="0.6" opacity="1.0"/><circle cx="496.3" cy="330.3" r="1.05" fill="none" stroke="#f07878" stroke-width="0.6" opacity="1.0"/><circle cx="498.9" cy="330.3" r="1.05" fill="none" stroke="#f07878" stroke-width="0.6" opacity="1.0"/><circle cx="501.4" cy="330.3" r="1.05" fill="none" stroke="#f07878" stroke-width="0.6" opacity="1.0"/><circle cx="503.9" cy="330.3" r="1.05" fill="none" stroke="#f07878" stroke-width="0.6" opacity="1.0"/><circle cx="506.5" cy="330.3" r="1.05" fill="none" stroke="#f07878" stroke-width="0.6" opacity="1.0"/><circle cx="509.1" cy="330.4" r="1.05" fill="none" stroke="#f07878" stroke-width="0.6" opacity="1.0"/><circle cx="511.6" cy="330.4" r="1.05" fill="none" stroke="#f07878" stroke-width="0.6" opacity="1.0"/><circle cx="514.1" cy="330.4" r="1.05" fill="none" stroke="#f07878" stroke-width="0.6" opacity="1.0"/><circle cx="516.7" cy="330.4" r="1.05" fill="none" stroke="#f07878" stroke-width="0.6" opacity="1.0"/><circle cx="519.2" cy="330.4" r="1.05" fill="none" stroke="#f07878" stroke-width="0.6" opacity="1.0"/><circle cx="521.8" cy="330.4" r="1.05" fill="none" stroke="#f07878" stroke-width="0.6" opacity="1.0"/><circle cx="524.4" cy="330.4" r="1.05" fill="none" stroke="#f07878" stroke-width="0.6" opacity="1.0"/><circle cx="526.9" cy="330.4" r="1.05" fill="none" stroke="#f07878" stroke-width="0.6" opacity="1.0"/><circle cx="529.5" cy="330.4" r="1.05" fill="none" stroke="#f07878" stroke-width="0.6" opacity="1.0"/><circle cx="532.0" cy="330.4" r="1.05" fill="none" stroke="#f07878" stroke-width="0.6" opacity="1.0"/><circle cx="534.5" cy="330.4" r="1.05" fill="none" stroke="#f07878" stroke-width="0.6" opacity="1.0"/><circle cx="537.1" cy="330.4" r="1.05" fill="none" stroke="#f07878" stroke-width="0.6" opacity="1.0"/><circle cx="539.6" cy="330.4" r="1.05" fill="none" stroke="#f07878" stroke-width="0.6" opacity="1.0"/><circle cx="542.2" cy="330.4" r="1.05" fill="none" stroke="#f07878" stroke-width="0.6" opacity="1.0"/>
<circle cx="404.5" cy="329.0" r="1.05" fill="none" stroke="#7a6ae8" stroke-width="0.6" opacity="1.0"/><circle cx="407.1" cy="329.0" r="1.05" fill="none" stroke="#7a6ae8" stroke-width="0.6" opacity="1.0"/><circle cx="409.6" cy="329.0" r="1.05" fill="none" stroke="#7a6ae8" stroke-width="0.6" opacity="1.0"/><circle cx="412.1" cy="329.0" r="1.05" fill="none" stroke="#7a6ae8" stroke-width="0.6" opacity="1.0"/><circle cx="414.7" cy="329.0" r="1.05" fill="none" stroke="#7a6ae8" stroke-width="0.6" opacity="1.0"/><circle cx="417.2" cy="329.0" r="1.05" fill="none" stroke="#7a6ae8" stroke-width="0.6" opacity="1.0"/><circle cx="419.8" cy="329.0" r="1.05" fill="none" stroke="#7a6ae8" stroke-width="0.6" opacity="1.0"/><circle cx="422.4" cy="329.0" r="1.05" fill="none" stroke="#7a6ae8" stroke-width="0.6" opacity="1.0"/><circle cx="424.9" cy="329.0" r="1.05" fill="none" stroke="#7a6ae8" stroke-width="0.6" opacity="1.0"/><circle cx="427.4" cy="329.0" r="1.05" fill="none" stroke="#7a6ae8" stroke-width="0.6" opacity="1.0"/><circle cx="430.0" cy="329.0" r="1.05" fill="none" stroke="#7a6ae8" stroke-width="0.6" opacity="1.0"/><circle cx="432.6" cy="329.0" r="1.05" fill="none" stroke="#7a6ae8" stroke-width="0.6" opacity="1.0"/><circle cx="435.1" cy="329.0" r="1.05" fill="none" stroke="#7a6ae8" stroke-width="0.6" opacity="1.0"/><circle cx="437.6" cy="329.0" r="1.05" fill="none" stroke="#7a6ae8" stroke-width="0.6" opacity="1.0"/><circle cx="440.2" cy="329.1" r="1.05" fill="none" stroke="#7a6ae8" stroke-width="0.6" opacity="1.0"/><circle cx="442.8" cy="329.1" r="1.05" fill="none" stroke="#7a6ae8" stroke-width="0.6" opacity="1.0"/><circle cx="445.3" cy="329.1" r="1.05" fill="none" stroke="#7a6ae8" stroke-width="0.6" opacity="1.0"/><circle cx="447.9" cy="329.1" r="1.05" fill="none" stroke="#7a6ae8" stroke-width="0.6" opacity="1.0"/><circle cx="450.4" cy="329.1" r="1.05" fill="none" stroke="#7a6ae8" stroke-width="0.6" opacity="1.0"/><circle cx="452.9" cy="329.1" r="1.05" fill="none" stroke="#7a6ae8" stroke-width="0.6" opacity="1.0"/><circle cx="455.5" cy="329.1" r="1.05" fill="none" stroke="#7a6ae8" stroke-width="0.6" opacity="1.0"/><circle cx="458.1" cy="329.1" r="1.05" fill="none" stroke="#7a6ae8" stroke-width="0.6" opacity="1.0"/><circle cx="460.6" cy="329.1" r="1.05" fill="none" stroke="#7a6ae8" stroke-width="0.6" opacity="1.0"/><circle cx="463.1" cy="329.1" r="1.05" fill="none" stroke="#7a6ae8" stroke-width="0.6" opacity="1.0"/><circle cx="465.7" cy="329.1" r="1.05" fill="none" stroke="#7a6ae8" stroke-width="0.6" opacity="1.0"/><circle cx="468.2" cy="329.1" r="1.05" fill="none" stroke="#7a6ae8" stroke-width="0.6" opacity="1.0"/><circle cx="470.8" cy="329.1" r="1.05" fill="none" stroke="#7a6ae8" stroke-width="0.6" opacity="1.0"/><circle cx="473.4" cy="329.1" r="1.05" fill="none" stroke="#7a6ae8" stroke-width="0.6" opacity="1.0"/><circle cx="475.9" cy="329.1" r="1.05" fill="none" stroke="#7a6ae8" stroke-width="0.6" opacity="1.0"/><circle cx="478.4" cy="329.1" r="1.05" fill="none" stroke="#7a6ae8" stroke-width="0.6" opacity="1.0"/><circle cx="481.0" cy="329.1" r="1.05" fill="none" stroke="#7a6ae8" stroke-width="0.6" opacity="1.0"/><circle cx="483.6" cy="329.1" r="1.05" fill="none" stroke="#7a6ae8" stroke-width="0.6" opacity="1.0"/><circle cx="486.1" cy="329.1" r="1.05" fill="none" stroke="#7a6ae8" stroke-width="0.6" opacity="1.0"/><circle cx="488.6" cy="329.1" r="1.05" fill="none" stroke="#7a6ae8" stroke-width="0.6" opacity="1.0"/><circle cx="491.2" cy="329.1" r="1.05" fill="none" stroke="#7a6ae8" stroke-width="0.6" opacity="1.0"/><circle cx="493.8" cy="329.1" r="1.05" fill="none" stroke="#7a6ae8" stroke-width="0.6" opacity="1.0"/><circle cx="496.3" cy="329.1" r="1.05" fill="none" stroke="#7a6ae8" stroke-width="0.6" opacity="1.0"/><circle cx="498.9" cy="329.1" r="1.05" fill="none" stroke="#7a6ae8" stroke-width="0.6" opacity="1.0"/><circle cx="501.4" cy="329.1" r="1.05" fill="none" stroke="#7a6ae8" stroke-width="0.6" opacity="1.0"/><circle cx="503.9" cy="329.1" r="1.05" fill="none" stroke="#7a6ae8" stroke-width="0.6" opacity="1.0"/><circle cx="506.5" cy="329.1" r="1.05" fill="none" stroke="#7a6ae8" stroke-width="0.6" opacity="1.0"/><circle cx="509.1" cy="329.2" r="1.05" fill="none" stroke="#7a6ae8" stroke-width="0.6" opacity="1.0"/><circle cx="511.6" cy="329.2" r="1.05" fill="none" stroke="#7a6ae8" stroke-width="0.6" opacity="1.0"/><circle cx="514.1" cy="329.2" r="1.05" fill="none" stroke="#7a6ae8" stroke-width="0.6" opacity="1.0"/><circle cx="516.7" cy="329.2" r="1.05" fill="none" stroke="#7a6ae8" stroke-width="0.6" opacity="1.0"/><circle cx="519.2" cy="329.2" r="1.05" fill="none" stroke="#7a6ae8" stroke-width="0.6" opacity="1.0"/><circle cx="521.8" cy="329.2" r="1.05" fill="none" stroke="#7a6ae8" stroke-width="0.6" opacity="1.0"/><circle cx="524.4" cy="329.2" r="1.05" fill="none" stroke="#7a6ae8" stroke-width="0.6" opacity="1.0"/><circle cx="526.9" cy="329.2" r="1.05" fill="none" stroke="#7a6ae8" stroke-width="0.6" opacity="1.0"/><circle cx="529.5" cy="329.2" r="1.05" fill="none" stroke="#7a6ae8" stroke-width="0.6" opacity="1.0"/><circle cx="532.0" cy="329.2" r="1.05" fill="none" stroke="#7a6ae8" stroke-width="0.6" opacity="1.0"/><circle cx="534.5" cy="329.2" r="1.05" fill="none" stroke="#7a6ae8" stroke-width="0.6" opacity="1.0"/><circle cx="537.1" cy="329.2" r="1.05" fill="none" stroke="#7a6ae8" stroke-width="0.6" opacity="1.0"/><circle cx="539.6" cy="329.2" r="1.05" fill="none" stroke="#7a6ae8" stroke-width="0.6" opacity="1.0"/><circle cx="542.2" cy="329.2" r="1.05" fill="none" stroke="#7a6ae8" stroke-width="0.6" opacity="1.0"/>
<circle cx="404.5" cy="327.2" r="1.05" fill="none" stroke="#eaa8ea" stroke-width="0.6" opacity="1.0"/><circle cx="407.1" cy="327.2" r="1.05" fill="none" stroke="#eaa8ea" stroke-width="0.6" opacity="1.0"/><circle cx="409.6" cy="327.2" r="1.05" fill="none" stroke="#eaa8ea" stroke-width="0.6" opacity="1.0"/><circle cx="412.1" cy="327.2" r="1.05" fill="none" stroke="#eaa8ea" stroke-width="0.6" opacity="1.0"/><circle cx="414.7" cy="327.2" r="1.05" fill="none" stroke="#eaa8ea" stroke-width="0.6" opacity="1.0"/><circle cx="417.2" cy="327.2" r="1.05" fill="none" stroke="#eaa8ea" stroke-width="0.6" opacity="1.0"/><circle cx="419.8" cy="327.2" r="1.05" fill="none" stroke="#eaa8ea" stroke-width="0.6" opacity="1.0"/><circle cx="422.4" cy="327.2" r="1.05" fill="none" stroke="#eaa8ea" stroke-width="0.6" opacity="1.0"/><circle cx="424.9" cy="327.2" r="1.05" fill="none" stroke="#eaa8ea" stroke-width="0.6" opacity="1.0"/><circle cx="427.4" cy="327.2" r="1.05" fill="none" stroke="#eaa8ea" stroke-width="0.6" opacity="1.0"/><circle cx="430.0" cy="327.2" r="1.05" fill="none" stroke="#eaa8ea" stroke-width="0.6" opacity="1.0"/><circle cx="432.6" cy="327.2" r="1.05" fill="none" stroke="#eaa8ea" stroke-width="0.6" opacity="1.0"/><circle cx="435.1" cy="327.2" r="1.05" fill="none" stroke="#eaa8ea" stroke-width="0.6" opacity="1.0"/><circle cx="437.6" cy="327.2" r="1.05" fill="none" stroke="#eaa8ea" stroke-width="0.6" opacity="1.0"/><circle cx="440.2" cy="327.3" r="1.05" fill="none" stroke="#eaa8ea" stroke-width="0.6" opacity="1.0"/><circle cx="442.8" cy="327.3" r="1.05" fill="none" stroke="#eaa8ea" stroke-width="0.6" opacity="1.0"/><circle cx="445.3" cy="327.3" r="1.05" fill="none" stroke="#eaa8ea" stroke-width="0.6" opacity="1.0"/><circle cx="447.9" cy="327.3" r="1.05" fill="none" stroke="#eaa8ea" stroke-width="0.6" opacity="1.0"/><circle cx="450.4" cy="327.3" r="1.05" fill="none" stroke="#eaa8ea" stroke-width="0.6" opacity="1.0"/><circle cx="452.9" cy="327.3" r="1.05" fill="none" stroke="#eaa8ea" stroke-width="0.6" opacity="1.0"/><circle cx="455.5" cy="327.3" r="1.05" fill="none" stroke="#eaa8ea" stroke-width="0.6" opacity="1.0"/><circle cx="458.1" cy="327.3" r="1.05" fill="none" stroke="#eaa8ea" stroke-width="0.6" opacity="1.0"/><circle cx="460.6" cy="327.3" r="1.05" fill="none" stroke="#eaa8ea" stroke-width="0.6" opacity="1.0"/><circle cx="463.1" cy="327.3" r="1.05" fill="none" stroke="#eaa8ea" stroke-width="0.6" opacity="1.0"/><circle cx="465.7" cy="327.3" r="1.05" fill="none" stroke="#eaa8ea" stroke-width="0.6" opacity="1.0"/><circle cx="468.2" cy="327.3" r="1.05" fill="none" stroke="#eaa8ea" stroke-width="0.6" opacity="1.0"/><circle cx="470.8" cy="327.3" r="1.05" fill="none" stroke="#eaa8ea" stroke-width="0.6" opacity="1.0"/><circle cx="473.4" cy="327.3" r="1.05" fill="none" stroke="#eaa8ea" stroke-width="0.6" opacity="1.0"/><circle cx="475.9" cy="327.3" r="1.05" fill="none" stroke="#eaa8ea" stroke-width="0.6" opacity="1.0"/><circle cx="478.4" cy="327.3" r="1.05" fill="none" stroke="#eaa8ea" stroke-width="0.6" opacity="1.0"/><circle cx="481.0" cy="327.3" r="1.05" fill="none" stroke="#eaa8ea" stroke-width="0.6" opacity="1.0"/><circle cx="483.6" cy="327.3" r="1.05" fill="none" stroke="#eaa8ea" stroke-width="0.6" opacity="1.0"/><circle cx="486.1" cy="327.3" r="1.05" fill="none" stroke="#eaa8ea" stroke-width="0.6" opacity="1.0"/><circle cx="488.6" cy="327.3" r="1.05" fill="none" stroke="#eaa8ea" stroke-width="0.6" opacity="1.0"/><circle cx="491.2" cy="327.3" r="1.05" fill="none" stroke="#eaa8ea" stroke-width="0.6" opacity="1.0"/><circle cx="493.8" cy="327.3" r="1.05" fill="none" stroke="#eaa8ea" stroke-width="0.6" opacity="1.0"/><circle cx="496.3" cy="327.3" r="1.05" fill="none" stroke="#eaa8ea" stroke-width="0.6" opacity="1.0"/><circle cx="498.9" cy="327.3" r="1.05" fill="none" stroke="#eaa8ea" stroke-width="0.6" opacity="1.0"/><circle cx="501.4" cy="327.3" r="1.05" fill="none" stroke="#eaa8ea" stroke-width="0.6" opacity="1.0"/><circle cx="503.9" cy="327.3" r="1.05" fill="none" stroke="#eaa8ea" stroke-width="0.6" opacity="1.0"/><circle cx="506.5" cy="327.3" r="1.05" fill="none" stroke="#eaa8ea" stroke-width="0.6" opacity="1.0"/><circle cx="509.1" cy="327.4" r="1.05" fill="none" stroke="#eaa8ea" stroke-width="0.6" opacity="1.0"/><circle cx="511.6" cy="327.4" r="1.05" fill="none" stroke="#eaa8ea" stroke-width="0.6" opacity="1.0"/><circle cx="514.1" cy="327.4" r="1.05" fill="none" stroke="#eaa8ea" stroke-width="0.6" opacity="1.0"/><circle cx="516.7" cy="327.4" r="1.05" fill="none" stroke="#eaa8ea" stroke-width="0.6" opacity="1.0"/><circle cx="519.2" cy="327.4" r="1.05" fill="none" stroke="#eaa8ea" stroke-width="0.6" opacity="1.0"/><circle cx="521.8" cy="327.4" r="1.05" fill="none" stroke="#eaa8ea" stroke-width="0.6" opacity="1.0"/><circle cx="524.4" cy="327.4" r="1.05" fill="none" stroke="#eaa8ea" stroke-width="0.6" opacity="1.0"/><circle cx="526.9" cy="327.4" r="1.05" fill="none" stroke="#eaa8ea" stroke-width="0.6" opacity="1.0"/><circle cx="529.5" cy="327.4" r="1.05" fill="none" stroke="#eaa8ea" stroke-width="0.6" opacity="1.0"/><circle cx="532.0" cy="327.4" r="1.05" fill="none" stroke="#eaa8ea" stroke-width="0.6" opacity="1.0"/><circle cx="534.5" cy="327.4" r="1.05" fill="none" stroke="#eaa8ea" stroke-width="0.6" opacity="1.0"/><circle cx="537.1" cy="327.4" r="1.05" fill="none" stroke="#eaa8ea" stroke-width="0.6" opacity="1.0"/><circle cx="539.6" cy="327.4" r="1.05" fill="none" stroke="#eaa8ea" stroke-width="0.6" opacity="1.0"/><circle cx="542.2" cy="327.4" r="1.05" fill="none" stroke="#eaa8ea" stroke-width="0.6" opacity="1.0"/>
<circle cx="404.5" cy="321.3" r="1.1" fill="none" stroke="#88c488" stroke-width="0.6" opacity="1.0"/><circle cx="407.1" cy="321.3" r="1.1" fill="none" stroke="#88c488" stroke-width="0.6" opacity="1.0"/><circle cx="409.6" cy="321.4" r="1.1" fill="none" stroke="#88c488" stroke-width="0.6" opacity="1.0"/><circle cx="412.1" cy="321.4" r="1.1" fill="none" stroke="#88c488" stroke-width="0.6" opacity="1.0"/><circle cx="414.7" cy="321.4" r="1.1" fill="none" stroke="#88c488" stroke-width="0.6" opacity="1.0"/><circle cx="417.2" cy="321.5" r="1.1" fill="none" stroke="#88c488" stroke-width="0.6" opacity="1.0"/><circle cx="419.8" cy="321.5" r="1.1" fill="none" stroke="#88c488" stroke-width="0.6" opacity="1.0"/><circle cx="422.4" cy="321.5" r="1.1" fill="none" stroke="#88c488" stroke-width="0.6" opacity="1.0"/><circle cx="424.9" cy="321.6" r="1.1" fill="none" stroke="#88c488" stroke-width="0.6" opacity="1.0"/><circle cx="427.4" cy="321.6" r="1.1" fill="none" stroke="#88c488" stroke-width="0.6" opacity="1.0"/><circle cx="430.0" cy="321.7" r="1.1" fill="none" stroke="#88c488" stroke-width="0.6" opacity="1.0"/><circle cx="432.6" cy="321.7" r="1.1" fill="none" stroke="#88c488" stroke-width="0.6" opacity="1.0"/><circle cx="435.1" cy="321.7" r="1.1" fill="none" stroke="#88c488" stroke-width="0.6" opacity="1.0"/><circle cx="437.6" cy="321.8" r="1.1" fill="none" stroke="#88c488" stroke-width="0.6" opacity="1.0"/><circle cx="440.2" cy="321.8" r="1.1" fill="none" stroke="#88c488" stroke-width="0.6" opacity="1.0"/><circle cx="442.8" cy="321.8" r="1.1" fill="none" stroke="#88c488" stroke-width="0.6" opacity="1.0"/><circle cx="445.3" cy="321.9" r="1.1" fill="none" stroke="#88c488" stroke-width="0.6" opacity="1.0"/><circle cx="447.9" cy="321.9" r="1.1" fill="none" stroke="#88c488" stroke-width="0.6" opacity="1.0"/><circle cx="450.4" cy="321.9" r="1.1" fill="none" stroke="#88c488" stroke-width="0.6" opacity="1.0"/><circle cx="452.9" cy="322.0" r="1.1" fill="none" stroke="#88c488" stroke-width="0.6" opacity="1.0"/><circle cx="455.5" cy="322.0" r="1.1" fill="none" stroke="#88c488" stroke-width="0.6" opacity="1.0"/><circle cx="458.1" cy="322.0" r="1.1" fill="none" stroke="#88c488" stroke-width="0.6" opacity="1.0"/><circle cx="460.6" cy="322.1" r="1.1" fill="none" stroke="#88c488" stroke-width="0.6" opacity="1.0"/><circle cx="463.1" cy="322.1" r="1.1" fill="none" stroke="#88c488" stroke-width="0.6" opacity="1.0"/><circle cx="465.7" cy="322.1" r="1.1" fill="none" stroke="#88c488" stroke-width="0.6" opacity="1.0"/><circle cx="468.2" cy="322.2" r="1.1" fill="none" stroke="#88c488" stroke-width="0.6" opacity="1.0"/><circle cx="470.8" cy="322.2" r="1.1" fill="none" stroke="#88c488" stroke-width="0.6" opacity="1.0"/><circle cx="473.4" cy="322.2" r="1.1" fill="none" stroke="#88c488" stroke-width="0.6" opacity="1.0"/><circle cx="475.9" cy="322.3" r="1.1" fill="none" stroke="#88c488" stroke-width="0.6" opacity="1.0"/><circle cx="478.4" cy="322.3" r="1.1" fill="none" stroke="#88c488" stroke-width="0.6" opacity="1.0"/><circle cx="481.0" cy="322.4" r="1.1" fill="none" stroke="#88c488" stroke-width="0.6" opacity="1.0"/><circle cx="483.6" cy="322.4" r="1.1" fill="none" stroke="#88c488" stroke-width="0.6" opacity="1.0"/><circle cx="486.1" cy="322.4" r="1.1" fill="none" stroke="#88c488" stroke-width="0.6" opacity="1.0"/><circle cx="488.6" cy="322.5" r="1.1" fill="none" stroke="#88c488" stroke-width="0.6" opacity="1.0"/><circle cx="491.2" cy="322.5" r="1.1" fill="none" stroke="#88c488" stroke-width="0.6" opacity="1.0"/><circle cx="493.8" cy="322.5" r="1.1" fill="none" stroke="#88c488" stroke-width="0.6" opacity="1.0"/><circle cx="496.3" cy="322.6" r="1.1" fill="none" stroke="#88c488" stroke-width="0.6" opacity="1.0"/><circle cx="498.9" cy="322.6" r="1.1" fill="none" stroke="#88c488" stroke-width="0.6" opacity="1.0"/><circle cx="501.4" cy="322.6" r="1.1" fill="none" stroke="#88c488" stroke-width="0.6" opacity="1.0"/><circle cx="503.9" cy="322.7" r="1.1" fill="none" stroke="#88c488" stroke-width="0.6" opacity="1.0"/><circle cx="506.5" cy="322.7" r="1.1" fill="none" stroke="#88c488" stroke-width="0.6" opacity="1.0"/><circle cx="509.1" cy="322.7" r="1.1" fill="none" stroke="#88c488" stroke-width="0.6" opacity="1.0"/><circle cx="511.6" cy="322.8" r="1.1" fill="none" stroke="#88c488" stroke-width="0.6" opacity="1.0"/><circle cx="514.1" cy="322.8" r="1.1" fill="none" stroke="#88c488" stroke-width="0.6" opacity="1.0"/><circle cx="516.7" cy="322.8" r="1.1" fill="none" stroke="#88c488" stroke-width="0.6" opacity="1.0"/><circle cx="519.2" cy="322.9" r="1.1" fill="none" stroke="#88c488" stroke-width="0.6" opacity="1.0"/><circle cx="521.8" cy="322.9" r="1.1" fill="none" stroke="#88c488" stroke-width="0.6" opacity="1.0"/><circle cx="524.4" cy="323.0" r="1.1" fill="none" stroke="#88c488" stroke-width="0.6" opacity="1.0"/><circle cx="526.9" cy="323.0" r="1.1" fill="none" stroke="#88c488" stroke-width="0.6" opacity="1.0"/><circle cx="529.5" cy="323.0" r="1.1" fill="none" stroke="#88c488" stroke-width="0.6" opacity="1.0"/><circle cx="532.0" cy="323.1" r="1.1" fill="none" stroke="#88c488" stroke-width="0.6" opacity="1.0"/><circle cx="534.5" cy="323.1" r="1.1" fill="none" stroke="#88c488" stroke-width="0.6" opacity="1.0"/><circle cx="537.1" cy="323.1" r="1.1" fill="none" stroke="#88c488" stroke-width="0.6" opacity="1.0"/><circle cx="539.6" cy="323.2" r="1.1" fill="none" stroke="#88c488" stroke-width="0.6" opacity="1.0"/><circle cx="542.2" cy="323.2" r="1.1" fill="none" stroke="#88c488" stroke-width="0.6" opacity="1.0"/>
<path d="M404.7,331.4 L405.2,331.1 L405.7,330.8 L406.2,330.4 L406.7,329.9 L407.2,329.5 L407.7,329.0 L408.2,328.5 L408.7,328.0 L409.2,327.6 L409.7,327.1 L410.2,326.6 L410.7,326.1 L411.2,325.6 L411.7,325.1 L412.2,324.7 L412.7,324.2 L413.2,323.7 L413.7,323.2 L414.2,322.7 L414.7,322.2 L415.2,321.7 L415.7,321.2 L416.2,320.7 L416.7,320.2 L417.2,319.6 L417.7,319.1 L418.2,318.6 L418.7,318.0 L419.2,317.5 L419.7,316.9 L420.2,316.4 L420.7,315.8 L421.2,315.2 L421.7,314.6 L422.2,314.0 L422.7,313.4 L423.2,312.8 L423.7,312.2 L424.2,311.6 L424.7,311.0 L425.2,310.4 L425.7,309.7 L426.2,309.1 L426.7,308.5 L427.2,307.8 L427.7,307.2 L428.2,306.5 L428.7,305.9 L429.2,305.2 L429.7,304.6 L430.2,303.9 L430.7,303.2 L431.2,302.6 L431.7,301.9 L432.2,301.3 L432.7,300.6 L433.2,299.9 L433.7,299.2 L434.2,298.6 L434.7,297.9 L435.2,297.2 L435.7,296.5 L436.2,295.8 L436.7,295.1 L437.2,294.4 L437.7,293.7 L438.2,293.0 L438.7,292.3 L439.2,291.6 L439.7,290.8 L440.2,290.1 L440.7,289.4 L441.2,288.7 L441.7,288.0 L442.2,287.3 L442.7,286.6 L443.2,285.8 L443.7,285.1 L444.2,284.4 L444.7,283.7 L445.2,283.0 L445.7,282.3 L446.2,281.6 L446.7,280.9 L447.2,280.2 L447.7,279.5 L448.2,278.9 L448.7,278.2 L449.2,277.5 L449.7,276.8 L450.2,276.2 L450.7,275.5 L451.2,274.8 L451.7,274.2 L452.2,273.5 L452.7,272.9 L453.2,272.2 L453.7,271.5 L454.2,270.9 L454.7,270.2 L455.2,269.6 L455.7,268.9 L456.2,268.3 L456.7,267.6 L457.2,267.0 L457.7,266.4 L458.2,265.7 L458.7,265.1 L459.2,264.4 L459.7,263.8 L460.2,263.2 L460.7,262.5 L461.2,261.9 L461.7,261.2 L462.2,260.6 L462.7,260.0 L463.2,259.3 L463.7,258.7 L464.2,258.0 L464.7,257.4 L465.2,256.8 L465.7,256.1 L466.2,255.4 L466.7,254.8 L467.2,254.1 L467.7,253.4 L468.2,252.7 L468.7,252.1 L469.2,251.4 L469.7,250.7 L470.2,250.0 L470.7,249.3 L471.2,248.7 L471.7,248.0 L472.2,247.3 L472.7,246.7 L473.2,246.1 L473.7,245.5 L474.2,244.9 L474.7,244.3 L475.2,243.7 L475.7,243.2 L476.2,242.7 L476.7,242.2 L477.2,241.7 L477.7,241.3 L478.2,240.8 L478.7,240.4 L479.2,240.0 L479.7,239.6 L480.2,239.2 L480.7,238.8 L481.2,238.4 L481.7,238.1 L482.2,237.7 L482.7,237.3 L483.2,237.0 L483.7,236.6 L484.2,236.3 L484.7,236.0 L485.2,235.7 L485.7,235.4 L486.2,235.1 L486.7,234.8 L487.2,234.6 L487.7,234.3 L488.2,234.1 L488.7,233.9 L489.2,233.6 L489.7,233.4 L490.2,233.3 L490.7,233.1 L491.2,232.9 L491.7,232.7 L492.2,232.6 L492.7,232.4 L493.2,232.3 L493.7,232.1 L494.2,232.0 L494.7,231.9 L495.2,231.7 L495.7,231.6 L496.2,231.5 L496.7,231.4 L497.2,231.2 L497.7,231.1 L498.2,231.0 L498.7,230.9 L499.2,230.8 L499.7,230.7 L500.2,230.6 L500.7,230.5 L501.2,230.4 L501.7,230.3 L502.2,230.2 L502.7,230.2 L503.2,230.1 L503.7,230.0 L504.2,230.0 L504.7,229.9 L505.2,229.9 L505.7,229.8 L506.2,229.8 L506.7,229.7 L507.2,229.7 L507.7,229.7 L508.2,229.6 L508.7,229.6 L509.2,229.6 L509.7,229.6 L510.2,229.5 L510.7,229.5 L511.2,229.5 L511.7,229.5 L512.2,229.4 L512.7,229.4 L513.2,229.4 L513.7,229.4 L514.2,229.3 L514.7,229.3 L515.2,229.3 L515.7,229.3 L516.2,229.3 L516.7,229.2 L517.2,229.2 L517.7,229.2 L518.2,229.2 L518.7,229.2 L519.2,229.2 L519.7,229.2 L520.2,229.2 L520.7,229.1 L521.2,229.1 L521.7,229.1 L522.2,229.1 L522.7,229.1 L523.2,229.1 L523.7,229.1 L524.2,229.1 L524.7,229.1 L524.8,229.1" fill="none" stroke="#ff7f10" stroke-width="2.8" stroke-linecap="round" stroke-linejoin="round"/>
<path d="M404.9,329.8 L405.4,328.8 L405.9,327.5 L406.4,326.1 L406.9,324.5 L407.4,322.8 L407.9,321.1 L408.4,319.4 L408.9,317.7 L409.4,316.0 L409.9,314.4 L410.4,312.7 L410.9,311.1 L411.4,309.4 L411.9,307.8 L412.4,306.2 L412.9,304.6 L413.4,303.0 L413.9,301.5 L414.4,299.9 L414.9,298.3 L415.4,296.7 L415.9,295.2 L416.4,293.6 L416.9,292.1 L417.4,290.5 L417.9,289.0 L418.4,287.5 L418.9,286.0 L419.4,284.5 L419.9,283.0 L420.4,281.6 L420.9,280.1 L421.4,278.7 L421.9,277.4 L422.4,276.0 L422.9,274.6 L423.4,273.3 L423.9,272.0 L424.4,270.7 L424.9,269.4 L425.4,268.2 L425.9,266.9 L426.4,265.7 L426.9,264.4 L427.4,263.2 L427.9,262.0 L428.4,260.9 L428.9,259.7 L429.4,258.6 L429.9,257.5 L430.4,256.5 L430.9,255.4 L431.4,254.4 L431.9,253.4 L432.4,252.5 L432.9,251.5 L433.4,250.6 L433.9,249.7 L434.4,248.8 L434.9,247.9 L435.4,247.0 L435.9,246.2 L436.4,245.3 L436.9,244.5 L437.4,243.7 L437.9,242.9 L438.4,242.2 L438.9,241.5 L439.4,240.8 L439.9,240.2 L440.4,239.6 L440.9,239.1 L441.4,238.6 L441.9,238.1 L442.4,237.7 L442.9,237.3 L443.4,236.9 L443.9,236.5 L444.4,236.2 L444.9,235.8 L445.4,235.5 L445.9,235.2 L446.4,234.9 L446.9,234.6 L447.4,234.3 L447.9,234.0 L448.4,233.7 L448.9,233.5 L449.4,233.2 L449.9,233.0 L450.4,232.8 L450.9,232.6 L451.4,232.4 L451.9,232.2 L452.4,232.0 L452.9,231.9 L453.4,231.7 L453.9,231.6 L454.4,231.5 L454.9,231.4 L455.4,231.3 L455.9,231.2 L456.4,231.1 L456.9,231.0 L457.4,230.9 L457.9,230.8 L458.4,230.7 L458.9,230.7 L459.4,230.6 L459.9,230.5 L460.4,230.4 L460.9,230.4 L461.4,230.3 L461.9,230.2 L462.4,230.2 L462.9,230.1 L463.4,230.0 L463.9,230.0 L464.4,229.9 L464.9,229.9 L465.4,229.8 L465.9,229.8 L466.4,229.7 L466.9,229.7 L467.4,229.6 L467.9,229.6 L468.4,229.6 L468.9,229.5 L469.4,229.5 L469.9,229.5 L470.4,229.4 L470.9,229.4 L471.4,229.4 L471.9,229.4 L472.4,229.3 L472.9,229.3 L473.4,229.3 L473.9,229.3 L474.4,229.3 L474.9,229.3 L475.4,229.3 L475.9,229.3 L476.4,229.3 L476.9,229.3 L477.4,229.3 L477.9,229.4 L478.4,229.4 L478.9,229.4 L479.4,229.4 L479.9,229.4 L480.4,229.5 L480.9,229.5 L481.4,229.5 L481.9,229.5 L482.4,229.6 L482.9,229.6 L483.4,229.6 L483.9,229.6 L484.4,229.7 L484.9,229.7 L485.4,229.7 L485.9,229.8 L486.4,229.8 L486.9,229.8 L487.4,229.9 L487.9,229.9 L488.4,229.9 L488.9,229.9 L489.4,230.0 L489.9,230.0 L490.4,230.0 L490.9,230.0 L491.4,230.1 L491.9,230.1 L492.4,230.1 L492.9,230.2 L493.4,230.2 L493.9,230.2 L494.4,230.2 L494.9,230.3 L495.4,230.3 L495.9,230.3 L496.4,230.4 L496.9,230.4 L497.4,230.4 L497.9,230.5 L498.4,230.5 L498.9,230.5 L499.4,230.6 L499.9,230.6 L500.4,230.6 L500.9,230.7 L501.4,230.7 L501.9,230.7 L502.4,230.7 L502.9,230.8" fill="none" stroke="#858585" stroke-width="2.6" stroke-linecap="round" stroke-linejoin="round"/>
<circle cx="502.9" cy="230.8" r="1.3" fill="#fff" stroke="#858585" stroke-width="0.7"/>
<circle cx="525" cy="229" r="1.3" fill="#fff" stroke="#ff7f10" stroke-width="0.7" opacity="0.6"/>
<rect x="21.5" y="216.5" width="258.3" height="131.2" rx="13" ry="13" fill="none" stroke="#5a5a5a" stroke-width="0.9" stroke-dasharray="2.4,2.0"/>
<rect x="65.7" y="238.1" width="80.2" height="15.1" rx="3.8" ry="3.8" fill="#fff" stroke="#222" stroke-width="1.25"/><text class="dk" x="105.8" y="249.0" font-size="9.3" font-style="italic" text-anchor="middle" fill="#1a1a1a">Oligonucleotide</text>
<rect x="30.4" y="278.3" width="79.1" height="15.3" rx="3.8" ry="3.8" fill="#fff" stroke="#222" stroke-width="1.25"/><text class="dk" x="70.0" y="289.4" font-size="9.3" font-style="italic" text-anchor="middle" fill="#1a1a1a">Oligonucleotide</text>
<rect x="65.8" y="320.9" width="80.6" height="15.2" rx="3.8" ry="3.8" fill="#fff" stroke="#222" stroke-width="1.25"/><text class="dk" x="106.1" y="331.9" font-size="9.3" font-style="italic" text-anchor="middle" fill="#1a1a1a">Oligonucleotide</text>
<text class="dk" x="64.0" y="235.1" font-size="7.3" fill="#1a1a1a">5'</text>
<text class="dk" x="143.2" y="235.0" font-size="7.3" fill="#1a1a1a">3'</text>
<text class="dk" x="28.2" y="274.8" font-size="7.3" fill="#1a1a1a">5'</text>
<text class="dk" x="106.0" y="275.2" font-size="7.3" fill="#1a1a1a">3'</text>
<text class="dk" x="64.0" y="318.2" font-size="7.3" fill="#1a1a1a">5'</text>
<text class="dk" x="142.5" y="318.6" font-size="7.3" fill="#1a1a1a">3'</text>
<path d="M146.00,247.00 L146.25,247.42 L146.50,247.80 L146.75,248.12 L147.00,248.35 L147.26,248.48 L147.51,248.49 L147.76,248.38 L148.01,248.16 L148.26,247.85 L148.51,247.48 L148.76,247.06 L149.01,246.64 L149.26,246.25 L149.52,245.92 L149.77,245.67 L150.02,245.53 L150.27,245.50 L150.52,245.60 L150.77,245.80 L151.02,246.09 L151.27,246.46 L151.52,246.87 L151.78,247.29 L152.03,247.69 L152.28,248.03 L152.53,248.30 L152.78,248.45 L153.03,248.50 L153.28,248.43 L153.53,248.24 L153.78,247.95 L154.04,247.60 L154.29,247.19 L154.54,246.77 L154.79,246.37 L155.04,246.01 L155.29,245.74 L155.54,245.56 L155.79,245.50 L156.05,245.56 L156.30,245.73 L156.55,246.00 L156.80,246.35 L157.05,246.75 L157.30,247.17 L157.55,247.58 L157.80,247.94 L158.05,248.23 L158.31,248.42 L158.56,248.50 L158.81,248.46 L159.06,248.31 L159.31,248.05 L159.56,247.71 L159.81,247.31 L160.06,246.89 L160.31,246.48 L160.57,246.11 L160.82,245.81 L161.07,245.60 L161.32,245.51 L161.57,245.53 L161.82,245.66 L162.07,245.91 L162.32,246.24 L162.57,246.62 L162.83,247.04 L163.08,247.46 L163.33,247.84 L163.58,248.15 L163.83,248.37 L164.08,248.49 L164.33,248.48 L164.58,248.36 L164.83,248.14 L165.09,247.82 L165.34,247.44 L165.59,247.02 L165.84,246.60 L166.09,246.22 L166.34,245.89 L166.59,245.65 L166.84,245.52 L167.09,245.51 L167.35,245.61 L167.60,245.82 L167.85,246.13 L168.10,246.50 L168.35,246.92 L168.60,247.34 L168.85,247.73 L169.10,248.07 L169.35,248.32 L169.61,248.46 L169.86,248.50 L170.11,248.41 L170.36,248.21 L170.61,247.92 L170.86,247.56 L171.11,247.15 L171.36,246.73 L171.62,246.33 L171.87,245.98 L172.12,245.71 L172.37,245.55 L172.62,245.50 L172.87,245.57 L173.12,245.75 L173.37,246.03 L173.62,246.39 L173.88,246.79 L174.13,247.21 L174.38,247.62 L174.63,247.97 L174.88,248.25 L175.13,248.43 L175.38,248.50 L175.63,248.45 L175.88,248.28 L176.14,248.02 L176.39,247.67 L176.64,247.27 L176.89,246.85 L177.14,246.44 L177.39,246.08 L177.64,245.78 L177.89,245.59 L178.14,245.50 L178.40,245.54 L178.65,245.68 L178.90,245.94 L179.15,246.27 L179.40,246.67" fill="none" stroke="#111" stroke-width="1.8"/>
<path d="M179.4,245.6 L183.3,235.3 L195.3,235.3 L197.2,244.4 M195.4,251.0 L191.8,252.6 M184.8,251.6 L179.4,245.6" fill="none" stroke="#222" stroke-width="1.05"/>
<text class="dk" x="198.0" y="250.6" font-size="7.4" text-anchor="middle" fill="#1a1a1a">S</text>
<text class="dk" x="188.3" y="256.8" font-size="7.4" text-anchor="middle" fill="#1a1a1a">S</text>
<text class="dk" x="217.6" y="247.9" font-size="8.3" fill="#1a1a1a">TA analogues</text>
<path d="M109.60,286.20 L109.85,286.91 L110.11,287.35 L110.36,287.33 L110.61,286.88 L110.86,286.16 L111.12,285.46 L111.37,285.04 L111.62,285.08 L111.87,285.55 L112.13,286.28 L112.38,286.97 L112.63,287.37 L112.88,287.31 L113.14,286.81 L113.39,286.08 L113.64,285.40 L113.89,285.02 L114.15,285.11 L114.40,285.62 L114.65,286.36 L114.91,287.03 L115.16,287.38 L115.41,287.27 L115.66,286.74 L115.92,286.00 L116.17,285.34 L116.42,285.01 L116.67,285.15 L116.93,285.69 L117.18,286.44 L117.43,287.09 L117.68,287.39 L117.94,287.23 L118.19,286.67 L118.44,285.92 L118.69,285.29 L118.95,285.00 L119.20,285.19" fill="none" stroke="#222" stroke-width="1.0"/>
<text class="dk" x="122.2" y="289.1" font-size="7.4" text-anchor="middle" fill="#1a1a1a">O</text>
<path d="M125.3,288.0 L132.4,292.4 L144.4,286.2 L155.9,292.4 L163.0,288.0 M169.2,288.6 L174.2,291.6 M180.3,292.3 L188.4,286.5 L199.3,293.1 L210.9,286.5 L218,290.6" fill="none" stroke="#222" stroke-width="1.05"/>
<text class="dk" x="166.1" y="289.2" font-size="7.4" text-anchor="middle" fill="#1a1a1a">S</text>
<text class="dk" x="177.2" y="296.5" font-size="7.4" text-anchor="middle" fill="#1a1a1a">S</text>
<text class="dk" x="218.6" y="295.5" font-size="7.3" fill="#1a1a1a">OH</text>
<text class="dk" x="235.3" y="297.7" font-size="8.3" fill="#1a1a1a">ALK_DS</text>
<path d="M146.60,329.60 L146.85,330.31 L147.10,330.75 L147.36,330.73 L147.61,330.28 L147.86,329.56 L148.11,328.86 L148.37,328.44 L148.62,328.48 L148.87,328.95 L149.12,329.67 L149.38,330.37 L149.63,330.76 L149.88,330.71 L150.13,330.22 L150.39,329.49 L150.64,328.81 L150.89,328.43 L151.14,328.51 L151.40,329.01 L151.65,329.74 L151.90,330.42 L152.15,330.78 L152.40,330.68 L152.66,330.16 L152.91,329.42 L153.16,328.75 L153.41,328.41 L153.67,328.54 L153.92,329.07 L154.17,329.81 L154.42,330.47 L154.68,330.79 L154.93,330.65 L155.18,330.09 L155.43,329.35 L155.69,328.70 L155.94,328.41 L156.19,328.57 L156.44,329.14 L156.70,329.88 L156.95,330.52 L157.20,330.80" fill="none" stroke="#222" stroke-width="1.0"/>
<text class="dk" x="159.4" y="332.3" font-size="7.4" text-anchor="middle" fill="#1a1a1a">O</text>
<path d="M162.4,331.0 L170.4,335.4 L181.9,329.2 L192.1,335.4 L201,330.9" fill="none" stroke="#222" stroke-width="1.05"/>
<text class="dk" x="201.4" y="332.0" font-size="7.2" fill="#1a1a1a">SH</text>
<text class="dk" x="231.3" y="333.6" font-size="8.3" fill="#1a1a1a">ALK_SH</text>
</g></svg></body></html>
